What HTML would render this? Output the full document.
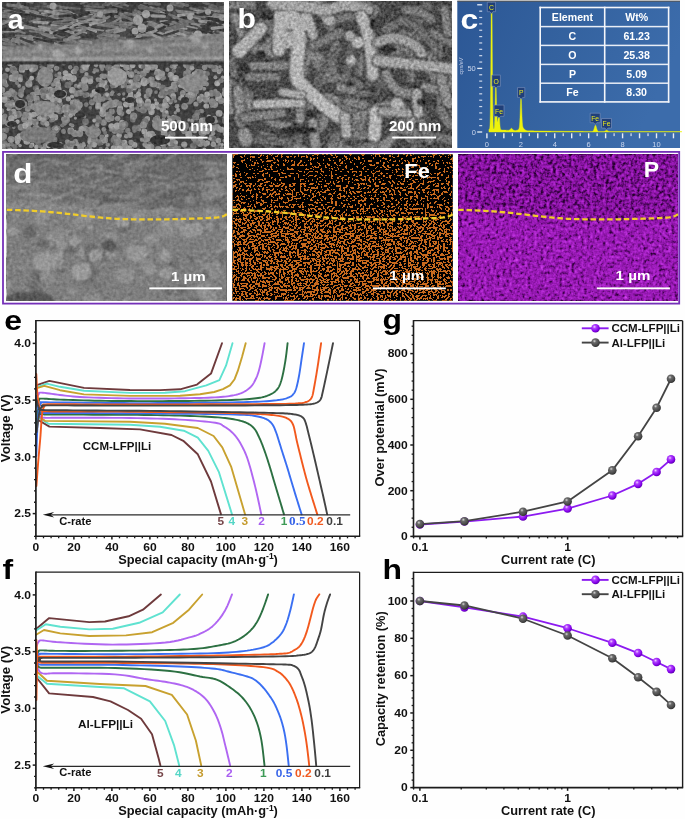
<!DOCTYPE html><html><head><meta charset="utf-8"><style>html,body{margin:0;padding:0;background:#fff;overflow:hidden}svg{display:block;will-change:transform}</style></head><body>
<svg width="685" height="819" viewBox="0 0 685 819">
<rect width="685" height="819" fill="#fefefe"/>
<defs>
<filter id="semN2" filterUnits="userSpaceOnUse" x="0" y="0" width="685" height="305" color-interpolation-filters="sRGB">
 <feTurbulence type="fractalNoise" baseFrequency="0.35" numOctaves="2" seed="9" result="t"/>
 <feColorMatrix in="t" type="matrix" values="0.33 0.33 0.33 0 0 0.33 0.33 0.33 0 0 0.33 0.33 0.33 0 0 0 0 0 0 1" result="g"/>
 <feComposite in="SourceGraphic" in2="g" operator="arithmetic" k1="0" k2="1" k3="0.7" k4="-0.35"/>
</filter>
<filter id="semD" filterUnits="userSpaceOnUse" x="0" y="0" width="685" height="305" color-interpolation-filters="sRGB">
 <feTurbulence type="fractalNoise" baseFrequency="0.3" numOctaves="2" seed="13" result="t"/>
 <feColorMatrix in="t" type="matrix" values="0.33 0.33 0.33 0 0 0.33 0.33 0.33 0 0 0.33 0.33 0.33 0 0 0 0 0 0 1" result="g"/>
 <feComposite in="SourceGraphic" in2="g" operator="arithmetic" k1="0" k2="1" k3="0.35" k4="-0.175"/>
</filter>
<filter id="blur1" filterUnits="userSpaceOnUse" x="0" y="0" width="685" height="305"><feGaussianBlur stdDeviation="1.0"/></filter>
<filter id="blur2" filterUnits="userSpaceOnUse" x="0" y="0" width="685" height="305"><feGaussianBlur stdDeviation="2.2"/></filter>
<filter id="blur4" filterUnits="userSpaceOnUse" x="0" y="0" width="685" height="305"><feGaussianBlur stdDeviation="4"/></filter>
<filter id="fedots" filterUnits="userSpaceOnUse" x="232.5" y="154.3" width="220.3" height="146.4" color-interpolation-filters="sRGB">
 <feTurbulence type="fractalNoise" baseFrequency="0.48" numOctaves="1" seed="11" result="t"/>
 <feColorMatrix in="t" type="matrix" values="0 0 0 0 0 0 0 0 0 0 0 0 0 0 0 1 0 0 0 0" result="na"/>
 <feColorMatrix in="SourceGraphic" type="matrix" values="0 0 0 0 0 0 0 0 0 0 0 0 0 0 0 1 0 0 0 0" result="da"/>
 <feComposite in="na" in2="da" operator="arithmetic" k1="0" k2="1" k3="1" k4="-0.5" result="s"/>
 <feComponentTransfer in="s"><feFuncA type="discrete" tableValues="0 1"/></feComponentTransfer>
 <feComposite in2="SourceAlpha" operator="in" result="m"/>
 <feFlood flood-color="#c96a1e"/>
 <feComposite in2="m" operator="in" result="o"/>
 <feFlood flood-color="#000"/>
 <feComposite in2="SourceAlpha" operator="in"/>
 <feComposite in="o" operator="over"/>
 
</filter>
<filter id="pnoise" filterUnits="userSpaceOnUse" x="458.2" y="154.3" width="219.8" height="146.4" color-interpolation-filters="sRGB">
 <feTurbulence type="fractalNoise" baseFrequency="0.32" numOctaves="2" seed="5" result="t"/>
 <feColorMatrix in="t" type="matrix" values="0.33 0.33 0.33 0 0 0.33 0.33 0.33 0 0 0.33 0.33 0.33 0 0 0 0 0 0 1" result="g"/>
 <feComposite in="SourceGraphic" in2="g" operator="arithmetic" k1="0" k2="1" k3="2.2" k4="-1.1" result="s"/>
 <feComponentTransfer in="s">
  <feFuncR type="table" tableValues="0.14 0.33 0.54 0.64 0.72 0.8"/>
  <feFuncG type="table" tableValues="0.0 0.03 0.08 0.12 0.18 0.26"/>
  <feFuncB type="table" tableValues="0.17 0.4 0.64 0.76 0.84 0.91"/>
  <feFuncA type="table" tableValues="1 1"/>
 </feComponentTransfer>
</filter>
<linearGradient id="cbg" x1="0" y1="0" x2="1" y2="0.3">
 <stop offset="0" stop-color="#2c5795"/><stop offset="0.5" stop-color="#34629f"/><stop offset="1" stop-color="#3c6cab"/>
</linearGradient>
</defs>
<svg x="2" y="2" width="222" height="147" viewBox="2 2 222 147" overflow="hidden"><g filter="url(#semD)">
<rect x="2" y="2" width="222" height="147" fill="#4a4a4a"/>
<rect x="2" y="2" width="222" height="44" fill="#484848"/>
<g>
<line x1="17.38" y1="38.09" x2="24.68" y2="37.59" stroke="#7e7e7e" stroke-width="3.05" stroke-linecap="round"/>
<line x1="78.94" y1="25.24" x2="97.08" y2="21.01" stroke="#7e7e7e" stroke-width="1.83" stroke-linecap="round"/>
<line x1="141.54" y1="-1.61" x2="159.23" y2="5.72" stroke="#808080" stroke-width="2.13" stroke-linecap="round"/>
<line x1="40.64" y1="8.15" x2="48.73" y2="5.22" stroke="#3a3a3a" stroke-width="1.97" stroke-linecap="round"/>
<line x1="65.18" y1="30.75" x2="74.75" y2="33.57" stroke="#969696" stroke-width="2.98" stroke-linecap="round"/>
<line x1="106.77" y1="23.76" x2="125.13" y2="23.26" stroke="#404040" stroke-width="1.92" stroke-linecap="round"/>
<line x1="144.97" y1="2.55" x2="160.24" y2="6.77" stroke="#363636" stroke-width="2.63" stroke-linecap="round"/>
<line x1="79.86" y1="5.63" x2="91.41" y2="7.2" stroke="#404040" stroke-width="3.13" stroke-linecap="round"/>
<line x1="124.25" y1="17.76" x2="141.28" y2="20.97" stroke="#808080" stroke-width="2.89" stroke-linecap="round"/>
<line x1="34.52" y1="42.28" x2="45.67" y2="46.13" stroke="#7e7e7e" stroke-width="2.55" stroke-linecap="round"/>
<line x1="135.26" y1="24.08" x2="151.41" y2="18.23" stroke="#3a3a3a" stroke-width="1.85" stroke-linecap="round"/>
<line x1="212.4" y1="0.78" x2="220.98" y2="0.84" stroke="#3a3a3a" stroke-width="1.9" stroke-linecap="round"/>
<line x1="23.47" y1="22.82" x2="30.73" y2="25.05" stroke="#3a3a3a" stroke-width="2.34" stroke-linecap="round"/>
<line x1="86.44" y1="6.38" x2="94.55" y2="2.13" stroke="#6e6e6e" stroke-width="2.01" stroke-linecap="round"/>
<line x1="158.24" y1="4.68" x2="170.16" y2="7.76" stroke="#808080" stroke-width="2.71" stroke-linecap="round"/>
<line x1="80.17" y1="23.79" x2="89.65" y2="19.78" stroke="#868686" stroke-width="2.23" stroke-linecap="round"/>
<line x1="211.37" y1="27.42" x2="230.79" y2="26.07" stroke="#363636" stroke-width="2.45" stroke-linecap="round"/>
<line x1="184.53" y1="33.33" x2="199.94" y2="32.52" stroke="#6e6e6e" stroke-width="2.63" stroke-linecap="round"/>
<line x1="103.66" y1="39.13" x2="109.84" y2="40.04" stroke="#747474" stroke-width="3" stroke-linecap="round"/>
<line x1="180.48" y1="20.97" x2="191.29" y2="21.46" stroke="#808080" stroke-width="2.48" stroke-linecap="round"/>
<line x1="222.51" y1="7.17" x2="236.63" y2="10.02" stroke="#3a3a3a" stroke-width="2.32" stroke-linecap="round"/>
<line x1="67.01" y1="11.2" x2="83.78" y2="10.53" stroke="#404040" stroke-width="1.85" stroke-linecap="round"/>
<line x1="2.64" y1="39.48" x2="9.27" y2="41.94" stroke="#808080" stroke-width="2.11" stroke-linecap="round"/>
<line x1="4.7" y1="10.75" x2="22" y2="7.58" stroke="#7e7e7e" stroke-width="2.66" stroke-linecap="round"/>
<line x1="-11.49" y1="18.04" x2="-3.9" y2="18.66" stroke="#909090" stroke-width="2.75" stroke-linecap="round"/>
<line x1="23.31" y1="37.77" x2="32.67" y2="39.65" stroke="#969696" stroke-width="2.24" stroke-linecap="round"/>
<line x1="35.04" y1="12.79" x2="44.63" y2="16.77" stroke="#868686" stroke-width="1.89" stroke-linecap="round"/>
<line x1="61.48" y1="25.39" x2="75.47" y2="31.49" stroke="#3a3a3a" stroke-width="2.06" stroke-linecap="round"/>
<line x1="35.09" y1="7.28" x2="50.07" y2="6.45" stroke="#747474" stroke-width="2.35" stroke-linecap="round"/>
<line x1="58.94" y1="12.94" x2="73.49" y2="13.36" stroke="#363636" stroke-width="1.93" stroke-linecap="round"/>
<line x1="38.06" y1="35.57" x2="47.45" y2="31.93" stroke="#404040" stroke-width="2.49" stroke-linecap="round"/>
<line x1="192.9" y1="4.21" x2="212.62" y2="5.84" stroke="#404040" stroke-width="2.23" stroke-linecap="round"/>
<line x1="155.95" y1="32.86" x2="173.05" y2="36.54" stroke="#363636" stroke-width="2.93" stroke-linecap="round"/>
<line x1="203.62" y1="31.51" x2="213.15" y2="32.01" stroke="#868686" stroke-width="2.75" stroke-linecap="round"/>
<line x1="92.65" y1="17.05" x2="102.26" y2="16.89" stroke="#7e7e7e" stroke-width="2.91" stroke-linecap="round"/>
<line x1="209.77" y1="36.67" x2="220.66" y2="40.55" stroke="#6e6e6e" stroke-width="2.04" stroke-linecap="round"/>
<line x1="6.51" y1="21.2" x2="15.83" y2="20.72" stroke="#969696" stroke-width="2.76" stroke-linecap="round"/>
<line x1="215.53" y1="26.07" x2="222.2" y2="26.28" stroke="#868686" stroke-width="2.87" stroke-linecap="round"/>
<line x1="140.51" y1="13.62" x2="151.72" y2="13.82" stroke="#969696" stroke-width="2.63" stroke-linecap="round"/>
<line x1="191.36" y1="34.17" x2="207.44" y2="33.99" stroke="#7e7e7e" stroke-width="2.49" stroke-linecap="round"/>
<line x1="79.86" y1="26.54" x2="95.96" y2="20.18" stroke="#868686" stroke-width="2.17" stroke-linecap="round"/>
<line x1="205" y1="36.19" x2="221.7" y2="42.66" stroke="#747474" stroke-width="3.16" stroke-linecap="round"/>
<line x1="77.15" y1="34.05" x2="84.78" y2="33.34" stroke="#363636" stroke-width="2.55" stroke-linecap="round"/>
<line x1="204.14" y1="24.31" x2="210.41" y2="24.92" stroke="#363636" stroke-width="2.14" stroke-linecap="round"/>
<line x1="47.76" y1="5.97" x2="63.46" y2="12.68" stroke="#909090" stroke-width="2.56" stroke-linecap="round"/>
<line x1="103.29" y1="35.54" x2="110.74" y2="33.81" stroke="#7e7e7e" stroke-width="2.56" stroke-linecap="round"/>
<line x1="217.55" y1="27.91" x2="233.03" y2="28.24" stroke="#808080" stroke-width="2.25" stroke-linecap="round"/>
<line x1="14.86" y1="32.04" x2="28.8" y2="26.32" stroke="#6e6e6e" stroke-width="2.34" stroke-linecap="round"/>
<line x1="119.21" y1="41.01" x2="132.52" y2="46.54" stroke="#808080" stroke-width="2.37" stroke-linecap="round"/>
<line x1="164.46" y1="38.91" x2="178.69" y2="32.78" stroke="#363636" stroke-width="2.4" stroke-linecap="round"/>
<line x1="82.67" y1="36.49" x2="97.6" y2="37.47" stroke="#3a3a3a" stroke-width="2.68" stroke-linecap="round"/>
<line x1="83.09" y1="26.11" x2="89.13" y2="27.22" stroke="#3a3a3a" stroke-width="2.92" stroke-linecap="round"/>
<line x1="84.08" y1="28.58" x2="96.88" y2="31.58" stroke="#363636" stroke-width="2.39" stroke-linecap="round"/>
<line x1="70.6" y1="27.67" x2="83.5" y2="34.23" stroke="#747474" stroke-width="2.54" stroke-linecap="round"/>
<line x1="42.17" y1="13.47" x2="58.44" y2="14.71" stroke="#909090" stroke-width="2.22" stroke-linecap="round"/>
<line x1="162.16" y1="39.36" x2="178.56" y2="44.02" stroke="#363636" stroke-width="2.26" stroke-linecap="round"/>
<line x1="38.58" y1="42.77" x2="57.36" y2="45.62" stroke="#747474" stroke-width="2.9" stroke-linecap="round"/>
<line x1="30.77" y1="27.27" x2="49.74" y2="30.47" stroke="#969696" stroke-width="2.54" stroke-linecap="round"/>
<line x1="18.41" y1="4.53" x2="24.81" y2="7.25" stroke="#747474" stroke-width="2.36" stroke-linecap="round"/>
<line x1="103.66" y1="2.38" x2="115.28" y2="-3.26" stroke="#808080" stroke-width="2.94" stroke-linecap="round"/>
<line x1="217.35" y1="22.1" x2="225.95" y2="25.55" stroke="#969696" stroke-width="2.33" stroke-linecap="round"/>
<line x1="25.63" y1="8.88" x2="37.83" y2="13.23" stroke="#868686" stroke-width="3.07" stroke-linecap="round"/>
<line x1="224.65" y1="-0.2" x2="236.19" y2="0.96" stroke="#909090" stroke-width="2.91" stroke-linecap="round"/>
<line x1="-7.66" y1="16.71" x2="9.98" y2="22.88" stroke="#7e7e7e" stroke-width="2.55" stroke-linecap="round"/>
<line x1="111.5" y1="3.61" x2="127.88" y2="4.9" stroke="#747474" stroke-width="2.73" stroke-linecap="round"/>
<line x1="78.92" y1="26.3" x2="87.13" y2="28.3" stroke="#6e6e6e" stroke-width="2.65" stroke-linecap="round"/>
<line x1="120.02" y1="20.56" x2="138.49" y2="24.48" stroke="#868686" stroke-width="2.8" stroke-linecap="round"/>
<line x1="164.13" y1="27.88" x2="181.73" y2="31.31" stroke="#7e7e7e" stroke-width="2.69" stroke-linecap="round"/>
<line x1="204.88" y1="18.41" x2="223.3" y2="16.34" stroke="#969696" stroke-width="1.83" stroke-linecap="round"/>
<line x1="111.41" y1="1.94" x2="127.51" y2="4.4" stroke="#3a3a3a" stroke-width="2.91" stroke-linecap="round"/>
<line x1="179.47" y1="32.94" x2="192.27" y2="35.87" stroke="#6e6e6e" stroke-width="3.14" stroke-linecap="round"/>
<line x1="125.78" y1="2.5" x2="139" y2="5.23" stroke="#3a3a3a" stroke-width="2.84" stroke-linecap="round"/>
<line x1="33.19" y1="16.17" x2="43.58" y2="16.35" stroke="#3a3a3a" stroke-width="2.25" stroke-linecap="round"/>
<line x1="50.71" y1="32.42" x2="64.5" y2="34.96" stroke="#969696" stroke-width="3.17" stroke-linecap="round"/>
<line x1="100.61" y1="38.14" x2="108.38" y2="36.83" stroke="#808080" stroke-width="2.49" stroke-linecap="round"/>
<line x1="190.6" y1="8.17" x2="201.85" y2="11.14" stroke="#969696" stroke-width="2.64" stroke-linecap="round"/>
<line x1="67.05" y1="21" x2="85.87" y2="24.55" stroke="#363636" stroke-width="1.87" stroke-linecap="round"/>
<line x1="8.91" y1="24" x2="25.31" y2="16.65" stroke="#747474" stroke-width="2.7" stroke-linecap="round"/>
<line x1="26.78" y1="38.44" x2="41.14" y2="37.92" stroke="#747474" stroke-width="2.4" stroke-linecap="round"/>
<line x1="147.82" y1="20.92" x2="158.63" y2="25.4" stroke="#7e7e7e" stroke-width="2.85" stroke-linecap="round"/>
<line x1="170.65" y1="19.18" x2="180.96" y2="15.57" stroke="#969696" stroke-width="1.81" stroke-linecap="round"/>
<line x1="216.49" y1="25.38" x2="234.32" y2="33.49" stroke="#808080" stroke-width="2.7" stroke-linecap="round"/>
<line x1="224.5" y1="9.02" x2="234.73" y2="10.29" stroke="#3a3a3a" stroke-width="1.98" stroke-linecap="round"/>
<line x1="92.05" y1="4.22" x2="98.54" y2="4.61" stroke="#6e6e6e" stroke-width="2.36" stroke-linecap="round"/>
<line x1="210.7" y1="33.43" x2="219.6" y2="37.56" stroke="#404040" stroke-width="2.69" stroke-linecap="round"/>
<line x1="190.39" y1="29.04" x2="207.73" y2="30.51" stroke="#404040" stroke-width="3" stroke-linecap="round"/>
<line x1="127.09" y1="10.32" x2="136.96" y2="14.47" stroke="#969696" stroke-width="2.1" stroke-linecap="round"/>
<line x1="184.94" y1="36.55" x2="191.88" y2="33.86" stroke="#909090" stroke-width="2.47" stroke-linecap="round"/>
<line x1="214.47" y1="13.73" x2="223.22" y2="16.07" stroke="#6e6e6e" stroke-width="2.29" stroke-linecap="round"/>
<line x1="213.01" y1="36.28" x2="227.96" y2="40.68" stroke="#909090" stroke-width="2.47" stroke-linecap="round"/>
<line x1="176.18" y1="33.13" x2="191.5" y2="35.76" stroke="#969696" stroke-width="3.07" stroke-linecap="round"/>
<line x1="12.99" y1="38.54" x2="29.04" y2="41.96" stroke="#808080" stroke-width="2.2" stroke-linecap="round"/>
<line x1="103.69" y1="37.25" x2="119.48" y2="32.11" stroke="#404040" stroke-width="3.1" stroke-linecap="round"/>
<line x1="218.45" y1="8.5" x2="227.45" y2="12.36" stroke="#747474" stroke-width="2.38" stroke-linecap="round"/>
<line x1="16.38" y1="7.25" x2="35.61" y2="7.78" stroke="#3a3a3a" stroke-width="2.19" stroke-linecap="round"/>
<line x1="152.6" y1="9.19" x2="168.93" y2="8.58" stroke="#363636" stroke-width="2.77" stroke-linecap="round"/>
<line x1="113.88" y1="0.53" x2="127.63" y2="5.78" stroke="#969696" stroke-width="2.26" stroke-linecap="round"/>
<line x1="15.83" y1="4.64" x2="24.18" y2="0.86" stroke="#747474" stroke-width="2.5" stroke-linecap="round"/>
<line x1="144.04" y1="11" x2="153.93" y2="11.76" stroke="#404040" stroke-width="2.18" stroke-linecap="round"/>
<line x1="158.22" y1="13.8" x2="164.79" y2="13.56" stroke="#868686" stroke-width="1.93" stroke-linecap="round"/>
<line x1="225.71" y1="9.69" x2="244.11" y2="14.7" stroke="#747474" stroke-width="1.93" stroke-linecap="round"/>
<line x1="64.25" y1="-1.64" x2="78.61" y2="0.21" stroke="#3a3a3a" stroke-width="2.37" stroke-linecap="round"/>
<line x1="148.64" y1="24.1" x2="161.6" y2="28.49" stroke="#7e7e7e" stroke-width="2.64" stroke-linecap="round"/>
<line x1="11.48" y1="9.44" x2="23.97" y2="11.28" stroke="#6e6e6e" stroke-width="2.79" stroke-linecap="round"/>
<line x1="164.52" y1="0.86" x2="170.92" y2="1.44" stroke="#3a3a3a" stroke-width="2.42" stroke-linecap="round"/>
<line x1="16.86" y1="1.52" x2="26.97" y2="6.13" stroke="#3a3a3a" stroke-width="2.02" stroke-linecap="round"/>
<line x1="189.64" y1="13.43" x2="208.77" y2="16.23" stroke="#808080" stroke-width="3.13" stroke-linecap="round"/>
<line x1="206.64" y1="23.55" x2="221.89" y2="26.4" stroke="#3a3a3a" stroke-width="3.11" stroke-linecap="round"/>
<line x1="83.43" y1="25.06" x2="98.89" y2="16.55" stroke="#363636" stroke-width="2" stroke-linecap="round"/>
<line x1="107.45" y1="13.57" x2="126.26" y2="16.13" stroke="#363636" stroke-width="2.14" stroke-linecap="round"/>
<line x1="120.53" y1="13.45" x2="129.09" y2="17.68" stroke="#7e7e7e" stroke-width="2.66" stroke-linecap="round"/>
<line x1="85" y1="14" x2="91.78" y2="13.7" stroke="#868686" stroke-width="3.05" stroke-linecap="round"/>
<line x1="26.5" y1="28.17" x2="37.85" y2="27.67" stroke="#909090" stroke-width="2.36" stroke-linecap="round"/>
<line x1="39.9" y1="9.52" x2="52.47" y2="12.4" stroke="#747474" stroke-width="2.4" stroke-linecap="round"/>
<line x1="81.12" y1="3.39" x2="95.41" y2="-1.6" stroke="#909090" stroke-width="2.44" stroke-linecap="round"/>
<line x1="75.86" y1="20.57" x2="82.01" y2="21.78" stroke="#6e6e6e" stroke-width="2.94" stroke-linecap="round"/>
<line x1="154.83" y1="31.15" x2="172.52" y2="37.2" stroke="#909090" stroke-width="2.28" stroke-linecap="round"/>
<line x1="42.64" y1="33.88" x2="51.39" y2="37.02" stroke="#7e7e7e" stroke-width="3.11" stroke-linecap="round"/>
<line x1="159.63" y1="27.14" x2="173.11" y2="23.58" stroke="#7e7e7e" stroke-width="2.34" stroke-linecap="round"/>
<line x1="119.95" y1="25.71" x2="132.17" y2="28.48" stroke="#6e6e6e" stroke-width="2.03" stroke-linecap="round"/>
<line x1="17.1" y1="24.58" x2="25.29" y2="26.18" stroke="#6e6e6e" stroke-width="2.78" stroke-linecap="round"/>
<line x1="179.82" y1="18.22" x2="186.99" y2="18.03" stroke="#404040" stroke-width="2.27" stroke-linecap="round"/>
<line x1="19.39" y1="10.04" x2="28.14" y2="12.78" stroke="#868686" stroke-width="2.92" stroke-linecap="round"/>
<line x1="114.55" y1="6.61" x2="121.67" y2="7.36" stroke="#868686" stroke-width="2.01" stroke-linecap="round"/>
<line x1="145.82" y1="-0.72" x2="152.78" y2="0.31" stroke="#747474" stroke-width="2.99" stroke-linecap="round"/>
<line x1="18.6" y1="7.57" x2="29.47" y2="7.25" stroke="#808080" stroke-width="2.21" stroke-linecap="round"/>
<line x1="108.94" y1="11.05" x2="124.08" y2="17.79" stroke="#3a3a3a" stroke-width="2.67" stroke-linecap="round"/>
<line x1="-2.45" y1="35.58" x2="11.08" y2="41.73" stroke="#747474" stroke-width="2.84" stroke-linecap="round"/>
<line x1="106.52" y1="15.36" x2="114.31" y2="16.48" stroke="#363636" stroke-width="2.16" stroke-linecap="round"/>
<line x1="-14.12" y1="3.87" x2="-7.84" y2="5.62" stroke="#909090" stroke-width="2.74" stroke-linecap="round"/>
<line x1="207.05" y1="17.97" x2="222.13" y2="14.99" stroke="#909090" stroke-width="2.06" stroke-linecap="round"/>
<line x1="-11.17" y1="34.52" x2="-3.86" y2="34.3" stroke="#7e7e7e" stroke-width="2.98" stroke-linecap="round"/>
<line x1="185.94" y1="5.66" x2="196.97" y2="5.66" stroke="#363636" stroke-width="3.17" stroke-linecap="round"/>
<line x1="172.22" y1="0.65" x2="183.64" y2="5.9" stroke="#363636" stroke-width="2.5" stroke-linecap="round"/>
<line x1="223.73" y1="30.63" x2="232.58" y2="34.72" stroke="#404040" stroke-width="2.46" stroke-linecap="round"/>
<line x1="210.25" y1="19.86" x2="224.59" y2="19.77" stroke="#808080" stroke-width="2.99" stroke-linecap="round"/>
<line x1="51.94" y1="37.72" x2="65.84" y2="40.38" stroke="#7e7e7e" stroke-width="2.6" stroke-linecap="round"/>
<line x1="-11.53" y1="41.72" x2="5.81" y2="48.29" stroke="#868686" stroke-width="2.99" stroke-linecap="round"/>
<line x1="92.54" y1="20.15" x2="100.61" y2="20.05" stroke="#868686" stroke-width="2.37" stroke-linecap="round"/>
<line x1="193.9" y1="14.94" x2="211.36" y2="14.16" stroke="#3a3a3a" stroke-width="2.86" stroke-linecap="round"/>
<line x1="80.69" y1="10.71" x2="87.12" y2="13.86" stroke="#3a3a3a" stroke-width="2.57" stroke-linecap="round"/>
<line x1="139.51" y1="7.96" x2="156.98" y2="9.05" stroke="#868686" stroke-width="2.57" stroke-linecap="round"/>
<line x1="66.86" y1="11.42" x2="77.66" y2="16.29" stroke="#909090" stroke-width="3.04" stroke-linecap="round"/>
<line x1="-5.21" y1="26.36" x2="8.5" y2="22.59" stroke="#363636" stroke-width="2.51" stroke-linecap="round"/>
<line x1="158.89" y1="17.09" x2="167.57" y2="19.76" stroke="#7e7e7e" stroke-width="1.82" stroke-linecap="round"/>
<line x1="102.79" y1="5.21" x2="109.22" y2="4.38" stroke="#808080" stroke-width="2.08" stroke-linecap="round"/>
<line x1="91.76" y1="8.77" x2="107.32" y2="8.01" stroke="#3a3a3a" stroke-width="3.14" stroke-linecap="round"/>
<line x1="125.08" y1="24.39" x2="144.29" y2="26.59" stroke="#6e6e6e" stroke-width="2.96" stroke-linecap="round"/>
<line x1="125.31" y1="12.57" x2="138.9" y2="15.42" stroke="#808080" stroke-width="3.12" stroke-linecap="round"/>
<line x1="191.08" y1="22.21" x2="205.28" y2="28.34" stroke="#808080" stroke-width="2.22" stroke-linecap="round"/>
<line x1="169.35" y1="14.34" x2="186.35" y2="21.61" stroke="#747474" stroke-width="2.51" stroke-linecap="round"/>
<line x1="35.4" y1="20.17" x2="45.55" y2="15.95" stroke="#7e7e7e" stroke-width="2.16" stroke-linecap="round"/>
<line x1="115.41" y1="0.34" x2="123.7" y2="-2.95" stroke="#868686" stroke-width="2.26" stroke-linecap="round"/>
<line x1="146.83" y1="32.59" x2="163.93" y2="23.28" stroke="#909090" stroke-width="2.86" stroke-linecap="round"/>
<line x1="167.38" y1="28.97" x2="185.81" y2="23.72" stroke="#6e6e6e" stroke-width="3.11" stroke-linecap="round"/>
<line x1="131.49" y1="24.39" x2="147.28" y2="28.89" stroke="#404040" stroke-width="1.8" stroke-linecap="round"/>
<line x1="154.78" y1="10.85" x2="167.56" y2="12.21" stroke="#363636" stroke-width="1.96" stroke-linecap="round"/>
<line x1="140.64" y1="32.34" x2="153.19" y2="28.88" stroke="#363636" stroke-width="2.85" stroke-linecap="round"/>
<line x1="165.6" y1="38.95" x2="173.85" y2="39.71" stroke="#3a3a3a" stroke-width="3.09" stroke-linecap="round"/>
<line x1="220.82" y1="0.68" x2="226.44" y2="-2.56" stroke="#404040" stroke-width="2.27" stroke-linecap="round"/>
<line x1="-10.48" y1="-1.57" x2="-1.96" y2="-2.29" stroke="#6e6e6e" stroke-width="3.04" stroke-linecap="round"/>
<line x1="42.5" y1="23.71" x2="58.15" y2="18" stroke="#747474" stroke-width="2.11" stroke-linecap="round"/>
<line x1="58.31" y1="34.81" x2="64.9" y2="34.47" stroke="#3a3a3a" stroke-width="3.15" stroke-linecap="round"/>
<line x1="-0.95" y1="2.29" x2="5.57" y2="-0.83" stroke="#747474" stroke-width="3.11" stroke-linecap="round"/>
<line x1="157.09" y1="19.99" x2="168.51" y2="24.72" stroke="#363636" stroke-width="2.34" stroke-linecap="round"/>
<line x1="148.62" y1="1.76" x2="157.84" y2="0.21" stroke="#6e6e6e" stroke-width="3.04" stroke-linecap="round"/>
<line x1="113.28" y1="38.02" x2="131.83" y2="43.74" stroke="#808080" stroke-width="1.82" stroke-linecap="round"/>
<line x1="15.69" y1="5.96" x2="23.54" y2="6.78" stroke="#868686" stroke-width="2.94" stroke-linecap="round"/>
<line x1="46.19" y1="14.43" x2="63.75" y2="19.95" stroke="#868686" stroke-width="2.98" stroke-linecap="round"/>
<line x1="149.97" y1="0.91" x2="164.4" y2="8.48" stroke="#404040" stroke-width="2.51" stroke-linecap="round"/>
<line x1="194.75" y1="32.5" x2="200.99" y2="34.15" stroke="#3a3a3a" stroke-width="3.04" stroke-linecap="round"/>
<line x1="156.5" y1="31.32" x2="164.61" y2="26.89" stroke="#3a3a3a" stroke-width="2.78" stroke-linecap="round"/>
<line x1="-13.35" y1="2.71" x2="-0.73" y2="8.82" stroke="#808080" stroke-width="3.06" stroke-linecap="round"/>
<line x1="115.01" y1="37.21" x2="133.05" y2="38.63" stroke="#747474" stroke-width="2.41" stroke-linecap="round"/>
<line x1="2.87" y1="7.83" x2="19.39" y2="3.95" stroke="#868686" stroke-width="2.65" stroke-linecap="round"/>
<line x1="148.39" y1="34.48" x2="156.37" y2="30.23" stroke="#969696" stroke-width="2.57" stroke-linecap="round"/>
<line x1="202.2" y1="32.06" x2="217.42" y2="34.27" stroke="#3a3a3a" stroke-width="2.65" stroke-linecap="round"/>
<line x1="199.59" y1="20.93" x2="205.77" y2="21.95" stroke="#909090" stroke-width="3.07" stroke-linecap="round"/>
<line x1="39.42" y1="10.19" x2="54.21" y2="11.72" stroke="#7e7e7e" stroke-width="1.96" stroke-linecap="round"/>
<line x1="88.78" y1="25.25" x2="103.07" y2="31.13" stroke="#404040" stroke-width="2" stroke-linecap="round"/>
<line x1="7.8" y1="15.02" x2="25.16" y2="24.11" stroke="#747474" stroke-width="1.85" stroke-linecap="round"/>
<line x1="139.17" y1="1.35" x2="156.3" y2="1.81" stroke="#363636" stroke-width="2.79" stroke-linecap="round"/>
<line x1="80.84" y1="15.28" x2="97.58" y2="20.4" stroke="#969696" stroke-width="2.13" stroke-linecap="round"/>
<line x1="140.42" y1="21.17" x2="159.4" y2="17.39" stroke="#363636" stroke-width="2.27" stroke-linecap="round"/>
<line x1="179.78" y1="21.21" x2="192.91" y2="21.49" stroke="#6e6e6e" stroke-width="3.19" stroke-linecap="round"/>
<line x1="14.73" y1="10.43" x2="23.81" y2="12.29" stroke="#6e6e6e" stroke-width="2.46" stroke-linecap="round"/>
<line x1="108.02" y1="11.59" x2="123.57" y2="11.62" stroke="#404040" stroke-width="1.97" stroke-linecap="round"/>
<line x1="76.58" y1="27.42" x2="83.34" y2="27.64" stroke="#868686" stroke-width="1.94" stroke-linecap="round"/>
<line x1="78.4" y1="17.89" x2="90.7" y2="17.65" stroke="#6e6e6e" stroke-width="2.21" stroke-linecap="round"/>
<line x1="69.06" y1="32.21" x2="88.32" y2="28.29" stroke="#808080" stroke-width="2.12" stroke-linecap="round"/>
<line x1="189.8" y1="15.84" x2="199.95" y2="19.02" stroke="#868686" stroke-width="2.03" stroke-linecap="round"/>
<line x1="115.39" y1="16.53" x2="129.91" y2="17.51" stroke="#747474" stroke-width="2.9" stroke-linecap="round"/>
<line x1="222.03" y1="32.7" x2="234.86" y2="37.88" stroke="#3a3a3a" stroke-width="2.36" stroke-linecap="round"/>
<line x1="78.39" y1="30.16" x2="86.28" y2="33.16" stroke="#969696" stroke-width="2.05" stroke-linecap="round"/>
<line x1="21.95" y1="2.97" x2="36.21" y2="10.52" stroke="#404040" stroke-width="2.59" stroke-linecap="round"/>
<line x1="177.57" y1="11.22" x2="196.55" y2="13.13" stroke="#7e7e7e" stroke-width="2.89" stroke-linecap="round"/>
<line x1="203.18" y1="28.29" x2="211.79" y2="30.64" stroke="#3a3a3a" stroke-width="3.07" stroke-linecap="round"/>
<line x1="60.56" y1="43.37" x2="74.88" y2="45.43" stroke="#363636" stroke-width="2.98" stroke-linecap="round"/>
<line x1="38.55" y1="1.06" x2="45.31" y2="3.82" stroke="#6e6e6e" stroke-width="3.13" stroke-linecap="round"/>
<line x1="11.85" y1="35.59" x2="31.47" y2="36.1" stroke="#747474" stroke-width="2.07" stroke-linecap="round"/>
<line x1="24.7" y1="23.28" x2="38.58" y2="27.48" stroke="#404040" stroke-width="2.63" stroke-linecap="round"/>
<line x1="-10" y1="35.71" x2="3.44" y2="36.44" stroke="#363636" stroke-width="3.19" stroke-linecap="round"/>
<line x1="35.38" y1="31.02" x2="53.11" y2="36" stroke="#747474" stroke-width="2.09" stroke-linecap="round"/>
<line x1="203.91" y1="-1.8" x2="221.46" y2="-6.39" stroke="#404040" stroke-width="1.95" stroke-linecap="round"/>
<line x1="158.19" y1="39.42" x2="175.94" y2="46.36" stroke="#6e6e6e" stroke-width="2.38" stroke-linecap="round"/>
<line x1="73.7" y1="22.73" x2="90.5" y2="25.22" stroke="#969696" stroke-width="2.59" stroke-linecap="round"/>
<line x1="-1.94" y1="37.19" x2="13.64" y2="35.03" stroke="#404040" stroke-width="3.07" stroke-linecap="round"/>
<line x1="172.73" y1="22.04" x2="179.82" y2="24.87" stroke="#747474" stroke-width="2.69" stroke-linecap="round"/>
<line x1="15.02" y1="43.07" x2="21.88" y2="44.09" stroke="#363636" stroke-width="2.4" stroke-linecap="round"/>
<line x1="98.22" y1="24.56" x2="117.36" y2="27.2" stroke="#747474" stroke-width="3.08" stroke-linecap="round"/>
<line x1="111.13" y1="18.8" x2="118.49" y2="20.01" stroke="#404040" stroke-width="1.95" stroke-linecap="round"/>
<line x1="203.43" y1="2.43" x2="215.61" y2="6.44" stroke="#7e7e7e" stroke-width="2.6" stroke-linecap="round"/>
<line x1="120.08" y1="14.93" x2="138.29" y2="19.32" stroke="#404040" stroke-width="2.88" stroke-linecap="round"/>
<line x1="213.75" y1="15.42" x2="222.31" y2="15.56" stroke="#808080" stroke-width="3.16" stroke-linecap="round"/>
<line x1="80.87" y1="41.29" x2="91.06" y2="42.69" stroke="#868686" stroke-width="3.19" stroke-linecap="round"/>
<line x1="103.95" y1="34.01" x2="111.15" y2="37.35" stroke="#808080" stroke-width="3.2" stroke-linecap="round"/>
<line x1="225.7" y1="31.16" x2="238.4" y2="26.49" stroke="#3a3a3a" stroke-width="2.67" stroke-linecap="round"/>
<line x1="0.61" y1="20.16" x2="7.01" y2="16.51" stroke="#404040" stroke-width="2.65" stroke-linecap="round"/>
<line x1="138.63" y1="27.22" x2="147.14" y2="25.79" stroke="#7e7e7e" stroke-width="2.66" stroke-linecap="round"/>
<line x1="179.33" y1="2.79" x2="186.57" y2="3.3" stroke="#404040" stroke-width="3.06" stroke-linecap="round"/>
<line x1="187.53" y1="15.63" x2="205.81" y2="10.22" stroke="#7e7e7e" stroke-width="2.4" stroke-linecap="round"/>
<line x1="217.59" y1="31.14" x2="236.49" y2="35.27" stroke="#6e6e6e" stroke-width="2.3" stroke-linecap="round"/>
<line x1="70.55" y1="39.15" x2="79.92" y2="43.89" stroke="#747474" stroke-width="2.11" stroke-linecap="round"/>
<line x1="22.35" y1="39.99" x2="28.21" y2="41.41" stroke="#3a3a3a" stroke-width="2.17" stroke-linecap="round"/>
<line x1="176.12" y1="9.92" x2="187.72" y2="14.31" stroke="#7e7e7e" stroke-width="1.98" stroke-linecap="round"/>
<line x1="191.57" y1="24.03" x2="204.44" y2="24.76" stroke="#868686" stroke-width="2.05" stroke-linecap="round"/>
<line x1="71.4" y1="27.04" x2="85.52" y2="22.74" stroke="#909090" stroke-width="2.4" stroke-linecap="round"/>
<line x1="-0.38" y1="16.66" x2="17.2" y2="17.72" stroke="#868686" stroke-width="2.26" stroke-linecap="round"/>
<line x1="212.37" y1="20.17" x2="228.32" y2="14.94" stroke="#969696" stroke-width="2.17" stroke-linecap="round"/>
<line x1="7.83" y1="4.63" x2="27.15" y2="7.82" stroke="#969696" stroke-width="2.92" stroke-linecap="round"/>
<line x1="170.95" y1="18.97" x2="177.94" y2="20.58" stroke="#363636" stroke-width="1.86" stroke-linecap="round"/>
<line x1="170.43" y1="0.82" x2="187.72" y2="5.48" stroke="#909090" stroke-width="3.04" stroke-linecap="round"/>
<line x1="70.6" y1="21.77" x2="87.79" y2="25.73" stroke="#404040" stroke-width="2.8" stroke-linecap="round"/>
<line x1="126.66" y1="26.19" x2="135.43" y2="22.21" stroke="#747474" stroke-width="1.99" stroke-linecap="round"/>
<line x1="181.3" y1="37.32" x2="187.81" y2="37.94" stroke="#747474" stroke-width="2.36" stroke-linecap="round"/>
<line x1="12.14" y1="40.6" x2="19.1" y2="42.31" stroke="#868686" stroke-width="2.95" stroke-linecap="round"/>
<line x1="13.88" y1="19.99" x2="22.38" y2="18.22" stroke="#747474" stroke-width="2.23" stroke-linecap="round"/>
<line x1="110.08" y1="10.82" x2="116.59" y2="11.85" stroke="#868686" stroke-width="2.24" stroke-linecap="round"/>
<line x1="144.49" y1="2.83" x2="160.08" y2="2.2" stroke="#7e7e7e" stroke-width="2.42" stroke-linecap="round"/>
<line x1="160.6" y1="21.26" x2="166.7" y2="20" stroke="#909090" stroke-width="2.25" stroke-linecap="round"/>
<line x1="123.98" y1="20.27" x2="141.59" y2="25" stroke="#808080" stroke-width="2.54" stroke-linecap="round"/>
<line x1="97.18" y1="1.9" x2="103.87" y2="2.55" stroke="#404040" stroke-width="2" stroke-linecap="round"/>
<line x1="61.8" y1="-0.14" x2="69.11" y2="-2.95" stroke="#6e6e6e" stroke-width="2.56" stroke-linecap="round"/>
<line x1="116.18" y1="23.66" x2="125.87" y2="24.57" stroke="#808080" stroke-width="2.53" stroke-linecap="round"/>
<line x1="113.59" y1="5.06" x2="120.75" y2="1.24" stroke="#868686" stroke-width="2.97" stroke-linecap="round"/>
<line x1="-5.42" y1="26.31" x2="13.03" y2="19.76" stroke="#6e6e6e" stroke-width="3.02" stroke-linecap="round"/>
<line x1="0.29" y1="14.22" x2="9.07" y2="18.19" stroke="#6e6e6e" stroke-width="2.3" stroke-linecap="round"/>
<line x1="224.36" y1="20.1" x2="231.31" y2="21.34" stroke="#6e6e6e" stroke-width="3.03" stroke-linecap="round"/>
<line x1="104.09" y1="40.88" x2="116.38" y2="45.59" stroke="#404040" stroke-width="2.75" stroke-linecap="round"/>
<line x1="51.68" y1="25.07" x2="67.58" y2="28.26" stroke="#969696" stroke-width="2.85" stroke-linecap="round"/>
<line x1="-8.32" y1="22.23" x2="0.72" y2="21.62" stroke="#868686" stroke-width="2.04" stroke-linecap="round"/>
<line x1="74.65" y1="26.66" x2="88.17" y2="23.56" stroke="#363636" stroke-width="1.92" stroke-linecap="round"/>
<line x1="146.57" y1="0.49" x2="152.68" y2="1.74" stroke="#404040" stroke-width="2.13" stroke-linecap="round"/>
<line x1="218.15" y1="11.58" x2="227.38" y2="12.13" stroke="#6e6e6e" stroke-width="1.86" stroke-linecap="round"/>
<line x1="62.19" y1="18.67" x2="77.43" y2="21.02" stroke="#969696" stroke-width="2.06" stroke-linecap="round"/>
<line x1="-5.22" y1="38.65" x2="1.38" y2="36.03" stroke="#6e6e6e" stroke-width="2.03" stroke-linecap="round"/>
<line x1="88.77" y1="35.13" x2="98.57" y2="37.11" stroke="#404040" stroke-width="3.11" stroke-linecap="round"/>
<line x1="95.06" y1="15.57" x2="104.1" y2="17.06" stroke="#7e7e7e" stroke-width="2.99" stroke-linecap="round"/>
<line x1="2.47" y1="31.96" x2="19.92" y2="30.81" stroke="#868686" stroke-width="2.11" stroke-linecap="round"/>
<line x1="12.22" y1="0.7" x2="18.42" y2="3.28" stroke="#969696" stroke-width="3.04" stroke-linecap="round"/>
<line x1="139.63" y1="13.09" x2="146.57" y2="14.87" stroke="#969696" stroke-width="2.59" stroke-linecap="round"/>
<line x1="223.56" y1="14.85" x2="241.89" y2="21.43" stroke="#6e6e6e" stroke-width="1.89" stroke-linecap="round"/>
<line x1="127.92" y1="39.73" x2="140.75" y2="35.73" stroke="#969696" stroke-width="3.13" stroke-linecap="round"/>
<line x1="41.19" y1="26.58" x2="56.22" y2="27.47" stroke="#6e6e6e" stroke-width="2.48" stroke-linecap="round"/>
<line x1="154.64" y1="-0.57" x2="164.44" y2="0.09" stroke="#363636" stroke-width="3" stroke-linecap="round"/>
<line x1="208.07" y1="33.72" x2="225.33" y2="42.28" stroke="#868686" stroke-width="1.81" stroke-linecap="round"/>
<line x1="-9.2" y1="11.47" x2="3.86" y2="15.93" stroke="#868686" stroke-width="2.79" stroke-linecap="round"/>
<line x1="96.67" y1="1.14" x2="106.44" y2="-1.27" stroke="#7e7e7e" stroke-width="2.77" stroke-linecap="round"/>
<line x1="90.83" y1="23.95" x2="104.62" y2="20.7" stroke="#969696" stroke-width="3" stroke-linecap="round"/>
<line x1="151.36" y1="2.08" x2="165.65" y2="0.89" stroke="#404040" stroke-width="2.05" stroke-linecap="round"/>
<line x1="161.99" y1="3.94" x2="174.43" y2="5.67" stroke="#3a3a3a" stroke-width="2.62" stroke-linecap="round"/>
<line x1="220.39" y1="8.04" x2="230.9" y2="8.86" stroke="#969696" stroke-width="2.35" stroke-linecap="round"/>
<line x1="222.86" y1="33.76" x2="234.27" y2="35.18" stroke="#6e6e6e" stroke-width="2.48" stroke-linecap="round"/>
<line x1="-6.92" y1="28.23" x2="11.02" y2="20.39" stroke="#868686" stroke-width="2.46" stroke-linecap="round"/>
<line x1="21.47" y1="9.35" x2="36.47" y2="11.88" stroke="#7e7e7e" stroke-width="2.15" stroke-linecap="round"/>
<line x1="20.32" y1="14.36" x2="28.52" y2="15.05" stroke="#363636" stroke-width="2.49" stroke-linecap="round"/>
<line x1="222.17" y1="34.95" x2="232.73" y2="35.26" stroke="#868686" stroke-width="3.1" stroke-linecap="round"/>
<line x1="179.86" y1="0.03" x2="194.1" y2="-8.08" stroke="#808080" stroke-width="2.23" stroke-linecap="round"/>
<line x1="209.74" y1="35.5" x2="222.88" y2="35.35" stroke="#7e7e7e" stroke-width="2.31" stroke-linecap="round"/>
<line x1="155.97" y1="1.94" x2="166.55" y2="2.45" stroke="#363636" stroke-width="2" stroke-linecap="round"/>
<line x1="38.74" y1="26.54" x2="57.02" y2="29.94" stroke="#969696" stroke-width="1.96" stroke-linecap="round"/>
<line x1="-2.22" y1="12.2" x2="7.15" y2="14.22" stroke="#7e7e7e" stroke-width="3.2" stroke-linecap="round"/>
<line x1="171.11" y1="3.78" x2="182.46" y2="6.51" stroke="#868686" stroke-width="2.73" stroke-linecap="round"/>
<line x1="183.37" y1="25.1" x2="196.93" y2="28.34" stroke="#909090" stroke-width="1.84" stroke-linecap="round"/>
<line x1="47" y1="20.24" x2="62.77" y2="20.4" stroke="#3a3a3a" stroke-width="2.7" stroke-linecap="round"/>
<line x1="40.45" y1="17.77" x2="58.14" y2="10.66" stroke="#404040" stroke-width="2.6" stroke-linecap="round"/>
<line x1="149.91" y1="15.24" x2="164.11" y2="18.56" stroke="#6e6e6e" stroke-width="2.11" stroke-linecap="round"/>
<line x1="98.76" y1="13.25" x2="115.43" y2="11.04" stroke="#808080" stroke-width="2.42" stroke-linecap="round"/>
<line x1="55.82" y1="16.24" x2="68.44" y2="18.96" stroke="#6e6e6e" stroke-width="3.08" stroke-linecap="round"/>
<line x1="140.8" y1="4.99" x2="150.22" y2="8.63" stroke="#909090" stroke-width="2.15" stroke-linecap="round"/>
<line x1="141.21" y1="10.87" x2="151.34" y2="11.08" stroke="#3a3a3a" stroke-width="2.17" stroke-linecap="round"/>
<line x1="54.84" y1="34.61" x2="69.81" y2="40.5" stroke="#6e6e6e" stroke-width="1.86" stroke-linecap="round"/>
<line x1="125.46" y1="39.76" x2="140.21" y2="39.03" stroke="#404040" stroke-width="1.98" stroke-linecap="round"/>
<line x1="-12.49" y1="9.71" x2="1.52" y2="3.99" stroke="#7e7e7e" stroke-width="2.04" stroke-linecap="round"/>
<line x1="179.78" y1="28.44" x2="186.39" y2="28.66" stroke="#969696" stroke-width="2.35" stroke-linecap="round"/>
<line x1="215.15" y1="24.95" x2="226.52" y2="28.37" stroke="#363636" stroke-width="2.48" stroke-linecap="round"/>
<line x1="33.96" y1="21.85" x2="47.16" y2="22.94" stroke="#969696" stroke-width="3.01" stroke-linecap="round"/>
<line x1="178.39" y1="15.12" x2="193.02" y2="14.12" stroke="#969696" stroke-width="2.77" stroke-linecap="round"/>
<line x1="58.62" y1="11.57" x2="72.02" y2="14.47" stroke="#363636" stroke-width="2.5" stroke-linecap="round"/>
<line x1="-14.34" y1="16.54" x2="0.37" y2="19.3" stroke="#808080" stroke-width="2.59" stroke-linecap="round"/>
<line x1="-9.39" y1="42.59" x2="-2.65" y2="42.91" stroke="#6e6e6e" stroke-width="2.71" stroke-linecap="round"/>
<line x1="31" y1="8.38" x2="45.35" y2="8.39" stroke="#6e6e6e" stroke-width="2.15" stroke-linecap="round"/>
<line x1="55.48" y1="9.8" x2="70.25" y2="12.27" stroke="#747474" stroke-width="2.55" stroke-linecap="round"/>
<line x1="-9.71" y1="8.58" x2="-0.68" y2="12.03" stroke="#747474" stroke-width="2.69" stroke-linecap="round"/>
<line x1="75.5" y1="32.54" x2="91.9" y2="36.64" stroke="#404040" stroke-width="2.66" stroke-linecap="round"/>
<line x1="54.07" y1="10.85" x2="60.95" y2="9.49" stroke="#868686" stroke-width="2.89" stroke-linecap="round"/>
<line x1="35.17" y1="38.23" x2="51.35" y2="44.69" stroke="#6e6e6e" stroke-width="2.39" stroke-linecap="round"/>
<line x1="73.36" y1="25.43" x2="91.66" y2="19.01" stroke="#909090" stroke-width="2.79" stroke-linecap="round"/>
<line x1="205.27" y1="20.62" x2="224.61" y2="15.62" stroke="#969696" stroke-width="2.34" stroke-linecap="round"/>
<line x1="150.36" y1="7.24" x2="163.89" y2="13.32" stroke="#969696" stroke-width="2.59" stroke-linecap="round"/>
<line x1="29.4" y1="21.58" x2="40.22" y2="18.67" stroke="#747474" stroke-width="1.88" stroke-linecap="round"/>
<line x1="60.15" y1="28.93" x2="76.7" y2="20.43" stroke="#909090" stroke-width="2.64" stroke-linecap="round"/>
<line x1="37.2" y1="16.26" x2="46.58" y2="15.4" stroke="#747474" stroke-width="2.65" stroke-linecap="round"/>
<line x1="153.98" y1="4.16" x2="163.98" y2="-0.35" stroke="#3a3a3a" stroke-width="2.05" stroke-linecap="round"/>
<line x1="121.63" y1="16.7" x2="137.95" y2="11.48" stroke="#6e6e6e" stroke-width="2.84" stroke-linecap="round"/>
<line x1="73.62" y1="17.99" x2="92.55" y2="11.98" stroke="#363636" stroke-width="2.45" stroke-linecap="round"/>
<line x1="144.84" y1="17.7" x2="152.59" y2="16.95" stroke="#747474" stroke-width="2.2" stroke-linecap="round"/>
<line x1="185.59" y1="1.57" x2="195.79" y2="-3.19" stroke="#7e7e7e" stroke-width="2.23" stroke-linecap="round"/>
<line x1="57.15" y1="7.63" x2="63.86" y2="7.3" stroke="#6e6e6e" stroke-width="3.13" stroke-linecap="round"/>
<line x1="209.77" y1="-1.32" x2="224.67" y2="2.27" stroke="#6e6e6e" stroke-width="3.15" stroke-linecap="round"/>
<line x1="109.81" y1="-1.65" x2="128.69" y2="-7.13" stroke="#909090" stroke-width="2.41" stroke-linecap="round"/>
<line x1="154.45" y1="16.91" x2="171.93" y2="19.94" stroke="#404040" stroke-width="2.09" stroke-linecap="round"/>
<line x1="112.69" y1="7.59" x2="131.22" y2="11.78" stroke="#363636" stroke-width="2.6" stroke-linecap="round"/>
<line x1="106.92" y1="31.2" x2="121.42" y2="28.63" stroke="#868686" stroke-width="2.91" stroke-linecap="round"/>
<line x1="141.77" y1="17.31" x2="152.22" y2="17.95" stroke="#404040" stroke-width="2.43" stroke-linecap="round"/>
<line x1="165.22" y1="34.96" x2="176.21" y2="35.09" stroke="#7e7e7e" stroke-width="1.93" stroke-linecap="round"/>
<line x1="176.96" y1="29.06" x2="194.28" y2="36.3" stroke="#747474" stroke-width="3.15" stroke-linecap="round"/>
<line x1="-2.72" y1="-1.11" x2="15.59" y2="2.44" stroke="#3a3a3a" stroke-width="3.15" stroke-linecap="round"/>
<line x1="158.02" y1="8.42" x2="164.3" y2="10.25" stroke="#868686" stroke-width="2.23" stroke-linecap="round"/>
<line x1="86.03" y1="9.06" x2="101.79" y2="11.31" stroke="#909090" stroke-width="3.2" stroke-linecap="round"/>
<line x1="220.64" y1="32.63" x2="228.72" y2="33.75" stroke="#909090" stroke-width="2.36" stroke-linecap="round"/>
<line x1="132.3" y1="29.26" x2="145.53" y2="23.72" stroke="#3a3a3a" stroke-width="2.29" stroke-linecap="round"/>
<line x1="201.6" y1="25.98" x2="213.04" y2="26.93" stroke="#404040" stroke-width="2.9" stroke-linecap="round"/>
<line x1="69.31" y1="38.01" x2="84.57" y2="30.59" stroke="#868686" stroke-width="2.63" stroke-linecap="round"/>
<line x1="96.63" y1="41.09" x2="104.69" y2="45.36" stroke="#363636" stroke-width="2.19" stroke-linecap="round"/>
<line x1="159.18" y1="4.72" x2="168.15" y2="6.9" stroke="#404040" stroke-width="2.91" stroke-linecap="round"/>
<line x1="114.27" y1="32.43" x2="124.89" y2="29.69" stroke="#909090" stroke-width="2.76" stroke-linecap="round"/>
<line x1="208.11" y1="22.23" x2="224.65" y2="28.68" stroke="#363636" stroke-width="2.26" stroke-linecap="round"/>
<line x1="109.51" y1="24.11" x2="120.29" y2="18.27" stroke="#7e7e7e" stroke-width="2.12" stroke-linecap="round"/>
<line x1="58.3" y1="28.51" x2="68.63" y2="28.2" stroke="#868686" stroke-width="2.17" stroke-linecap="round"/>
<line x1="127.04" y1="38.25" x2="134.76" y2="36.25" stroke="#404040" stroke-width="2.5" stroke-linecap="round"/>
<line x1="164.34" y1="35.4" x2="177.95" y2="31.09" stroke="#404040" stroke-width="2.54" stroke-linecap="round"/>
<line x1="29.61" y1="31.06" x2="41.31" y2="32.71" stroke="#747474" stroke-width="1.8" stroke-linecap="round"/>
<line x1="212.45" y1="19.04" x2="221.16" y2="22.04" stroke="#404040" stroke-width="3.18" stroke-linecap="round"/>
<line x1="18.21" y1="10.09" x2="24.38" y2="12.22" stroke="#404040" stroke-width="2.24" stroke-linecap="round"/>
<line x1="57.35" y1="41.67" x2="73.06" y2="38.62" stroke="#6e6e6e" stroke-width="1.9" stroke-linecap="round"/>
<line x1="14.66" y1="-1.55" x2="32.32" y2="2.28" stroke="#969696" stroke-width="2.77" stroke-linecap="round"/>
<line x1="123.13" y1="19.94" x2="135.42" y2="20.16" stroke="#3a3a3a" stroke-width="2.94" stroke-linecap="round"/>
<line x1="84.86" y1="6.25" x2="103.74" y2="7.12" stroke="#7e7e7e" stroke-width="2.21" stroke-linecap="round"/>
<line x1="99.27" y1="37.41" x2="114.87" y2="38.52" stroke="#6e6e6e" stroke-width="2.1" stroke-linecap="round"/>
<line x1="-0.13" y1="32.99" x2="16.51" y2="24.83" stroke="#909090" stroke-width="1.86" stroke-linecap="round"/>
<line x1="172.03" y1="29.23" x2="187.15" y2="24.31" stroke="#6e6e6e" stroke-width="3.19" stroke-linecap="round"/>
<line x1="147.46" y1="12.53" x2="165.75" y2="15.22" stroke="#3a3a3a" stroke-width="3.18" stroke-linecap="round"/>
<line x1="135.25" y1="10.12" x2="147.08" y2="16.11" stroke="#747474" stroke-width="2.51" stroke-linecap="round"/>
<line x1="204.59" y1="7.88" x2="215.71" y2="11.12" stroke="#909090" stroke-width="1.9" stroke-linecap="round"/>
<line x1="24.82" y1="26.31" x2="44.28" y2="30.59" stroke="#868686" stroke-width="2.84" stroke-linecap="round"/>
<line x1="52.88" y1="28.77" x2="66.14" y2="28.97" stroke="#6e6e6e" stroke-width="1.96" stroke-linecap="round"/>
<line x1="-1.14" y1="29.06" x2="13.64" y2="29.55" stroke="#3a3a3a" stroke-width="3.14" stroke-linecap="round"/>
<line x1="51" y1="40.26" x2="62.36" y2="39.75" stroke="#404040" stroke-width="2.97" stroke-linecap="round"/>
<line x1="98.52" y1="10.91" x2="116.03" y2="9.52" stroke="#7e7e7e" stroke-width="2.93" stroke-linecap="round"/>
<line x1="107.72" y1="34.77" x2="118.61" y2="35.91" stroke="#7e7e7e" stroke-width="2.96" stroke-linecap="round"/>
<line x1="98.76" y1="21.89" x2="109.41" y2="16.73" stroke="#808080" stroke-width="2.52" stroke-linecap="round"/>
<line x1="173.88" y1="0.14" x2="181" y2="-0.55" stroke="#404040" stroke-width="1.96" stroke-linecap="round"/>
<line x1="131.04" y1="32.2" x2="138.93" y2="28.05" stroke="#3a3a3a" stroke-width="2.58" stroke-linecap="round"/>
<line x1="214.64" y1="17.34" x2="231.07" y2="22.83" stroke="#909090" stroke-width="1.8" stroke-linecap="round"/>
<line x1="59.34" y1="27.73" x2="66.5" y2="28.45" stroke="#969696" stroke-width="2.51" stroke-linecap="round"/>
<line x1="78.89" y1="25.39" x2="90.74" y2="29.92" stroke="#747474" stroke-width="2.33" stroke-linecap="round"/>
<line x1="214.77" y1="8.81" x2="225.36" y2="6.41" stroke="#747474" stroke-width="2.73" stroke-linecap="round"/>
<line x1="53.85" y1="33.52" x2="68.39" y2="28.94" stroke="#363636" stroke-width="2.35" stroke-linecap="round"/>
<line x1="146.63" y1="1.08" x2="155.94" y2="3.1" stroke="#747474" stroke-width="3.2" stroke-linecap="round"/>
<line x1="88.81" y1="28.31" x2="95.74" y2="31.47" stroke="#969696" stroke-width="2.96" stroke-linecap="round"/>
<line x1="106.02" y1="2.44" x2="114.84" y2="2.84" stroke="#909090" stroke-width="2.44" stroke-linecap="round"/>
<line x1="198.94" y1="-1.05" x2="205.34" y2="-2.72" stroke="#909090" stroke-width="2.87" stroke-linecap="round"/>
<line x1="-9.12" y1="13.27" x2="3.4" y2="16.48" stroke="#747474" stroke-width="3.09" stroke-linecap="round"/>
<line x1="16.55" y1="40.54" x2="35.09" y2="44.31" stroke="#7e7e7e" stroke-width="3.11" stroke-linecap="round"/>
<line x1="32.14" y1="15.08" x2="45.57" y2="17.42" stroke="#3a3a3a" stroke-width="2" stroke-linecap="round"/>
<line x1="184.3" y1="38.05" x2="190.66" y2="37.12" stroke="#6e6e6e" stroke-width="2.47" stroke-linecap="round"/>
<line x1="139.64" y1="35.16" x2="152.91" y2="35.04" stroke="#808080" stroke-width="2.7" stroke-linecap="round"/>
<line x1="18.21" y1="31.01" x2="24.81" y2="33.13" stroke="#7e7e7e" stroke-width="2.1" stroke-linecap="round"/>
<line x1="64.79" y1="16.48" x2="75.1" y2="20.84" stroke="#747474" stroke-width="3.18" stroke-linecap="round"/>
<line x1="149.24" y1="3.48" x2="159.8" y2="4.24" stroke="#7e7e7e" stroke-width="3.02" stroke-linecap="round"/>
<line x1="139.71" y1="6.42" x2="158.64" y2="11.73" stroke="#747474" stroke-width="3.19" stroke-linecap="round"/>
<line x1="148.53" y1="32.97" x2="163.33" y2="39.56" stroke="#909090" stroke-width="2.77" stroke-linecap="round"/>
<line x1="165.86" y1="32.85" x2="172.58" y2="30.41" stroke="#909090" stroke-width="2.08" stroke-linecap="round"/>
<line x1="18.87" y1="15.89" x2="29.76" y2="17.02" stroke="#404040" stroke-width="2.84" stroke-linecap="round"/>
<line x1="64.3" y1="40" x2="79.41" y2="37.18" stroke="#808080" stroke-width="2.47" stroke-linecap="round"/>
<line x1="-2.41" y1="13.28" x2="10.72" y2="14.16" stroke="#6e6e6e" stroke-width="2.16" stroke-linecap="round"/>
<line x1="60.85" y1="31.73" x2="69.68" y2="34.83" stroke="#3a3a3a" stroke-width="2.6" stroke-linecap="round"/>
<line x1="29.32" y1="36.45" x2="46.56" y2="41.47" stroke="#808080" stroke-width="3.14" stroke-linecap="round"/>
<line x1="-4.23" y1="3.11" x2="1.72" y2="5.4" stroke="#3a3a3a" stroke-width="2.64" stroke-linecap="round"/>
<line x1="55.22" y1="12.9" x2="71.43" y2="15.49" stroke="#808080" stroke-width="2.89" stroke-linecap="round"/>
<line x1="19.54" y1="44.06" x2="36.33" y2="46.29" stroke="#6e6e6e" stroke-width="2.66" stroke-linecap="round"/>
<line x1="149.05" y1="18.96" x2="163.58" y2="19.08" stroke="#404040" stroke-width="2.47" stroke-linecap="round"/>
<line x1="20.75" y1="38.38" x2="35.08" y2="44.52" stroke="#404040" stroke-width="2.32" stroke-linecap="round"/>
<line x1="59.73" y1="16.18" x2="75.52" y2="15.41" stroke="#3a3a3a" stroke-width="2.69" stroke-linecap="round"/>
<line x1="152.24" y1="15.9" x2="164.49" y2="16.26" stroke="#969696" stroke-width="3.14" stroke-linecap="round"/>
<line x1="21.44" y1="44.44" x2="35.33" y2="49.43" stroke="#3a3a3a" stroke-width="2.18" stroke-linecap="round"/>
<line x1="133.67" y1="34.5" x2="144.97" y2="30.51" stroke="#969696" stroke-width="2.54" stroke-linecap="round"/>
<line x1="62.6" y1="7.37" x2="79.75" y2="8.68" stroke="#808080" stroke-width="2.02" stroke-linecap="round"/>
<line x1="104.05" y1="4.83" x2="114.67" y2="-0.97" stroke="#747474" stroke-width="1.84" stroke-linecap="round"/>
<line x1="123.7" y1="15.42" x2="131.06" y2="17.63" stroke="#404040" stroke-width="1.85" stroke-linecap="round"/>
<line x1="54.59" y1="43.48" x2="61.55" y2="46.39" stroke="#969696" stroke-width="2.21" stroke-linecap="round"/>
<line x1="52.39" y1="4.63" x2="66.75" y2="8.28" stroke="#909090" stroke-width="2.24" stroke-linecap="round"/>
<line x1="34.14" y1="38.38" x2="52.93" y2="42.63" stroke="#363636" stroke-width="2.44" stroke-linecap="round"/>
<line x1="51.48" y1="29.11" x2="61.41" y2="25.53" stroke="#6e6e6e" stroke-width="2.56" stroke-linecap="round"/>
<line x1="152.16" y1="39.74" x2="163.6" y2="44.83" stroke="#868686" stroke-width="2.49" stroke-linecap="round"/>
<line x1="52.51" y1="23.06" x2="71.27" y2="24.15" stroke="#6e6e6e" stroke-width="1.93" stroke-linecap="round"/>
<line x1="206.53" y1="20.13" x2="221.37" y2="17.74" stroke="#868686" stroke-width="2.75" stroke-linecap="round"/>
<line x1="119.78" y1="14.18" x2="134.64" y2="21.16" stroke="#6e6e6e" stroke-width="3.11" stroke-linecap="round"/>
<line x1="80.89" y1="22.38" x2="90.6" y2="22.66" stroke="#7e7e7e" stroke-width="1.93" stroke-linecap="round"/>
<line x1="215.12" y1="26.84" x2="225.63" y2="20.97" stroke="#363636" stroke-width="2.36" stroke-linecap="round"/>
<line x1="195.27" y1="13.88" x2="202.31" y2="17.24" stroke="#363636" stroke-width="1.99" stroke-linecap="round"/>
<line x1="121.43" y1="4.04" x2="137.18" y2="-3.95" stroke="#747474" stroke-width="2.49" stroke-linecap="round"/>
<line x1="218.77" y1="28.91" x2="235.65" y2="33.88" stroke="#3a3a3a" stroke-width="2.67" stroke-linecap="round"/>
<line x1="212.1" y1="28.38" x2="224.03" y2="27.07" stroke="#909090" stroke-width="3.04" stroke-linecap="round"/>
<line x1="97.74" y1="36.2" x2="112.92" y2="31.28" stroke="#6e6e6e" stroke-width="2.42" stroke-linecap="round"/>
<line x1="86.67" y1="28.12" x2="103.17" y2="30.6" stroke="#868686" stroke-width="1.83" stroke-linecap="round"/>
<line x1="3.57" y1="6.59" x2="19.42" y2="11.5" stroke="#404040" stroke-width="2.06" stroke-linecap="round"/>
<line x1="-4.51" y1="29.25" x2="2.84" y2="32.6" stroke="#747474" stroke-width="2.05" stroke-linecap="round"/>
<line x1="2.37" y1="43.3" x2="14.69" y2="44.33" stroke="#6e6e6e" stroke-width="2.75" stroke-linecap="round"/>
<line x1="201.37" y1="36.08" x2="213.73" y2="35.59" stroke="#909090" stroke-width="3.12" stroke-linecap="round"/>
<line x1="208.09" y1="37.32" x2="214.37" y2="34.7" stroke="#7e7e7e" stroke-width="3" stroke-linecap="round"/>
<line x1="53.57" y1="22.01" x2="71.9" y2="20" stroke="#6e6e6e" stroke-width="2.02" stroke-linecap="round"/>
<line x1="91.04" y1="12.22" x2="103.92" y2="15.53" stroke="#747474" stroke-width="1.96" stroke-linecap="round"/>
<line x1="209.82" y1="7.1" x2="218.65" y2="11.14" stroke="#7e7e7e" stroke-width="3.14" stroke-linecap="round"/>
<line x1="205.43" y1="17.97" x2="218.04" y2="19.89" stroke="#363636" stroke-width="3.08" stroke-linecap="round"/>
<line x1="105.34" y1="23.71" x2="124.13" y2="22.93" stroke="#6e6e6e" stroke-width="2.43" stroke-linecap="round"/>
<line x1="133.05" y1="34.97" x2="145.98" y2="29.06" stroke="#363636" stroke-width="2.3" stroke-linecap="round"/>
<line x1="45.1" y1="11.1" x2="53.91" y2="12.73" stroke="#909090" stroke-width="2.89" stroke-linecap="round"/>
<line x1="186.34" y1="15.59" x2="204.72" y2="17.28" stroke="#6e6e6e" stroke-width="1.96" stroke-linecap="round"/>
</g>
<rect x="2" y="2" width="222" height="8" fill="#3a3a3a" opacity="0.35"/>
<circle cx="138" cy="20" r="5" fill="#9c9c9c"/>
<circle cx="142" cy="28" r="4.5" fill="#9c9c9c"/>
<circle cx="135" cy="31" r="3.5" fill="#9c9c9c"/>
<circle cx="146" cy="14" r="4" fill="#9c9c9c"/>
<circle cx="198" cy="35" r="4.5" fill="#9c9c9c"/>
<circle cx="196" cy="40" r="3.5" fill="#9c9c9c"/>
<circle cx="60" cy="57" r="5" fill="#9c9c9c"/>
<circle cx="55" cy="54" r="4" fill="#9c9c9c"/>
<circle cx="78" cy="51" r="4" fill="#9c9c9c"/>
<circle cx="130" cy="44" r="4" fill="#9c9c9c"/>
<circle cx="126" cy="46" r="3" fill="#9c9c9c"/>
<circle cx="53" cy="6" r="3.5" fill="#9c9c9c"/>
<circle cx="170" cy="8" r="3.5" fill="#9c9c9c"/>
<circle cx="190" cy="17" r="3" fill="#9c9c9c"/>
<circle cx="100" cy="14" r="3" fill="#9c9c9c"/>
<circle cx="208" cy="12" r="3" fill="#9c9c9c"/>
<path d="M2 46 C60 45 150 40 224 34 L224 61 C150 62 60 62 2 62 Z" fill="#828282" filter="url(#blur1)"/>
<line x1="198.27" y1="44.04" x2="230.14" y2="42.77" stroke="#7a7a7a" stroke-width="2.09" stroke-linecap="round" filter="url(#blur1)"/>
<line x1="127.23" y1="59.51" x2="164.19" y2="58.04" stroke="#767676" stroke-width="2.15" stroke-linecap="round" filter="url(#blur1)"/>
<line x1="35.83" y1="52.92" x2="83.24" y2="51.02" stroke="#7a7a7a" stroke-width="1.47" stroke-linecap="round" filter="url(#blur1)"/>
<line x1="179.11" y1="51.13" x2="201.25" y2="50.24" stroke="#767676" stroke-width="1.67" stroke-linecap="round" filter="url(#blur1)"/>
<line x1="65.95" y1="41.85" x2="105.77" y2="40.26" stroke="#909090" stroke-width="1.65" stroke-linecap="round" filter="url(#blur1)"/>
<line x1="109.19" y1="43.55" x2="159.19" y2="41.55" stroke="#767676" stroke-width="1.46" stroke-linecap="round" filter="url(#blur1)"/>
<line x1="26.52" y1="44.85" x2="52.64" y2="43.81" stroke="#767676" stroke-width="1.51" stroke-linecap="round" filter="url(#blur1)"/>
<line x1="167.63" y1="56.56" x2="190.01" y2="55.66" stroke="#909090" stroke-width="1.71" stroke-linecap="round" filter="url(#blur1)"/>
<line x1="114.32" y1="57.5" x2="130.34" y2="56.86" stroke="#909090" stroke-width="1.59" stroke-linecap="round" filter="url(#blur1)"/>
<line x1="134.7" y1="49.33" x2="170.78" y2="47.88" stroke="#8c8c8c" stroke-width="1.96" stroke-linecap="round" filter="url(#blur1)"/>
<line x1="150.54" y1="42.48" x2="199.28" y2="40.53" stroke="#7a7a7a" stroke-width="1.67" stroke-linecap="round" filter="url(#blur1)"/>
<line x1="170.56" y1="43.84" x2="205.07" y2="42.46" stroke="#8c8c8c" stroke-width="1.73" stroke-linecap="round" filter="url(#blur1)"/>
<line x1="112.62" y1="53.66" x2="159.88" y2="51.77" stroke="#767676" stroke-width="1.22" stroke-linecap="round" filter="url(#blur1)"/>
<line x1="79.2" y1="50.65" x2="99.27" y2="49.84" stroke="#767676" stroke-width="1.3" stroke-linecap="round" filter="url(#blur1)"/>
<line x1="16.7" y1="51.25" x2="63.67" y2="49.37" stroke="#7a7a7a" stroke-width="1.28" stroke-linecap="round" filter="url(#blur1)"/>
<line x1="209.8" y1="36.58" x2="256.4" y2="34.72" stroke="#7a7a7a" stroke-width="1.81" stroke-linecap="round" filter="url(#blur1)"/>
<line x1="144.32" y1="56.71" x2="188.57" y2="54.94" stroke="#767676" stroke-width="1.44" stroke-linecap="round" filter="url(#blur1)"/>
<line x1="85.91" y1="55.08" x2="124.84" y2="53.53" stroke="#7a7a7a" stroke-width="1.82" stroke-linecap="round" filter="url(#blur1)"/>
<line x1="160.11" y1="42.51" x2="194.99" y2="41.12" stroke="#767676" stroke-width="1.39" stroke-linecap="round" filter="url(#blur1)"/>
<line x1="15.42" y1="58.38" x2="37.71" y2="57.49" stroke="#8c8c8c" stroke-width="2.13" stroke-linecap="round" filter="url(#blur1)"/>
<line x1="67.8" y1="51.18" x2="107.9" y2="49.58" stroke="#767676" stroke-width="1.86" stroke-linecap="round" filter="url(#blur1)"/>
<line x1="92.19" y1="44.44" x2="139.7" y2="42.54" stroke="#7a7a7a" stroke-width="1.27" stroke-linecap="round" filter="url(#blur1)"/>
<line x1="202.36" y1="46.64" x2="229.85" y2="45.54" stroke="#767676" stroke-width="1.29" stroke-linecap="round" filter="url(#blur1)"/>
<line x1="110.61" y1="59.05" x2="138.82" y2="57.92" stroke="#767676" stroke-width="1.27" stroke-linecap="round" filter="url(#blur1)"/>
<line x1="99.25" y1="42.59" x2="138.88" y2="41" stroke="#8c8c8c" stroke-width="1.98" stroke-linecap="round" filter="url(#blur1)"/>
<line x1="113.46" y1="47.84" x2="136.74" y2="46.91" stroke="#767676" stroke-width="1.9" stroke-linecap="round" filter="url(#blur1)"/>
<line x1="178.23" y1="46.57" x2="219.57" y2="44.91" stroke="#909090" stroke-width="2.01" stroke-linecap="round" filter="url(#blur1)"/>
<line x1="167.63" y1="54.98" x2="186.09" y2="54.24" stroke="#767676" stroke-width="1.57" stroke-linecap="round" filter="url(#blur1)"/>
<line x1="187.8" y1="40.06" x2="218.37" y2="38.84" stroke="#767676" stroke-width="2.03" stroke-linecap="round" filter="url(#blur1)"/>
<line x1="-0.89" y1="54.75" x2="27.72" y2="53.6" stroke="#767676" stroke-width="1.55" stroke-linecap="round" filter="url(#blur1)"/>
<line x1="180.64" y1="49.2" x2="215.63" y2="47.8" stroke="#767676" stroke-width="1.71" stroke-linecap="round" filter="url(#blur1)"/>
<line x1="97.24" y1="40.71" x2="131.73" y2="39.33" stroke="#767676" stroke-width="2.12" stroke-linecap="round" filter="url(#blur1)"/>
<line x1="39.72" y1="52.12" x2="82.56" y2="50.41" stroke="#909090" stroke-width="1.45" stroke-linecap="round" filter="url(#blur1)"/>
<line x1="11.49" y1="49.96" x2="44.2" y2="48.65" stroke="#767676" stroke-width="1.49" stroke-linecap="round" filter="url(#blur1)"/>
<line x1="131.55" y1="59.16" x2="179.85" y2="57.23" stroke="#8c8c8c" stroke-width="1.61" stroke-linecap="round" filter="url(#blur1)"/>
<line x1="153.86" y1="48.12" x2="186.88" y2="46.8" stroke="#767676" stroke-width="2.05" stroke-linecap="round" filter="url(#blur1)"/>
<line x1="123.02" y1="57.07" x2="140.94" y2="56.36" stroke="#8c8c8c" stroke-width="1.52" stroke-linecap="round" filter="url(#blur1)"/>
<line x1="191.28" y1="37.63" x2="237.24" y2="35.79" stroke="#7a7a7a" stroke-width="1.33" stroke-linecap="round" filter="url(#blur1)"/>
<line x1="150.43" y1="38.7" x2="196.34" y2="36.86" stroke="#909090" stroke-width="1.69" stroke-linecap="round" filter="url(#blur1)"/>
<line x1="151.34" y1="47.14" x2="176.64" y2="46.12" stroke="#767676" stroke-width="1.74" stroke-linecap="round" filter="url(#blur1)"/>
<path d="M2 59.5 C70 59 150 58.5 224 58" stroke="#a8a8a8" stroke-width="2.2" fill="none" filter="url(#blur1)"/>
<path d="M2 52 C70 51 150 47 224 42" stroke="#8e8e8e" stroke-width="3" fill="none" filter="url(#blur1)"/>
<circle cx="60" cy="56" r="5" fill="#a0a0a0" filter="url(#blur1)"/>
<circle cx="56" cy="54" r="4" fill="#a0a0a0" filter="url(#blur1)"/>
<circle cx="78" cy="51" r="4" fill="#a0a0a0" filter="url(#blur1)"/>
<circle cx="130" cy="44" r="4.5" fill="#a0a0a0" filter="url(#blur1)"/>
<circle cx="196" cy="38" r="5" fill="#a0a0a0" filter="url(#blur1)"/>
<circle cx="150" cy="50" r="3" fill="#a0a0a0" filter="url(#blur1)"/>
<circle cx="205" cy="46" r="3" fill="#a0a0a0" filter="url(#blur1)"/>
<circle cx="40" cy="47" r="3" fill="#a0a0a0" filter="url(#blur1)"/>
<rect x="2" y="62" width="222" height="87" fill="#404040"/>
<g>
<circle cx="26.89" cy="141.55" r="3.31" fill="#a0a0a0"/>
<circle cx="126.33" cy="136.16" r="2.33" fill="#8e8e8e"/>
<circle cx="212.83" cy="121.66" r="1.9" fill="#858585"/>
<circle cx="222.3" cy="144.59" r="1.68" fill="#989898"/>
<circle cx="151.47" cy="111.85" r="3.25" fill="#a0a0a0"/>
<circle cx="175.97" cy="90.11" r="2.01" fill="#7c7c7c"/>
<circle cx="215.03" cy="68.64" r="3.58" fill="#888888"/>
<circle cx="202.37" cy="136.52" r="1.61" fill="#727272"/>
<circle cx="142.02" cy="139.7" r="2.2" fill="#888888"/>
<circle cx="49.73" cy="113.87" r="1.63" fill="#7c7c7c"/>
<circle cx="17.1" cy="114.72" r="3.29" fill="#858585"/>
<circle cx="94.73" cy="137.84" r="2.49" fill="#888888"/>
<circle cx="70.3" cy="130.57" r="1.89" fill="#7c7c7c"/>
<circle cx="140.73" cy="76.2" r="1.83" fill="#989898"/>
<circle cx="122.49" cy="64.24" r="2.85" fill="#a0a0a0"/>
<circle cx="102.35" cy="75.98" r="2.4" fill="#989898"/>
<circle cx="188.67" cy="150.26" r="2.78" fill="#888888"/>
<circle cx="197.41" cy="125.12" r="2.39" fill="#888888"/>
<circle cx="224.46" cy="117.37" r="1.77" fill="#8e8e8e"/>
<circle cx="124.12" cy="84.7" r="2.94" fill="#7c7c7c"/>
<circle cx="125.8" cy="146.96" r="1.77" fill="#888888"/>
<circle cx="52.76" cy="119.86" r="2.08" fill="#8e8e8e"/>
<circle cx="119.55" cy="111.31" r="2.62" fill="#858585"/>
<circle cx="67.88" cy="85.05" r="3.37" fill="#727272"/>
<circle cx="75.44" cy="141.2" r="2.45" fill="#888888"/>
<circle cx="46.52" cy="116.94" r="2.6" fill="#8e8e8e"/>
<circle cx="40.37" cy="63.17" r="1.63" fill="#989898"/>
<circle cx="206.09" cy="131.06" r="2.41" fill="#8e8e8e"/>
<circle cx="180.99" cy="84.43" r="3.38" fill="#a0a0a0"/>
<circle cx="45.86" cy="113.2" r="1.69" fill="#a0a0a0"/>
<circle cx="188.57" cy="134.92" r="2.02" fill="#858585"/>
<circle cx="65.8" cy="111.16" r="2.82" fill="#8e8e8e"/>
<circle cx="211.71" cy="130.24" r="1.94" fill="#a0a0a0"/>
<circle cx="217.16" cy="147.42" r="2.6" fill="#727272"/>
<circle cx="20" cy="102.38" r="3.18" fill="#888888"/>
<circle cx="65.08" cy="93.78" r="2.08" fill="#727272"/>
<circle cx="9.82" cy="150.08" r="2.9" fill="#888888"/>
<circle cx="224.81" cy="133.96" r="2.14" fill="#888888"/>
<circle cx="169.12" cy="135.24" r="3.26" fill="#727272"/>
<circle cx="161.18" cy="126.03" r="2.07" fill="#888888"/>
<circle cx="176.95" cy="106.13" r="2.42" fill="#8e8e8e"/>
<circle cx="103.63" cy="122.5" r="3.2" fill="#858585"/>
<circle cx="52.55" cy="110.5" r="2.45" fill="#a0a0a0"/>
<circle cx="16.6" cy="99.67" r="2.45" fill="#7c7c7c"/>
<circle cx="135.81" cy="71.33" r="2.01" fill="#7c7c7c"/>
<circle cx="47.15" cy="124.68" r="2.46" fill="#888888"/>
<circle cx="168.49" cy="126.01" r="3.31" fill="#a0a0a0"/>
<circle cx="106.55" cy="95.93" r="3.54" fill="#7c7c7c"/>
<circle cx="143.73" cy="122.66" r="2.19" fill="#888888"/>
<circle cx="215.23" cy="90.53" r="1.95" fill="#888888"/>
<circle cx="95.3" cy="133" r="2.09" fill="#8e8e8e"/>
<circle cx="16.97" cy="82.97" r="2.11" fill="#7c7c7c"/>
<circle cx="167.41" cy="106.33" r="2.11" fill="#858585"/>
<circle cx="211.63" cy="93.34" r="3.44" fill="#7c7c7c"/>
<circle cx="46.18" cy="88.12" r="2.06" fill="#8e8e8e"/>
<circle cx="211.29" cy="120.99" r="2.92" fill="#727272"/>
<circle cx="122.11" cy="122.57" r="2.82" fill="#a0a0a0"/>
<circle cx="205.69" cy="100.46" r="2.2" fill="#727272"/>
<circle cx="70.79" cy="83" r="2.39" fill="#727272"/>
<circle cx="74.5" cy="113.89" r="2.02" fill="#888888"/>
<circle cx="153.96" cy="121.03" r="1.87" fill="#989898"/>
<circle cx="199.05" cy="126.03" r="3.34" fill="#888888"/>
<circle cx="90.2" cy="149.57" r="2.43" fill="#888888"/>
<circle cx="32.33" cy="69.09" r="3.49" fill="#8e8e8e"/>
<circle cx="90.38" cy="107.9" r="1.78" fill="#727272"/>
<circle cx="105.82" cy="81.6" r="1.88" fill="#7c7c7c"/>
<circle cx="207.37" cy="96.99" r="2.64" fill="#a0a0a0"/>
<circle cx="164.01" cy="133.46" r="3.29" fill="#888888"/>
<circle cx="55.4" cy="130.93" r="2.69" fill="#8e8e8e"/>
<circle cx="170.44" cy="142.75" r="3.51" fill="#a0a0a0"/>
<circle cx="103.86" cy="129.46" r="2.37" fill="#888888"/>
<circle cx="164.26" cy="116.07" r="2.28" fill="#7c7c7c"/>
<circle cx="63.35" cy="78.72" r="2.59" fill="#727272"/>
<circle cx="191.82" cy="99.72" r="1.7" fill="#8e8e8e"/>
<circle cx="2.29" cy="90.07" r="2.99" fill="#8e8e8e"/>
<circle cx="146.38" cy="96.15" r="2.62" fill="#8e8e8e"/>
<circle cx="64.45" cy="78.03" r="2.2" fill="#a0a0a0"/>
<circle cx="52.84" cy="133.94" r="2.22" fill="#888888"/>
<circle cx="101.37" cy="81.61" r="1.99" fill="#858585"/>
<circle cx="46.52" cy="96.11" r="3.54" fill="#727272"/>
<circle cx="86.58" cy="66.88" r="2.39" fill="#8e8e8e"/>
<circle cx="111.52" cy="94.02" r="2.22" fill="#858585"/>
<circle cx="156.68" cy="103.57" r="2.29" fill="#a0a0a0"/>
<circle cx="116.49" cy="144.1" r="2.04" fill="#a0a0a0"/>
<circle cx="30.23" cy="99.48" r="2.94" fill="#8e8e8e"/>
<circle cx="58.11" cy="89.36" r="3.4" fill="#989898"/>
<circle cx="142.23" cy="101.97" r="1.63" fill="#727272"/>
<circle cx="110.27" cy="74.68" r="2.45" fill="#8e8e8e"/>
<circle cx="64.59" cy="123.63" r="1.98" fill="#a0a0a0"/>
<circle cx="151.96" cy="133.68" r="3" fill="#8e8e8e"/>
<circle cx="145.26" cy="140.52" r="2.32" fill="#989898"/>
<circle cx="17.8" cy="138.66" r="3.53" fill="#989898"/>
<circle cx="35.54" cy="67.66" r="2.54" fill="#888888"/>
<circle cx="200.3" cy="143.95" r="3.02" fill="#888888"/>
<circle cx="7.86" cy="145.28" r="2.55" fill="#7c7c7c"/>
<circle cx="184.84" cy="130.67" r="2.09" fill="#8e8e8e"/>
<circle cx="23.44" cy="88.07" r="2.06" fill="#858585"/>
<circle cx="46.45" cy="144.1" r="2.17" fill="#7c7c7c"/>
<circle cx="170.49" cy="133.09" r="2.21" fill="#727272"/>
<circle cx="105.39" cy="87.74" r="3.17" fill="#888888"/>
<circle cx="132.66" cy="149.76" r="1.67" fill="#8e8e8e"/>
<circle cx="57.67" cy="107.24" r="3.52" fill="#a0a0a0"/>
<circle cx="50.33" cy="63.3" r="3.47" fill="#858585"/>
<circle cx="14.58" cy="94.09" r="1.68" fill="#727272"/>
<circle cx="158.19" cy="107.42" r="2.35" fill="#989898"/>
<circle cx="90.23" cy="78.75" r="3.16" fill="#7c7c7c"/>
<circle cx="189.93" cy="77.38" r="2.06" fill="#7c7c7c"/>
<circle cx="36.83" cy="100.54" r="2.4" fill="#989898"/>
<circle cx="221.51" cy="129.96" r="2.83" fill="#888888"/>
<circle cx="225.49" cy="114.85" r="2.47" fill="#727272"/>
<circle cx="31.68" cy="68.55" r="2.72" fill="#a0a0a0"/>
<circle cx="108.32" cy="115.77" r="1.86" fill="#858585"/>
<circle cx="203.24" cy="132.94" r="2.43" fill="#727272"/>
<circle cx="219.09" cy="113.34" r="3.44" fill="#989898"/>
<circle cx="128.75" cy="111.59" r="2.63" fill="#a0a0a0"/>
<circle cx="7.66" cy="100.6" r="2.59" fill="#727272"/>
<circle cx="83.93" cy="85.27" r="3.53" fill="#888888"/>
<circle cx="54.95" cy="117.29" r="3.29" fill="#a0a0a0"/>
<circle cx="174.79" cy="88.84" r="3.45" fill="#727272"/>
<circle cx="222.47" cy="77.4" r="1.79" fill="#a0a0a0"/>
<circle cx="119.87" cy="143.04" r="2" fill="#a0a0a0"/>
<circle cx="131.39" cy="92.86" r="1.73" fill="#a0a0a0"/>
<circle cx="51.04" cy="120.72" r="1.89" fill="#727272"/>
<circle cx="97.91" cy="116.9" r="2.23" fill="#727272"/>
<circle cx="45.14" cy="145.57" r="2.53" fill="#8e8e8e"/>
<circle cx="199.95" cy="130.27" r="1.7" fill="#858585"/>
<circle cx="87.42" cy="94.82" r="2.47" fill="#888888"/>
<circle cx="36.44" cy="134.96" r="1.66" fill="#858585"/>
<circle cx="204.53" cy="72.91" r="2.35" fill="#888888"/>
<circle cx="185.24" cy="74.76" r="2.36" fill="#727272"/>
<circle cx="21.24" cy="91.02" r="2.86" fill="#7c7c7c"/>
<circle cx="53.1" cy="98.52" r="1.76" fill="#888888"/>
<circle cx="135.9" cy="96.09" r="2.29" fill="#989898"/>
<circle cx="52.38" cy="106.69" r="2.41" fill="#858585"/>
<circle cx="190.33" cy="98.87" r="2.46" fill="#8e8e8e"/>
<circle cx="156.12" cy="92.09" r="1.88" fill="#7c7c7c"/>
<circle cx="70.86" cy="130.92" r="3.37" fill="#989898"/>
<circle cx="216.35" cy="127.21" r="3.17" fill="#7c7c7c"/>
<circle cx="29.78" cy="119.78" r="1.67" fill="#8e8e8e"/>
<circle cx="11.17" cy="90.17" r="2.27" fill="#858585"/>
<circle cx="28.85" cy="84.11" r="3.57" fill="#8e8e8e"/>
<circle cx="170.48" cy="102.06" r="2.42" fill="#8e8e8e"/>
<circle cx="70.32" cy="115.24" r="2.52" fill="#a0a0a0"/>
<circle cx="40.28" cy="146.29" r="1.84" fill="#727272"/>
<circle cx="31.84" cy="121.06" r="2.63" fill="#8e8e8e"/>
<circle cx="12.87" cy="69.23" r="3.53" fill="#888888"/>
<circle cx="116.08" cy="143.5" r="3.02" fill="#727272"/>
<circle cx="60.69" cy="104.36" r="2.48" fill="#727272"/>
<circle cx="130.99" cy="142.6" r="2.73" fill="#858585"/>
<circle cx="197.07" cy="83.17" r="1.69" fill="#858585"/>
<circle cx="46.46" cy="78.76" r="3.1" fill="#888888"/>
<circle cx="185.35" cy="98.66" r="1.86" fill="#a0a0a0"/>
<circle cx="52.23" cy="119.51" r="2.58" fill="#727272"/>
<circle cx="132.81" cy="119.51" r="2.97" fill="#727272"/>
<circle cx="142" cy="73.26" r="2.49" fill="#727272"/>
<circle cx="4.74" cy="115.98" r="2.56" fill="#7c7c7c"/>
<circle cx="174.25" cy="84.93" r="3.4" fill="#8e8e8e"/>
<circle cx="114.47" cy="104.26" r="3.1" fill="#989898"/>
<circle cx="19.55" cy="136.19" r="2.99" fill="#a0a0a0"/>
<circle cx="225.19" cy="137.69" r="1.86" fill="#727272"/>
<circle cx="13.41" cy="69.97" r="3.57" fill="#727272"/>
<circle cx="29.44" cy="121.52" r="1.65" fill="#a0a0a0"/>
<circle cx="0.15" cy="69.08" r="2.68" fill="#7c7c7c"/>
<circle cx="10.85" cy="139.21" r="2.9" fill="#a0a0a0"/>
<circle cx="17.51" cy="102.99" r="3.43" fill="#727272"/>
<circle cx="3.99" cy="94.32" r="1.76" fill="#858585"/>
<circle cx="39.52" cy="129.61" r="1.61" fill="#7c7c7c"/>
<circle cx="43.76" cy="121.94" r="3.49" fill="#7c7c7c"/>
<circle cx="27.74" cy="109.08" r="2.95" fill="#888888"/>
<circle cx="110.91" cy="72.06" r="3.33" fill="#a0a0a0"/>
<circle cx="153.71" cy="107.01" r="2.22" fill="#989898"/>
<circle cx="19.97" cy="145.46" r="1.83" fill="#989898"/>
<circle cx="121.46" cy="113.68" r="2.76" fill="#7c7c7c"/>
<circle cx="65.22" cy="107.55" r="3.17" fill="#a0a0a0"/>
<circle cx="104.33" cy="76.15" r="2.76" fill="#888888"/>
<circle cx="17.52" cy="121.71" r="2.17" fill="#a0a0a0"/>
<circle cx="196.43" cy="126.07" r="2.58" fill="#727272"/>
<circle cx="185.39" cy="127.26" r="3.03" fill="#727272"/>
<circle cx="59.3" cy="73.69" r="2.18" fill="#8e8e8e"/>
<circle cx="55.14" cy="110.57" r="1.75" fill="#727272"/>
<circle cx="28.56" cy="66.71" r="2.11" fill="#8e8e8e"/>
<circle cx="76.59" cy="143.71" r="2.36" fill="#8e8e8e"/>
<circle cx="54.63" cy="105.78" r="2.52" fill="#888888"/>
<circle cx="18.36" cy="114.24" r="3.55" fill="#7c7c7c"/>
<circle cx="44.91" cy="112.78" r="2.96" fill="#989898"/>
<circle cx="139.37" cy="129.61" r="1.87" fill="#888888"/>
<circle cx="85.35" cy="67.86" r="3.52" fill="#888888"/>
<circle cx="12.12" cy="101.79" r="2.29" fill="#888888"/>
<circle cx="100.67" cy="148.65" r="1.97" fill="#727272"/>
<circle cx="217.15" cy="126.87" r="2.85" fill="#8e8e8e"/>
<circle cx="149.49" cy="143.93" r="2.26" fill="#727272"/>
<circle cx="100.09" cy="87.14" r="2.2" fill="#858585"/>
<circle cx="173.25" cy="116.49" r="1.74" fill="#a0a0a0"/>
<circle cx="108.38" cy="115.22" r="3.52" fill="#858585"/>
<circle cx="112.92" cy="102.59" r="2.69" fill="#858585"/>
<circle cx="157.58" cy="119.79" r="2.64" fill="#888888"/>
<circle cx="85.28" cy="82.73" r="1.79" fill="#7c7c7c"/>
<circle cx="51.67" cy="137.18" r="1.77" fill="#7c7c7c"/>
<circle cx="56.9" cy="108.25" r="2.2" fill="#858585"/>
<circle cx="75.42" cy="133.83" r="3.19" fill="#8e8e8e"/>
<circle cx="97.47" cy="107.14" r="2.5" fill="#7c7c7c"/>
<circle cx="199.86" cy="99.04" r="3.27" fill="#a0a0a0"/>
<circle cx="130.41" cy="68.98" r="1.84" fill="#7c7c7c"/>
<circle cx="211.09" cy="136.75" r="2.36" fill="#858585"/>
<circle cx="20.8" cy="93.29" r="2.38" fill="#727272"/>
<circle cx="106.19" cy="105.18" r="2.94" fill="#727272"/>
<circle cx="35.51" cy="66.73" r="2.4" fill="#7c7c7c"/>
<circle cx="87.1" cy="64.37" r="2.95" fill="#a0a0a0"/>
<circle cx="29.55" cy="106.9" r="2.02" fill="#888888"/>
<circle cx="174.39" cy="143.19" r="3.51" fill="#7c7c7c"/>
<circle cx="44.39" cy="118.87" r="2.47" fill="#888888"/>
<circle cx="63.45" cy="131.31" r="2.57" fill="#7c7c7c"/>
<circle cx="29.56" cy="115.41" r="3.09" fill="#a0a0a0"/>
<circle cx="85.04" cy="87.98" r="3.46" fill="#858585"/>
<circle cx="123.8" cy="99.36" r="1.89" fill="#8e8e8e"/>
<circle cx="67.14" cy="120.21" r="2.77" fill="#858585"/>
<circle cx="138.89" cy="91.81" r="1.66" fill="#858585"/>
<circle cx="211.8" cy="128.14" r="3.16" fill="#888888"/>
<circle cx="134.58" cy="144.97" r="2.86" fill="#989898"/>
<circle cx="184.09" cy="131.81" r="2.44" fill="#989898"/>
<circle cx="174.7" cy="67.32" r="2" fill="#8e8e8e"/>
<circle cx="55.33" cy="146.04" r="3.27" fill="#858585"/>
<circle cx="189.17" cy="90.04" r="2.59" fill="#a0a0a0"/>
<circle cx="225.91" cy="104.71" r="2.37" fill="#a0a0a0"/>
<circle cx="85.73" cy="127.74" r="1.88" fill="#888888"/>
<circle cx="207.21" cy="99.71" r="2.37" fill="#a0a0a0"/>
<circle cx="1.91" cy="138.24" r="2.74" fill="#a0a0a0"/>
<circle cx="217.49" cy="99.09" r="2.38" fill="#a0a0a0"/>
<circle cx="197.04" cy="118.38" r="2.04" fill="#7c7c7c"/>
<circle cx="184.96" cy="72.63" r="1.83" fill="#888888"/>
<circle cx="67.32" cy="141.8" r="2.55" fill="#888888"/>
<circle cx="197.09" cy="77.12" r="2.78" fill="#989898"/>
<circle cx="144.61" cy="84.11" r="1.74" fill="#888888"/>
<circle cx="115.09" cy="84.54" r="3.19" fill="#a0a0a0"/>
<circle cx="49.62" cy="131.11" r="1.92" fill="#888888"/>
<circle cx="29.63" cy="103.73" r="1.86" fill="#a0a0a0"/>
<circle cx="56.17" cy="127.78" r="2.45" fill="#7c7c7c"/>
<circle cx="222.22" cy="128.69" r="1.95" fill="#a0a0a0"/>
<circle cx="85.48" cy="121.71" r="3.35" fill="#727272"/>
<circle cx="163.43" cy="90" r="1.92" fill="#727272"/>
<circle cx="191.32" cy="128.62" r="2.34" fill="#858585"/>
<circle cx="171.26" cy="100.77" r="2.08" fill="#727272"/>
<circle cx="82.11" cy="145.43" r="2.3" fill="#727272"/>
<circle cx="14.92" cy="146.58" r="2.67" fill="#727272"/>
<circle cx="155.15" cy="66.78" r="2.74" fill="#a0a0a0"/>
<circle cx="2.82" cy="121.03" r="3.5" fill="#888888"/>
<circle cx="0.52" cy="78.76" r="1.82" fill="#989898"/>
<circle cx="15.01" cy="75.14" r="1.97" fill="#888888"/>
<circle cx="137.12" cy="108.36" r="2.14" fill="#7c7c7c"/>
<circle cx="182.08" cy="95.96" r="1.9" fill="#858585"/>
<circle cx="146.53" cy="69.84" r="3.47" fill="#8e8e8e"/>
<circle cx="41.22" cy="133.21" r="3.23" fill="#888888"/>
<circle cx="204.64" cy="67.33" r="2.8" fill="#858585"/>
<circle cx="134.5" cy="81.94" r="3.22" fill="#727272"/>
<circle cx="99.94" cy="79.87" r="2.35" fill="#8e8e8e"/>
<circle cx="191.89" cy="95.72" r="2.36" fill="#888888"/>
<circle cx="138.06" cy="80.09" r="1.62" fill="#7c7c7c"/>
<circle cx="163.19" cy="77.56" r="2.6" fill="#7c7c7c"/>
<circle cx="52.58" cy="133.18" r="1.73" fill="#a0a0a0"/>
<circle cx="163.58" cy="143.8" r="3.18" fill="#727272"/>
<circle cx="194.12" cy="94.77" r="2.64" fill="#a0a0a0"/>
<circle cx="116.01" cy="102.59" r="3.32" fill="#8e8e8e"/>
<circle cx="92.9" cy="138.72" r="3.22" fill="#a0a0a0"/>
<circle cx="206.68" cy="84.1" r="2.34" fill="#888888"/>
<circle cx="179.15" cy="121.51" r="2.46" fill="#a0a0a0"/>
<circle cx="55.61" cy="93.48" r="3.13" fill="#727272"/>
<circle cx="177.98" cy="110.3" r="2.19" fill="#8e8e8e"/>
<circle cx="23.14" cy="66.62" r="2.21" fill="#8e8e8e"/>
<circle cx="167.21" cy="99.37" r="2.69" fill="#a0a0a0"/>
<circle cx="185.98" cy="65.05" r="2.89" fill="#8e8e8e"/>
<circle cx="6.48" cy="104.99" r="2.01" fill="#858585"/>
<circle cx="185.63" cy="125.49" r="3.2" fill="#7c7c7c"/>
<circle cx="111.65" cy="111.54" r="3.11" fill="#7c7c7c"/>
<circle cx="24.22" cy="119.18" r="3.12" fill="#888888"/>
<circle cx="147.27" cy="118.93" r="2.81" fill="#989898"/>
<circle cx="1.7" cy="134.47" r="2.94" fill="#7c7c7c"/>
<circle cx="4.14" cy="79.84" r="2.27" fill="#727272"/>
<circle cx="127.89" cy="130.57" r="2.72" fill="#7c7c7c"/>
<circle cx="9.38" cy="107.9" r="2.4" fill="#727272"/>
<circle cx="13.66" cy="94.13" r="3.05" fill="#7c7c7c"/>
<circle cx="126.23" cy="104.3" r="3.13" fill="#a0a0a0"/>
<circle cx="43.19" cy="91.28" r="3.43" fill="#989898"/>
<circle cx="221.24" cy="100.66" r="3.22" fill="#888888"/>
<circle cx="158.6" cy="76.83" r="3.38" fill="#a0a0a0"/>
<circle cx="60.21" cy="111.38" r="2.77" fill="#858585"/>
<circle cx="148.64" cy="94.64" r="2.61" fill="#7c7c7c"/>
<circle cx="184.53" cy="82.67" r="1.95" fill="#a0a0a0"/>
<circle cx="101.97" cy="143.52" r="1.71" fill="#858585"/>
<circle cx="90.65" cy="139.26" r="3.11" fill="#8e8e8e"/>
<circle cx="148" cy="106.31" r="2.94" fill="#727272"/>
<circle cx="80.82" cy="115.37" r="2.68" fill="#888888"/>
<circle cx="25.51" cy="64.09" r="2.58" fill="#989898"/>
<circle cx="138.64" cy="86.47" r="1.92" fill="#858585"/>
<circle cx="177.19" cy="81.66" r="2.29" fill="#8e8e8e"/>
<circle cx="39.33" cy="138.19" r="2.73" fill="#8e8e8e"/>
<circle cx="188.93" cy="119.98" r="1.63" fill="#989898"/>
<circle cx="35.46" cy="137.02" r="1.87" fill="#989898"/>
<circle cx="123.86" cy="73.83" r="2.91" fill="#8e8e8e"/>
<circle cx="70.59" cy="124.62" r="1.68" fill="#888888"/>
<circle cx="136.57" cy="78.51" r="2.92" fill="#8e8e8e"/>
<circle cx="43.44" cy="120.09" r="2.45" fill="#989898"/>
<circle cx="131.61" cy="143.31" r="2.14" fill="#858585"/>
<circle cx="170.27" cy="123.57" r="3.26" fill="#a0a0a0"/>
<circle cx="68.54" cy="110.45" r="2.41" fill="#989898"/>
<circle cx="75.93" cy="85.81" r="2.14" fill="#7c7c7c"/>
<circle cx="36.09" cy="103.58" r="2.37" fill="#858585"/>
<circle cx="173.49" cy="125.5" r="2.72" fill="#989898"/>
<circle cx="213.05" cy="138.73" r="3.23" fill="#727272"/>
<circle cx="177.44" cy="80.55" r="2.9" fill="#8e8e8e"/>
<circle cx="151.51" cy="137.09" r="3.11" fill="#a0a0a0"/>
<circle cx="197.53" cy="72.16" r="3.19" fill="#8e8e8e"/>
<circle cx="59.21" cy="110.01" r="3.42" fill="#727272"/>
<circle cx="194.9" cy="74.61" r="3.38" fill="#a0a0a0"/>
<circle cx="149.63" cy="132.34" r="1.7" fill="#888888"/>
<circle cx="100.77" cy="85.06" r="2.88" fill="#858585"/>
<circle cx="218.33" cy="140.58" r="2.81" fill="#8e8e8e"/>
<circle cx="8.29" cy="94.17" r="3.3" fill="#8e8e8e"/>
<circle cx="151.38" cy="79.86" r="3.4" fill="#888888"/>
<circle cx="145.69" cy="66.82" r="2.82" fill="#a0a0a0"/>
<circle cx="162.21" cy="108.47" r="1.62" fill="#7c7c7c"/>
<circle cx="111.67" cy="118.2" r="2.68" fill="#8e8e8e"/>
<circle cx="117.98" cy="144.55" r="2.92" fill="#888888"/>
<circle cx="73.46" cy="78.54" r="3.41" fill="#a0a0a0"/>
<circle cx="139.54" cy="89.82" r="1.66" fill="#7c7c7c"/>
<circle cx="77.19" cy="101.53" r="2.55" fill="#727272"/>
<circle cx="148.05" cy="101.48" r="2.95" fill="#a0a0a0"/>
<circle cx="74.3" cy="113.05" r="1.66" fill="#8e8e8e"/>
<circle cx="107.37" cy="97.32" r="2.69" fill="#727272"/>
<circle cx="105.65" cy="82.92" r="1.72" fill="#a0a0a0"/>
<circle cx="191.19" cy="99.18" r="3.1" fill="#727272"/>
<circle cx="201.52" cy="63.09" r="1.69" fill="#a0a0a0"/>
<circle cx="89.61" cy="146.12" r="2.65" fill="#858585"/>
<circle cx="201.46" cy="132.75" r="2.98" fill="#888888"/>
<circle cx="90.27" cy="81.32" r="2.91" fill="#989898"/>
<circle cx="7.42" cy="69.74" r="2.3" fill="#989898"/>
<circle cx="157.68" cy="119.84" r="2.78" fill="#989898"/>
<circle cx="98.4" cy="120.27" r="3.59" fill="#727272"/>
<circle cx="38.14" cy="143.2" r="2.73" fill="#727272"/>
<circle cx="185.77" cy="64.11" r="1.6" fill="#8e8e8e"/>
<circle cx="179.24" cy="147.54" r="1.79" fill="#7c7c7c"/>
<circle cx="36.01" cy="88.34" r="3.07" fill="#727272"/>
<circle cx="189.28" cy="79.36" r="2.84" fill="#7c7c7c"/>
<circle cx="43.41" cy="149.44" r="3.02" fill="#888888"/>
<circle cx="65.55" cy="73.11" r="2.89" fill="#a0a0a0"/>
<circle cx="26.8" cy="67.52" r="2.71" fill="#989898"/>
<circle cx="126.47" cy="67.86" r="2.53" fill="#989898"/>
<circle cx="13.15" cy="91.84" r="2.48" fill="#888888"/>
<circle cx="70.19" cy="67.21" r="2.18" fill="#888888"/>
<circle cx="25.62" cy="115.23" r="3.46" fill="#858585"/>
<circle cx="189.21" cy="100.88" r="3.49" fill="#7c7c7c"/>
<circle cx="80.44" cy="146.29" r="1.94" fill="#a0a0a0"/>
<circle cx="111.32" cy="126.14" r="3.01" fill="#a0a0a0"/>
<circle cx="114.76" cy="130.27" r="3.45" fill="#888888"/>
<circle cx="104.41" cy="84.29" r="2.78" fill="#a0a0a0"/>
<circle cx="43.49" cy="68.47" r="2.15" fill="#858585"/>
<circle cx="172.82" cy="150.15" r="3.53" fill="#8e8e8e"/>
<circle cx="47.1" cy="140.69" r="2.21" fill="#858585"/>
<circle cx="206.66" cy="79.22" r="1.78" fill="#8e8e8e"/>
<circle cx="38.53" cy="77.8" r="2.03" fill="#7c7c7c"/>
<circle cx="182.8" cy="92.86" r="2.92" fill="#888888"/>
<circle cx="125.95" cy="145.47" r="2.26" fill="#888888"/>
<circle cx="188.59" cy="64.01" r="3.11" fill="#727272"/>
<circle cx="52.19" cy="118.63" r="1.71" fill="#8e8e8e"/>
<circle cx="141.24" cy="65.67" r="2.78" fill="#a0a0a0"/>
<circle cx="7.63" cy="123.34" r="2.8" fill="#888888"/>
<circle cx="121.44" cy="126.8" r="2.45" fill="#727272"/>
<circle cx="33.12" cy="95.05" r="3.31" fill="#888888"/>
<circle cx="152.42" cy="106.59" r="3.03" fill="#a0a0a0"/>
<circle cx="143.47" cy="73.74" r="3.1" fill="#858585"/>
<circle cx="66.31" cy="109.27" r="1.72" fill="#858585"/>
<circle cx="20.85" cy="94.33" r="2.94" fill="#7c7c7c"/>
<circle cx="62.07" cy="125.49" r="1.71" fill="#989898"/>
<circle cx="76.54" cy="93.68" r="3.14" fill="#888888"/>
<circle cx="110.78" cy="129.93" r="1.74" fill="#7c7c7c"/>
<circle cx="86.03" cy="77.27" r="2.83" fill="#7c7c7c"/>
<circle cx="98.19" cy="103.18" r="2.63" fill="#858585"/>
<circle cx="166.21" cy="97.72" r="1.98" fill="#a0a0a0"/>
<circle cx="30.1" cy="118.12" r="2.51" fill="#989898"/>
<circle cx="79.66" cy="133.46" r="3.54" fill="#888888"/>
<circle cx="154.2" cy="135.62" r="2.11" fill="#8e8e8e"/>
<circle cx="72.25" cy="90.26" r="3.36" fill="#989898"/>
<circle cx="98.21" cy="86.36" r="2.28" fill="#727272"/>
<circle cx="159.51" cy="124.99" r="1.62" fill="#7c7c7c"/>
<circle cx="157.81" cy="76.61" r="2.06" fill="#a0a0a0"/>
<circle cx="188.19" cy="95.68" r="2.84" fill="#888888"/>
<circle cx="1.11" cy="110.97" r="3.05" fill="#8e8e8e"/>
<circle cx="151.04" cy="147.37" r="3.51" fill="#888888"/>
<circle cx="21.29" cy="127.25" r="3.52" fill="#858585"/>
<circle cx="93.56" cy="127.41" r="1.89" fill="#727272"/>
<circle cx="2.85" cy="118.75" r="3.56" fill="#8e8e8e"/>
<circle cx="193.23" cy="146.22" r="3.2" fill="#727272"/>
<circle cx="172.15" cy="66.18" r="2.31" fill="#7c7c7c"/>
<circle cx="129.16" cy="82.09" r="2.24" fill="#7c7c7c"/>
<circle cx="65.78" cy="115.28" r="2.22" fill="#a0a0a0"/>
<circle cx="199.27" cy="83.09" r="1.84" fill="#7c7c7c"/>
<circle cx="32.16" cy="144.83" r="2.3" fill="#a0a0a0"/>
<circle cx="119.08" cy="94.35" r="1.71" fill="#858585"/>
<circle cx="20.42" cy="101.2" r="2.28" fill="#a0a0a0"/>
<circle cx="80.61" cy="84.19" r="2.21" fill="#888888"/>
<circle cx="64.54" cy="108.47" r="2.25" fill="#8e8e8e"/>
<circle cx="121.3" cy="142.51" r="2.82" fill="#727272"/>
<circle cx="50.28" cy="89.62" r="2.44" fill="#989898"/>
<circle cx="113.86" cy="139.65" r="3.22" fill="#727272"/>
<circle cx="144.86" cy="144.78" r="2.49" fill="#858585"/>
<circle cx="102.82" cy="99.1" r="2.75" fill="#858585"/>
<circle cx="67.32" cy="107.1" r="2.89" fill="#858585"/>
<circle cx="54.05" cy="102.43" r="2.93" fill="#989898"/>
<circle cx="33.96" cy="134.87" r="2.94" fill="#727272"/>
<circle cx="29.14" cy="122.82" r="3.33" fill="#989898"/>
<circle cx="123.75" cy="94" r="1.71" fill="#858585"/>
<circle cx="41.55" cy="103.03" r="2.62" fill="#7c7c7c"/>
<circle cx="13.82" cy="127.39" r="1.74" fill="#858585"/>
<circle cx="142.42" cy="103.39" r="2.09" fill="#888888"/>
<circle cx="217.27" cy="83.32" r="3.04" fill="#a0a0a0"/>
<circle cx="131.21" cy="74.63" r="3.29" fill="#8e8e8e"/>
<circle cx="35.37" cy="122.24" r="3.29" fill="#858585"/>
<circle cx="84.07" cy="127.89" r="2.96" fill="#7c7c7c"/>
<circle cx="102.14" cy="66.08" r="3.01" fill="#888888"/>
<circle cx="31.04" cy="146.13" r="2.13" fill="#858585"/>
<circle cx="8.6" cy="109.17" r="1.97" fill="#a0a0a0"/>
<circle cx="162.72" cy="109.36" r="3.12" fill="#989898"/>
<circle cx="41.74" cy="115.2" r="2.56" fill="#888888"/>
<circle cx="203.44" cy="141.4" r="1.83" fill="#888888"/>
<circle cx="184.01" cy="122.62" r="1.87" fill="#8e8e8e"/>
<circle cx="51.39" cy="115.07" r="3.22" fill="#a0a0a0"/>
<circle cx="173.17" cy="125.87" r="1.62" fill="#858585"/>
<circle cx="165.5" cy="113.25" r="3.28" fill="#858585"/>
<circle cx="168.88" cy="120.7" r="2.34" fill="#a0a0a0"/>
<circle cx="66.52" cy="146.69" r="2.85" fill="#7c7c7c"/>
<circle cx="124.59" cy="142.48" r="2.75" fill="#a0a0a0"/>
<circle cx="193.42" cy="95.15" r="3.13" fill="#7c7c7c"/>
<circle cx="112.89" cy="104.55" r="2.29" fill="#7c7c7c"/>
<circle cx="22.1" cy="69.66" r="3.18" fill="#8e8e8e"/>
<circle cx="182.45" cy="81.16" r="3" fill="#a0a0a0"/>
<circle cx="202.78" cy="125.5" r="2.79" fill="#989898"/>
<circle cx="50.04" cy="139.97" r="3.58" fill="#888888"/>
<circle cx="94.28" cy="142.31" r="2.94" fill="#7c7c7c"/>
<circle cx="172.22" cy="140.04" r="3.36" fill="#888888"/>
<circle cx="202.4" cy="121.13" r="3.53" fill="#989898"/>
<circle cx="157.79" cy="72.1" r="3.3" fill="#989898"/>
<circle cx="87.78" cy="76.98" r="1.95" fill="#727272"/>
<circle cx="106.66" cy="135.7" r="1.98" fill="#a0a0a0"/>
<circle cx="169.32" cy="149.35" r="3.33" fill="#727272"/>
<circle cx="144.92" cy="121.7" r="3.54" fill="#727272"/>
<circle cx="168.67" cy="116.85" r="1.65" fill="#8e8e8e"/>
<circle cx="102.34" cy="85.66" r="3.17" fill="#989898"/>
<circle cx="186.24" cy="150.85" r="3.09" fill="#8e8e8e"/>
<circle cx="102.14" cy="69.12" r="2.02" fill="#858585"/>
<circle cx="39.59" cy="118.35" r="2.58" fill="#989898"/>
<circle cx="40.21" cy="79.86" r="1.79" fill="#727272"/>
<circle cx="82.23" cy="70.6" r="2.63" fill="#7c7c7c"/>
<circle cx="119.7" cy="112.07" r="1.62" fill="#989898"/>
<circle cx="80.64" cy="150.19" r="1.98" fill="#8e8e8e"/>
<circle cx="96.11" cy="95.48" r="2.95" fill="#888888"/>
<circle cx="99.56" cy="142.28" r="3.48" fill="#727272"/>
<circle cx="24.94" cy="127.56" r="3.12" fill="#727272"/>
<circle cx="47.33" cy="93.13" r="2.46" fill="#727272"/>
<circle cx="151.56" cy="84.43" r="2.22" fill="#888888"/>
<circle cx="70.32" cy="146.49" r="3.21" fill="#989898"/>
<circle cx="116.96" cy="131.79" r="1.74" fill="#7c7c7c"/>
<circle cx="37.06" cy="113.36" r="2.67" fill="#8e8e8e"/>
<circle cx="182.17" cy="81.56" r="3.57" fill="#858585"/>
<circle cx="131.7" cy="99.1" r="3.59" fill="#727272"/>
<circle cx="205.57" cy="121.7" r="2.28" fill="#7c7c7c"/>
<circle cx="63.67" cy="94.37" r="3.27" fill="#8e8e8e"/>
<circle cx="214.4" cy="118.4" r="2.68" fill="#888888"/>
<circle cx="21.42" cy="105.89" r="2.3" fill="#7c7c7c"/>
<circle cx="162.42" cy="79.26" r="1.67" fill="#7c7c7c"/>
<circle cx="219.52" cy="144.15" r="1.72" fill="#8e8e8e"/>
<circle cx="219.72" cy="127.87" r="1.87" fill="#a0a0a0"/>
<circle cx="15.57" cy="97.63" r="1.99" fill="#7c7c7c"/>
<circle cx="173.43" cy="124.21" r="2.43" fill="#7c7c7c"/>
<circle cx="134.1" cy="87.15" r="3.15" fill="#a0a0a0"/>
<circle cx="84.72" cy="116.83" r="1.62" fill="#888888"/>
<circle cx="170.38" cy="88.76" r="2.6" fill="#888888"/>
<circle cx="60.48" cy="144.02" r="2.01" fill="#888888"/>
<circle cx="105.23" cy="133.05" r="2.14" fill="#727272"/>
<circle cx="152.3" cy="67.52" r="2.9" fill="#7c7c7c"/>
<circle cx="30.57" cy="103.66" r="2.38" fill="#727272"/>
<circle cx="12" cy="77.92" r="3.43" fill="#989898"/>
<circle cx="212.81" cy="66.95" r="2.61" fill="#727272"/>
<circle cx="146.61" cy="81.31" r="3" fill="#8e8e8e"/>
<circle cx="28.58" cy="96.08" r="1.63" fill="#888888"/>
<circle cx="91.57" cy="95.37" r="2.27" fill="#8e8e8e"/>
<circle cx="72.81" cy="109.8" r="2.28" fill="#858585"/>
<circle cx="73.18" cy="102.89" r="3.33" fill="#8e8e8e"/>
<circle cx="21" cy="64.31" r="1.65" fill="#727272"/>
<circle cx="209.8" cy="138.57" r="1.98" fill="#a0a0a0"/>
<circle cx="119.07" cy="135.5" r="2.82" fill="#989898"/>
<circle cx="116.74" cy="66.86" r="3.1" fill="#8e8e8e"/>
<circle cx="9.88" cy="63.25" r="3.06" fill="#989898"/>
<circle cx="95.02" cy="92.47" r="3.42" fill="#a0a0a0"/>
<circle cx="90.75" cy="141.58" r="3.43" fill="#989898"/>
<circle cx="29.75" cy="81.02" r="1.92" fill="#888888"/>
<circle cx="12.03" cy="112.88" r="3.19" fill="#727272"/>
<circle cx="24.67" cy="138.37" r="2.66" fill="#727272"/>
<circle cx="215.29" cy="121.2" r="2.52" fill="#858585"/>
<circle cx="192.59" cy="63.76" r="1.88" fill="#858585"/>
<circle cx="120.18" cy="107.9" r="2.89" fill="#a0a0a0"/>
<circle cx="154.6" cy="83.69" r="2.79" fill="#7c7c7c"/>
<circle cx="160.7" cy="105.87" r="2.27" fill="#727272"/>
<circle cx="148.72" cy="139.07" r="1.77" fill="#8e8e8e"/>
<circle cx="37.34" cy="89.5" r="1.76" fill="#8e8e8e"/>
<circle cx="29.2" cy="128.55" r="2.5" fill="#888888"/>
<circle cx="221.82" cy="148" r="2.09" fill="#8e8e8e"/>
<circle cx="132.15" cy="84.03" r="1.75" fill="#a0a0a0"/>
<circle cx="120.55" cy="130.75" r="3.15" fill="#727272"/>
<circle cx="9.8" cy="150.74" r="2.71" fill="#a0a0a0"/>
<circle cx="203.06" cy="142.43" r="1.98" fill="#888888"/>
<circle cx="25.42" cy="125.56" r="3.32" fill="#a0a0a0"/>
<circle cx="133.61" cy="116.05" r="3.6" fill="#888888"/>
<circle cx="58.41" cy="128.16" r="2.17" fill="#888888"/>
<circle cx="205.32" cy="105.9" r="2.25" fill="#727272"/>
<circle cx="138.51" cy="72.79" r="1.73" fill="#858585"/>
<circle cx="70.48" cy="149.56" r="2.88" fill="#989898"/>
<circle cx="74.2" cy="70.89" r="1.89" fill="#888888"/>
<circle cx="196.34" cy="141.65" r="3.6" fill="#727272"/>
<circle cx="99.58" cy="99.75" r="2.71" fill="#888888"/>
<circle cx="57.2" cy="99.48" r="2.91" fill="#8e8e8e"/>
<circle cx="9.46" cy="144.73" r="1.8" fill="#858585"/>
<circle cx="163.9" cy="129.77" r="3.56" fill="#989898"/>
<circle cx="62.25" cy="150.48" r="2.36" fill="#858585"/>
<circle cx="37.14" cy="127.92" r="2.5" fill="#888888"/>
<circle cx="114.15" cy="70.8" r="2.29" fill="#858585"/>
<circle cx="72.71" cy="71.61" r="1.8" fill="#8e8e8e"/>
<circle cx="111.94" cy="105.76" r="2.27" fill="#8e8e8e"/>
<circle cx="189.48" cy="68.43" r="3.57" fill="#727272"/>
<circle cx="74.95" cy="111.77" r="3.5" fill="#8e8e8e"/>
<circle cx="187.61" cy="75.86" r="3.44" fill="#727272"/>
<circle cx="194.8" cy="130.32" r="2.86" fill="#8e8e8e"/>
<circle cx="176.13" cy="78.51" r="3.13" fill="#727272"/>
<circle cx="80.78" cy="146.81" r="3.54" fill="#8e8e8e"/>
<circle cx="36.39" cy="98.69" r="3.31" fill="#8e8e8e"/>
<circle cx="39.52" cy="135.78" r="1.89" fill="#a0a0a0"/>
<circle cx="208.84" cy="116.73" r="2.16" fill="#989898"/>
<circle cx="36.37" cy="146.93" r="2.24" fill="#a0a0a0"/>
<circle cx="129.67" cy="87.8" r="3.29" fill="#8e8e8e"/>
<circle cx="37.7" cy="139.55" r="1.66" fill="#8e8e8e"/>
<circle cx="5.81" cy="101.4" r="2.3" fill="#727272"/>
<circle cx="101.46" cy="75.74" r="2.03" fill="#8e8e8e"/>
<circle cx="224.91" cy="94.53" r="1.95" fill="#858585"/>
<circle cx="162.23" cy="95.69" r="1.7" fill="#a0a0a0"/>
<circle cx="68.96" cy="76.69" r="3.5" fill="#a0a0a0"/>
<circle cx="108.6" cy="67.56" r="3.45" fill="#727272"/>
<circle cx="175.66" cy="116.96" r="1.78" fill="#858585"/>
<circle cx="219.95" cy="66.82" r="1.66" fill="#8e8e8e"/>
<circle cx="83.47" cy="143.46" r="1.69" fill="#858585"/>
<circle cx="50.08" cy="89.25" r="2.72" fill="#8e8e8e"/>
<circle cx="43.62" cy="113.41" r="2" fill="#a0a0a0"/>
<circle cx="48.56" cy="74.92" r="3.02" fill="#858585"/>
<circle cx="71.01" cy="110.97" r="2.85" fill="#888888"/>
<circle cx="149.42" cy="65.04" r="2.56" fill="#858585"/>
<circle cx="102.66" cy="113.4" r="3.43" fill="#989898"/>
<circle cx="92.99" cy="144.24" r="3.01" fill="#858585"/>
<circle cx="104.6" cy="140.18" r="3.22" fill="#989898"/>
<circle cx="186.6" cy="150.43" r="1.93" fill="#858585"/>
<circle cx="87.02" cy="149.12" r="2.49" fill="#727272"/>
<circle cx="170.74" cy="74.86" r="3.18" fill="#989898"/>
<circle cx="13.5" cy="104.8" r="2.74" fill="#888888"/>
<circle cx="0.2" cy="115.44" r="1.67" fill="#858585"/>
<circle cx="164.89" cy="122.13" r="2.68" fill="#858585"/>
<circle cx="131.65" cy="90.07" r="1.61" fill="#858585"/>
<circle cx="54.49" cy="139.82" r="3.03" fill="#7c7c7c"/>
<circle cx="62.9" cy="95.02" r="3.52" fill="#8e8e8e"/>
<circle cx="139.12" cy="126.43" r="2.03" fill="#7c7c7c"/>
<circle cx="113.53" cy="67.34" r="1.86" fill="#888888"/>
<circle cx="122.3" cy="86.8" r="1.67" fill="#888888"/>
<circle cx="192.57" cy="97.87" r="3.49" fill="#7c7c7c"/>
<circle cx="211.68" cy="106.11" r="1.82" fill="#7c7c7c"/>
<circle cx="56.61" cy="68.3" r="2.67" fill="#858585"/>
<circle cx="41.41" cy="92.68" r="2.53" fill="#a0a0a0"/>
<circle cx="35.5" cy="105.91" r="2.35" fill="#727272"/>
<circle cx="172.52" cy="89.18" r="3.32" fill="#8e8e8e"/>
<circle cx="149.23" cy="108.99" r="1.95" fill="#858585"/>
<circle cx="167.38" cy="69.79" r="2.19" fill="#888888"/>
<circle cx="158.27" cy="85.34" r="2.92" fill="#8e8e8e"/>
<circle cx="172.36" cy="94.81" r="2.5" fill="#989898"/>
<circle cx="117.55" cy="68.83" r="2.77" fill="#858585"/>
<circle cx="118.82" cy="72.86" r="2.8" fill="#989898"/>
<circle cx="86.18" cy="104.62" r="2.37" fill="#7c7c7c"/>
<circle cx="75.43" cy="118.04" r="1.62" fill="#8e8e8e"/>
<circle cx="184.55" cy="106.33" r="3.34" fill="#858585"/>
<circle cx="165.36" cy="123.34" r="2.8" fill="#858585"/>
<circle cx="191.59" cy="130.12" r="2.61" fill="#858585"/>
<circle cx="101.95" cy="137.09" r="2.66" fill="#7c7c7c"/>
<circle cx="68.4" cy="98.77" r="2.61" fill="#a0a0a0"/>
<circle cx="205.98" cy="100.58" r="2.58" fill="#7c7c7c"/>
<circle cx="145.97" cy="121.56" r="1.66" fill="#727272"/>
<circle cx="163.33" cy="119.41" r="1.8" fill="#888888"/>
<circle cx="91.57" cy="132.18" r="3.5" fill="#989898"/>
<circle cx="48.62" cy="128.38" r="2.29" fill="#727272"/>
<circle cx="123.93" cy="146.76" r="1.92" fill="#727272"/>
<circle cx="146.13" cy="106.37" r="3.47" fill="#858585"/>
<circle cx="200.82" cy="111.06" r="2.14" fill="#727272"/>
<circle cx="35.5" cy="138.78" r="2.3" fill="#989898"/>
<circle cx="57.23" cy="109.11" r="3.51" fill="#888888"/>
<circle cx="140.95" cy="110.49" r="1.82" fill="#8e8e8e"/>
<circle cx="56.99" cy="80.81" r="2.97" fill="#8e8e8e"/>
<circle cx="117.7" cy="118.47" r="2.77" fill="#888888"/>
<circle cx="172.2" cy="118.58" r="3.04" fill="#7c7c7c"/>
<circle cx="166.51" cy="111.97" r="1.83" fill="#a0a0a0"/>
<circle cx="171.53" cy="78.63" r="2.44" fill="#888888"/>
<circle cx="37.48" cy="91.88" r="3.19" fill="#888888"/>
<circle cx="72.5" cy="125.49" r="1.9" fill="#888888"/>
<circle cx="193.68" cy="138.22" r="2.92" fill="#858585"/>
<circle cx="203.4" cy="132.62" r="3.45" fill="#7c7c7c"/>
<circle cx="192.24" cy="120.75" r="2.25" fill="#8e8e8e"/>
<circle cx="141.38" cy="105.34" r="2.14" fill="#727272"/>
<circle cx="117.2" cy="125.98" r="3.47" fill="#a0a0a0"/>
<circle cx="204.15" cy="82.69" r="3.36" fill="#888888"/>
<circle cx="170.79" cy="137.19" r="3.02" fill="#a0a0a0"/>
<circle cx="56.37" cy="75.21" r="1.94" fill="#727272"/>
<circle cx="194.84" cy="127.95" r="1.67" fill="#888888"/>
<circle cx="126.79" cy="67.85" r="2.6" fill="#7c7c7c"/>
<circle cx="164.02" cy="150.82" r="2.12" fill="#989898"/>
<circle cx="165.12" cy="105.13" r="3.28" fill="#989898"/>
<circle cx="201.62" cy="96.19" r="2.47" fill="#8e8e8e"/>
<circle cx="53.15" cy="150.42" r="1.74" fill="#888888"/>
<circle cx="162.35" cy="88.45" r="3.19" fill="#858585"/>
<circle cx="79.03" cy="86.69" r="2.04" fill="#989898"/>
<circle cx="36.01" cy="128.33" r="3.55" fill="#858585"/>
<circle cx="165.33" cy="149.38" r="2.21" fill="#888888"/>
<circle cx="143.27" cy="66.63" r="2.26" fill="#727272"/>
<circle cx="85.29" cy="95.12" r="2.82" fill="#727272"/>
<circle cx="17.34" cy="103.39" r="2.26" fill="#989898"/>
<circle cx="75.1" cy="131.57" r="1.64" fill="#a0a0a0"/>
<circle cx="19.46" cy="77.56" r="3.45" fill="#858585"/>
<circle cx="56.01" cy="129.13" r="3.57" fill="#727272"/>
<circle cx="164.75" cy="101.01" r="2.22" fill="#8e8e8e"/>
<circle cx="218.67" cy="96.06" r="3.4" fill="#a0a0a0"/>
<circle cx="2.02" cy="116.87" r="1.73" fill="#8e8e8e"/>
<circle cx="70.76" cy="131.22" r="3.05" fill="#888888"/>
<circle cx="51.81" cy="93.56" r="3.04" fill="#858585"/>
<circle cx="187.08" cy="80.6" r="2.96" fill="#7c7c7c"/>
<circle cx="204.15" cy="97.29" r="2.01" fill="#989898"/>
<circle cx="53.8" cy="104.08" r="3.06" fill="#858585"/>
<circle cx="217.08" cy="93.96" r="3.26" fill="#7c7c7c"/>
<circle cx="76.23" cy="101.96" r="2.95" fill="#727272"/>
<circle cx="131.06" cy="104.86" r="3.02" fill="#989898"/>
<circle cx="13.58" cy="103.71" r="1.79" fill="#989898"/>
<circle cx="215.37" cy="77.35" r="2.02" fill="#8e8e8e"/>
<circle cx="122.41" cy="126.81" r="3.29" fill="#858585"/>
<circle cx="42.55" cy="115.64" r="1.63" fill="#727272"/>
<circle cx="206.74" cy="131.25" r="3.19" fill="#989898"/>
<circle cx="17.43" cy="142.58" r="2.38" fill="#a0a0a0"/>
<circle cx="124.86" cy="124.46" r="3.52" fill="#727272"/>
<circle cx="106.92" cy="148.93" r="2.03" fill="#989898"/>
<circle cx="67.57" cy="117.88" r="2.11" fill="#888888"/>
<circle cx="59.58" cy="77.15" r="2.41" fill="#888888"/>
<circle cx="200.5" cy="138.51" r="2.71" fill="#8e8e8e"/>
<circle cx="91.89" cy="102.33" r="3.03" fill="#7c7c7c"/>
<circle cx="12.73" cy="123.75" r="3.31" fill="#8e8e8e"/>
<circle cx="23.86" cy="66.31" r="2.54" fill="#8e8e8e"/>
<circle cx="12.28" cy="78.72" r="1.69" fill="#888888"/>
<circle cx="114.22" cy="81.14" r="3.21" fill="#a0a0a0"/>
<circle cx="14.67" cy="78.8" r="1.69" fill="#888888"/>
<circle cx="32.86" cy="64.21" r="3.12" fill="#888888"/>
<circle cx="13.36" cy="111.77" r="3.1" fill="#989898"/>
<circle cx="31.66" cy="78.17" r="2.41" fill="#a0a0a0"/>
<circle cx="174.8" cy="63.24" r="3.53" fill="#989898"/>
<circle cx="184.24" cy="144.62" r="3.12" fill="#8e8e8e"/>
<circle cx="183.64" cy="130.81" r="2.56" fill="#858585"/>
<circle cx="202.83" cy="78.03" r="3.47" fill="#888888"/>
<circle cx="4.16" cy="99.43" r="3.29" fill="#a0a0a0"/>
<circle cx="126.63" cy="80.63" r="2.24" fill="#727272"/>
<circle cx="129.79" cy="134.92" r="3.02" fill="#8e8e8e"/>
<circle cx="127.72" cy="72.8" r="2.16" fill="#8e8e8e"/>
<circle cx="212.29" cy="129.78" r="2.68" fill="#8e8e8e"/>
<circle cx="195.74" cy="90.95" r="3.18" fill="#7c7c7c"/>
<circle cx="163.68" cy="147.69" r="2.34" fill="#7c7c7c"/>
<circle cx="57.01" cy="127.49" r="1.64" fill="#7c7c7c"/>
<circle cx="156.36" cy="84.69" r="1.85" fill="#7c7c7c"/>
<circle cx="21.73" cy="67.65" r="2.83" fill="#858585"/>
<circle cx="199.88" cy="87.26" r="3.04" fill="#8e8e8e"/>
<circle cx="53.19" cy="128.48" r="1.91" fill="#858585"/>
<circle cx="93.08" cy="125.95" r="1.62" fill="#727272"/>
<circle cx="98.19" cy="105.95" r="3.04" fill="#989898"/>
<circle cx="96.06" cy="65.24" r="2.16" fill="#8e8e8e"/>
<circle cx="15.33" cy="116.86" r="2.24" fill="#a0a0a0"/>
<circle cx="122.48" cy="124.88" r="3.11" fill="#888888"/>
<circle cx="72.87" cy="133.56" r="1.88" fill="#8e8e8e"/>
<circle cx="94.05" cy="72.12" r="1.76" fill="#8e8e8e"/>
<circle cx="204.3" cy="118.88" r="1.64" fill="#7c7c7c"/>
<circle cx="119.36" cy="113.13" r="1.97" fill="#a0a0a0"/>
<circle cx="178.85" cy="118.58" r="1.95" fill="#727272"/>
<circle cx="221.34" cy="69.67" r="1.82" fill="#858585"/>
<circle cx="108.87" cy="119.93" r="2.41" fill="#8e8e8e"/>
<circle cx="131.95" cy="75.24" r="2.07" fill="#989898"/>
<circle cx="42.67" cy="132.66" r="3.43" fill="#888888"/>
<circle cx="143.45" cy="109.94" r="3.48" fill="#7c7c7c"/>
<circle cx="46.72" cy="123.36" r="2.51" fill="#989898"/>
<circle cx="12.1" cy="144.82" r="1.99" fill="#7c7c7c"/>
<circle cx="200.84" cy="110.45" r="1.69" fill="#727272"/>
<circle cx="77.91" cy="107.61" r="3.36" fill="#888888"/>
<circle cx="93.88" cy="138.9" r="3.16" fill="#858585"/>
<circle cx="3.53" cy="76.7" r="2.59" fill="#727272"/>
<circle cx="48.74" cy="146.08" r="2.39" fill="#a0a0a0"/>
<circle cx="15.8" cy="93.53" r="2" fill="#7c7c7c"/>
<circle cx="70.01" cy="144.21" r="3.14" fill="#727272"/>
<circle cx="208.2" cy="96.18" r="1.67" fill="#727272"/>
<circle cx="163.81" cy="95.75" r="2.24" fill="#7c7c7c"/>
<circle cx="62.46" cy="125.37" r="1.95" fill="#727272"/>
<circle cx="97.24" cy="124.95" r="2.33" fill="#888888"/>
<circle cx="130.76" cy="95.85" r="2.47" fill="#989898"/>
<circle cx="171.27" cy="92.39" r="3.57" fill="#727272"/>
<circle cx="138.52" cy="94.52" r="2.71" fill="#a0a0a0"/>
<circle cx="164.34" cy="136.78" r="2.6" fill="#8e8e8e"/>
<circle cx="95.61" cy="139.88" r="2.34" fill="#858585"/>
<circle cx="37.68" cy="79.11" r="2.32" fill="#727272"/>
<circle cx="158.63" cy="148.92" r="2.49" fill="#a0a0a0"/>
<circle cx="43.41" cy="91.24" r="3.29" fill="#727272"/>
<circle cx="3.7" cy="82.58" r="3.47" fill="#989898"/>
<circle cx="94.96" cy="70" r="2" fill="#858585"/>
<circle cx="144.3" cy="131.6" r="2.99" fill="#a0a0a0"/>
<circle cx="175.86" cy="142.39" r="2.08" fill="#a0a0a0"/>
<circle cx="112.61" cy="92.19" r="1.98" fill="#858585"/>
<circle cx="6.45" cy="130.07" r="2.85" fill="#727272"/>
<circle cx="21.36" cy="95.62" r="2.45" fill="#888888"/>
<circle cx="74.43" cy="133.44" r="3.24" fill="#858585"/>
<circle cx="114.82" cy="70.39" r="2.05" fill="#a0a0a0"/>
<circle cx="130.82" cy="81.46" r="2.19" fill="#a0a0a0"/>
<circle cx="148.15" cy="104.34" r="2.96" fill="#858585"/>
<circle cx="124.64" cy="146.74" r="3.38" fill="#8e8e8e"/>
<circle cx="40.13" cy="128.94" r="1.93" fill="#7c7c7c"/>
<circle cx="224.5" cy="89.57" r="2.39" fill="#8e8e8e"/>
<circle cx="205.51" cy="99.26" r="2.72" fill="#888888"/>
<circle cx="122.67" cy="84.48" r="2.04" fill="#8e8e8e"/>
<circle cx="65.01" cy="122.03" r="2.87" fill="#858585"/>
<circle cx="156.17" cy="73.14" r="2.21" fill="#858585"/>
<circle cx="29.82" cy="97.81" r="3.54" fill="#727272"/>
<circle cx="12.73" cy="116.03" r="1.86" fill="#7c7c7c"/>
<circle cx="204.21" cy="88.71" r="1.92" fill="#8e8e8e"/>
<circle cx="144.01" cy="82.82" r="3.55" fill="#a0a0a0"/>
<circle cx="172.76" cy="134" r="2.76" fill="#727272"/>
<circle cx="63.6" cy="119.02" r="2.63" fill="#888888"/>
<circle cx="29.17" cy="65.85" r="2.87" fill="#8e8e8e"/>
<circle cx="132.01" cy="108.62" r="2.69" fill="#8e8e8e"/>
<circle cx="162.29" cy="93.51" r="2.56" fill="#888888"/>
<circle cx="138.3" cy="150.59" r="2.25" fill="#888888"/>
<circle cx="143.33" cy="125.2" r="3.6" fill="#8e8e8e"/>
<circle cx="197.45" cy="112.78" r="2.93" fill="#727272"/>
<circle cx="55.92" cy="81.38" r="2.63" fill="#888888"/>
<circle cx="55.77" cy="103.23" r="2.13" fill="#727272"/>
<circle cx="41.18" cy="66.88" r="1.67" fill="#7c7c7c"/>
<circle cx="11.38" cy="118.44" r="3.22" fill="#a0a0a0"/>
<circle cx="83.86" cy="145.18" r="2.08" fill="#989898"/>
<circle cx="205.83" cy="77.27" r="2.16" fill="#888888"/>
<circle cx="149.06" cy="91.44" r="3.43" fill="#858585"/>
<circle cx="48.18" cy="78.26" r="2.89" fill="#8e8e8e"/>
<circle cx="140.27" cy="103.78" r="2.36" fill="#989898"/>
<circle cx="155.33" cy="141.04" r="3.28" fill="#a0a0a0"/>
<circle cx="1.88" cy="85.2" r="1.75" fill="#727272"/>
<circle cx="191.99" cy="68.13" r="2.41" fill="#989898"/>
<circle cx="180.11" cy="98.29" r="2.21" fill="#8e8e8e"/>
<circle cx="173.69" cy="70.91" r="2.21" fill="#7c7c7c"/>
<circle cx="8.77" cy="103.29" r="2.41" fill="#a0a0a0"/>
<circle cx="138.75" cy="104.89" r="2.11" fill="#858585"/>
<circle cx="135.23" cy="128.59" r="3.43" fill="#727272"/>
<circle cx="147.61" cy="146.79" r="2.8" fill="#989898"/>
<circle cx="177.33" cy="118.37" r="2.26" fill="#7c7c7c"/>
<circle cx="65.53" cy="118.59" r="1.65" fill="#7c7c7c"/>
<circle cx="3.57" cy="136.41" r="3.47" fill="#8e8e8e"/>
<circle cx="4.22" cy="143.87" r="3.59" fill="#7c7c7c"/>
<circle cx="34.72" cy="69.78" r="1.98" fill="#888888"/>
<circle cx="94.22" cy="144.78" r="2.75" fill="#989898"/>
<circle cx="192.14" cy="95.33" r="3.04" fill="#8e8e8e"/>
<circle cx="44.41" cy="74.23" r="3.46" fill="#989898"/>
<circle cx="225.37" cy="93.52" r="3.45" fill="#989898"/>
<circle cx="95.94" cy="99.3" r="2.92" fill="#858585"/>
<circle cx="102.73" cy="82.27" r="2.15" fill="#858585"/>
<circle cx="196.46" cy="115.74" r="2.24" fill="#8e8e8e"/>
<circle cx="213.37" cy="144.22" r="2.75" fill="#989898"/>
<circle cx="84.58" cy="80.36" r="3.55" fill="#989898"/>
<circle cx="202.13" cy="111.26" r="2.14" fill="#7c7c7c"/>
<circle cx="20.25" cy="79.77" r="2.5" fill="#a0a0a0"/>
<circle cx="184.39" cy="82.05" r="2.56" fill="#858585"/>
<circle cx="187.18" cy="89.38" r="2.62" fill="#858585"/>
<circle cx="66.37" cy="114.19" r="2.25" fill="#7c7c7c"/>
<circle cx="107.52" cy="118.44" r="2.73" fill="#888888"/>
<circle cx="58.09" cy="84.69" r="3.02" fill="#989898"/>
<circle cx="139.01" cy="110.14" r="1.7" fill="#7c7c7c"/>
<circle cx="114.27" cy="137.36" r="2.29" fill="#858585"/>
<circle cx="33.76" cy="106.84" r="3.23" fill="#858585"/>
<circle cx="225.42" cy="120.64" r="3.45" fill="#727272"/>
<circle cx="200.4" cy="72.47" r="3.3" fill="#7c7c7c"/>
<circle cx="162.51" cy="95.72" r="2.5" fill="#7c7c7c"/>
<circle cx="14.22" cy="79.05" r="2.97" fill="#8e8e8e"/>
<circle cx="219.08" cy="71.77" r="2.45" fill="#989898"/>
<circle cx="49.69" cy="96.89" r="2.99" fill="#989898"/>
<circle cx="160.77" cy="95.55" r="2.67" fill="#8e8e8e"/>
<circle cx="213.11" cy="133.6" r="2.11" fill="#8e8e8e"/>
<circle cx="146.8" cy="139" r="3.24" fill="#888888"/>
<circle cx="220.71" cy="80.81" r="2.47" fill="#888888"/>
<circle cx="209.99" cy="66.37" r="2.04" fill="#858585"/>
<circle cx="97.1" cy="70.43" r="1.96" fill="#7c7c7c"/>
<circle cx="53.28" cy="94.14" r="3.25" fill="#a0a0a0"/>
<circle cx="221.67" cy="80.51" r="2.17" fill="#7c7c7c"/>
<circle cx="209.29" cy="126.52" r="1.82" fill="#727272"/>
<circle cx="6.37" cy="85.33" r="2.21" fill="#858585"/>
<circle cx="162.52" cy="88" r="3.41" fill="#727272"/>
<circle cx="50.79" cy="65.51" r="3.16" fill="#888888"/>
<circle cx="76.81" cy="102.77" r="2.72" fill="#8e8e8e"/>
<circle cx="97.73" cy="96.4" r="3.5" fill="#858585"/>
<circle cx="129.87" cy="98.13" r="3.43" fill="#858585"/>
<circle cx="23.58" cy="137.34" r="3.13" fill="#989898"/>
<circle cx="79.35" cy="104.94" r="3.44" fill="#8e8e8e"/>
<circle cx="145.42" cy="135.41" r="1.88" fill="#8e8e8e"/>
<circle cx="26.19" cy="135.37" r="2.75" fill="#888888"/>
<circle cx="162.43" cy="143.46" r="2.57" fill="#989898"/>
<circle cx="56.91" cy="90.36" r="3.24" fill="#888888"/>
<circle cx="157.37" cy="117.86" r="2.7" fill="#888888"/>
<circle cx="149.09" cy="148.29" r="2.08" fill="#a0a0a0"/>
<circle cx="176.36" cy="147.63" r="2.43" fill="#888888"/>
<circle cx="130.66" cy="94.39" r="2.65" fill="#a0a0a0"/>
<circle cx="51.48" cy="90.53" r="2.71" fill="#727272"/>
<circle cx="74.29" cy="142.74" r="1.88" fill="#727272"/>
<circle cx="188.73" cy="134.6" r="3.56" fill="#989898"/>
<circle cx="8.37" cy="125.62" r="1.67" fill="#888888"/>
<circle cx="82.93" cy="66.75" r="2.52" fill="#727272"/>
<circle cx="154.87" cy="119.01" r="2.19" fill="#7c7c7c"/>
<circle cx="91.34" cy="129.06" r="2.11" fill="#858585"/>
<circle cx="4.54" cy="148.76" r="1.9" fill="#858585"/>
<circle cx="148.25" cy="67.81" r="2.87" fill="#989898"/>
<circle cx="196.7" cy="75.22" r="3.42" fill="#888888"/>
<circle cx="64.04" cy="63.43" r="2.03" fill="#7c7c7c"/>
<circle cx="214.72" cy="104.4" r="3.49" fill="#888888"/>
<circle cx="134.29" cy="131.14" r="1.63" fill="#7c7c7c"/>
<circle cx="102.81" cy="109.45" r="3.1" fill="#a0a0a0"/>
<circle cx="49.27" cy="95.22" r="2.47" fill="#8e8e8e"/>
<circle cx="148.41" cy="134.2" r="2.7" fill="#a0a0a0"/>
<circle cx="117.46" cy="140.59" r="3.57" fill="#858585"/>
<circle cx="84.43" cy="66.54" r="3.02" fill="#858585"/>
<circle cx="73.52" cy="71.53" r="2.64" fill="#989898"/>
<circle cx="51.67" cy="70.98" r="1.86" fill="#989898"/>
<circle cx="52.98" cy="84.58" r="2.38" fill="#858585"/>
<circle cx="3.26" cy="130.16" r="2.16" fill="#858585"/>
<circle cx="109.93" cy="99.25" r="1.79" fill="#858585"/>
<circle cx="206.43" cy="105.94" r="2.67" fill="#a0a0a0"/>
<circle cx="59.75" cy="100.71" r="2.37" fill="#a0a0a0"/>
<circle cx="169.76" cy="120.23" r="2.34" fill="#a0a0a0"/>
<circle cx="189.52" cy="87.81" r="3.38" fill="#989898"/>
<circle cx="45.66" cy="96.86" r="3.15" fill="#989898"/>
<circle cx="38.51" cy="102.18" r="2.1" fill="#727272"/>
<circle cx="28.89" cy="128.47" r="1.92" fill="#727272"/>
<circle cx="161.75" cy="73.93" r="3.35" fill="#8e8e8e"/>
<circle cx="126.45" cy="67.39" r="3.12" fill="#8e8e8e"/>
<circle cx="76.77" cy="103.89" r="1.63" fill="#8e8e8e"/>
<circle cx="85.67" cy="128.72" r="2.81" fill="#8e8e8e"/>
<circle cx="19.28" cy="85.89" r="1.9" fill="#888888"/>
<circle cx="165.03" cy="92.37" r="3.38" fill="#727272"/>
<circle cx="22.73" cy="101.99" r="2.62" fill="#727272"/>
<circle cx="2.77" cy="146.29" r="2.65" fill="#989898"/>
<circle cx="212.05" cy="101.67" r="3.54" fill="#858585"/>
<circle cx="132.51" cy="65.16" r="2.97" fill="#a0a0a0"/>
<circle cx="187.84" cy="72.19" r="2.86" fill="#858585"/>
<circle cx="94.19" cy="120.47" r="1.94" fill="#a0a0a0"/>
<circle cx="135.09" cy="86.03" r="3.43" fill="#888888"/>
<circle cx="10.56" cy="112.6" r="1.98" fill="#727272"/>
<circle cx="207.59" cy="73.64" r="2.32" fill="#727272"/>
<circle cx="160.52" cy="121.31" r="1.82" fill="#8e8e8e"/>
<circle cx="48.91" cy="67.44" r="2.07" fill="#7c7c7c"/>
<circle cx="129.06" cy="148.71" r="3.48" fill="#a0a0a0"/>
<circle cx="105.6" cy="106.29" r="3.5" fill="#8e8e8e"/>
<circle cx="112.66" cy="85.44" r="2.72" fill="#727272"/>
<circle cx="80.44" cy="92.76" r="3.29" fill="#7c7c7c"/>
<circle cx="94.12" cy="136.04" r="3.41" fill="#727272"/>
<circle cx="195.96" cy="104" r="2.59" fill="#8e8e8e"/>
<circle cx="75.13" cy="71.81" r="2.27" fill="#858585"/>
<circle cx="172.72" cy="123.87" r="3.35" fill="#989898"/>
<circle cx="153.83" cy="84.39" r="3.04" fill="#8e8e8e"/>
<circle cx="175.6" cy="78.14" r="3.22" fill="#a0a0a0"/>
<circle cx="128.79" cy="90.53" r="2.57" fill="#727272"/>
<circle cx="207.29" cy="143" r="2.7" fill="#989898"/>
<circle cx="119.59" cy="149.08" r="3.51" fill="#a0a0a0"/>
<circle cx="190.4" cy="93.21" r="2.22" fill="#a0a0a0"/>
<circle cx="72.06" cy="96.5" r="2.09" fill="#a0a0a0"/>
<circle cx="18.79" cy="106.65" r="3.49" fill="#888888"/>
<circle cx="173.25" cy="95.79" r="2.7" fill="#a0a0a0"/>
<circle cx="36.01" cy="139.95" r="1.76" fill="#7c7c7c"/>
<circle cx="107.77" cy="144.63" r="2.24" fill="#888888"/>
<circle cx="121.31" cy="82.02" r="2.93" fill="#727272"/>
<circle cx="207.02" cy="94.24" r="2.68" fill="#a0a0a0"/>
<circle cx="123.25" cy="142.09" r="1.93" fill="#888888"/>
<circle cx="43.27" cy="81" r="2.68" fill="#a0a0a0"/>
<circle cx="143.72" cy="79.55" r="2.52" fill="#989898"/>
<circle cx="153.63" cy="65.54" r="3.24" fill="#8e8e8e"/>
<circle cx="52.29" cy="99.82" r="2.57" fill="#a0a0a0"/>
<circle cx="26.71" cy="135.48" r="1.8" fill="#a0a0a0"/>
<circle cx="105.32" cy="140.25" r="2.69" fill="#8e8e8e"/>
<circle cx="157.97" cy="149.33" r="3.21" fill="#888888"/>
<circle cx="62.84" cy="93.38" r="3.4" fill="#7c7c7c"/>
<circle cx="203.78" cy="130.86" r="3.17" fill="#a0a0a0"/>
<circle cx="111.6" cy="118.58" r="2.75" fill="#858585"/>
<circle cx="76.06" cy="68.59" r="2.73" fill="#7c7c7c"/>
<circle cx="63.36" cy="92.18" r="2.2" fill="#989898"/>
<circle cx="147.14" cy="64.76" r="1.96" fill="#a0a0a0"/>
<circle cx="86.45" cy="73.99" r="2.1" fill="#8e8e8e"/>
<circle cx="161.53" cy="93.45" r="2.66" fill="#7c7c7c"/>
<circle cx="205.42" cy="144.62" r="2.36" fill="#8e8e8e"/>
<circle cx="2.96" cy="81.71" r="3.11" fill="#858585"/>
<circle cx="6.57" cy="95.3" r="2.37" fill="#8e8e8e"/>
<circle cx="138.66" cy="77.59" r="2.02" fill="#8e8e8e"/>
<circle cx="119.79" cy="103.59" r="2.57" fill="#7c7c7c"/>
<circle cx="209.39" cy="64.08" r="3.59" fill="#858585"/>
<circle cx="52.86" cy="91.03" r="3.5" fill="#888888"/>
<circle cx="24.17" cy="104.59" r="3.23" fill="#858585"/>
<circle cx="61.61" cy="94.43" r="2.02" fill="#989898"/>
<circle cx="112.11" cy="75.04" r="3.04" fill="#858585"/>
<circle cx="225.93" cy="138.83" r="1.66" fill="#a0a0a0"/>
<circle cx="177.94" cy="83.45" r="1.7" fill="#727272"/>
<circle cx="123.5" cy="78.88" r="2.57" fill="#a0a0a0"/>
<circle cx="15.45" cy="73.87" r="3.38" fill="#858585"/>
<circle cx="72.47" cy="107.45" r="3.09" fill="#727272"/>
<circle cx="11.54" cy="77.78" r="2.05" fill="#8e8e8e"/>
<circle cx="197.11" cy="82.72" r="2.89" fill="#8e8e8e"/>
<circle cx="56.5" cy="128.3" r="2.17" fill="#a0a0a0"/>
<circle cx="139.21" cy="100.29" r="3.29" fill="#a0a0a0"/>
<circle cx="33.75" cy="114.62" r="2.95" fill="#a0a0a0"/>
<circle cx="171.88" cy="144.22" r="1.95" fill="#7c7c7c"/>
<circle cx="113.7" cy="148.14" r="2.92" fill="#a0a0a0"/>
<circle cx="119.48" cy="110.69" r="2.93" fill="#8e8e8e"/>
<circle cx="109.46" cy="104.3" r="3.53" fill="#858585"/>
<circle cx="112.21" cy="102.25" r="2.61" fill="#888888"/>
<circle cx="173.85" cy="97.95" r="2.38" fill="#888888"/>
<circle cx="224.47" cy="140.8" r="1.93" fill="#8e8e8e"/>
<circle cx="138.24" cy="84.85" r="2.85" fill="#989898"/>
<circle cx="9.62" cy="105.34" r="3.53" fill="#858585"/>
<circle cx="175.29" cy="101.01" r="1.87" fill="#7c7c7c"/>
<circle cx="47.95" cy="117.59" r="1.6" fill="#727272"/>
<circle cx="5.09" cy="76.35" r="3.31" fill="#727272"/>
<circle cx="106.67" cy="86.45" r="1.92" fill="#727272"/>
<circle cx="43.29" cy="95.78" r="2.84" fill="#858585"/>
<circle cx="182.2" cy="96.05" r="1.74" fill="#a0a0a0"/>
<circle cx="166.57" cy="89.01" r="2.2" fill="#8e8e8e"/>
<circle cx="107.02" cy="94.6" r="2.04" fill="#a0a0a0"/>
<circle cx="195.72" cy="116.72" r="3.53" fill="#7c7c7c"/>
<circle cx="85.07" cy="67" r="2.87" fill="#a0a0a0"/>
<circle cx="204.41" cy="149.67" r="2.11" fill="#a0a0a0"/>
<circle cx="215.66" cy="150.54" r="2.39" fill="#858585"/>
<circle cx="81.37" cy="128.89" r="2.82" fill="#989898"/>
<circle cx="136.79" cy="77.77" r="3.47" fill="#7c7c7c"/>
<circle cx="43.95" cy="97.74" r="1.74" fill="#727272"/>
<circle cx="199.46" cy="100.81" r="2.48" fill="#858585"/>
<circle cx="11.01" cy="139.59" r="3.39" fill="#8e8e8e"/>
<circle cx="97.87" cy="79.7" r="2.38" fill="#858585"/>
<circle cx="72.39" cy="143.58" r="2.92" fill="#888888"/>
<circle cx="219.54" cy="129.61" r="2.76" fill="#989898"/>
<circle cx="155.42" cy="99.99" r="1.67" fill="#989898"/>
<circle cx="56.75" cy="106.67" r="1.77" fill="#888888"/>
<circle cx="175.32" cy="112.83" r="1.71" fill="#858585"/>
<ellipse cx="117" cy="77" rx="10" ry="9" fill="#9a9a9a"/>
<ellipse cx="45" cy="77" rx="8" ry="10" fill="#888"/>
<ellipse cx="45" cy="108" rx="12" ry="7" fill="#8c8c8c"/>
<ellipse cx="38" cy="135" rx="18" ry="8" fill="#7a7a7a"/>
<ellipse cx="192" cy="83" rx="12" ry="9" fill="#8a8a8a"/>
<ellipse cx="160" cy="125" rx="8" ry="6" fill="#8a8a8a"/>
<ellipse cx="93" cy="132" rx="8" ry="6" fill="#848484"/>
<ellipse cx="60" cy="94" rx="6" ry="4" fill="#333"/>
<ellipse cx="20" cy="104" rx="5" ry="4" fill="#333"/>
<ellipse cx="12" cy="124" rx="5" ry="3" fill="#333"/>
<ellipse cx="160" cy="140" rx="10" ry="5" fill="#333"/>
<ellipse cx="130" cy="100" rx="5" ry="3" fill="#333"/>
<ellipse cx="210" cy="120" rx="5" ry="4" fill="#333"/>
<ellipse cx="100" cy="90" rx="5" ry="3" fill="#333"/>
<ellipse cx="80" cy="115" rx="5" ry="3" fill="#333"/>
<ellipse cx="55" cy="145" rx="8" ry="3" fill="#333"/>
<ellipse cx="185" cy="100" rx="4" ry="3" fill="#333"/>
</g>
<path d="M2 63 L224 63" stroke="#3a3a3a" stroke-width="3"/>
</g></svg>
<text transform="translate(7.8 29.2) scale(1.0 1)" font-size="28.5" font-weight="bold" fill="#fff" text-anchor="start" font-family='"Liberation Sans", sans-serif' >a</text>
<text x="160.9" y="131.4" font-size="15.2" font-weight="bold" fill="#fff" text-anchor="start" font-family='"Liberation Sans", sans-serif' textLength="52.2" lengthAdjust="spacingAndGlyphs">500 nm</text>
<rect x="165" y="136.7" width="42.7" height="1.9" fill="#fff"/>
<svg x="229" y="1" width="222.7" height="147" viewBox="229 1 222.7 147" overflow="hidden"><g filter="url(#semN2)">
<rect x="229" y="1" width="223" height="147" fill="#4a4a4a"/>
<path d="M368.27 111.46 Q355.75 132.89 333.65 137.42" stroke="#747474" stroke-width="8.52" fill="none" stroke-linecap="round" filter="url(#blur1)"/>
<path d="M403.47 34.1 Q410.63 43.07 422.92 37.3" stroke="#848484" stroke-width="7.63" fill="none" stroke-linecap="round" filter="url(#blur1)"/>
<path d="M357.01 -2.94 Q374.42 9.73 375.18 11.78" stroke="#7c7c7c" stroke-width="8.29" fill="none" stroke-linecap="round" filter="url(#blur1)"/>
<path d="M241.54 92.01 Q252.63 91.46 244.81 110.7" stroke="#7c7c7c" stroke-width="8.88" fill="none" stroke-linecap="round" filter="url(#blur1)"/>
<path d="M263.15 21.14 Q276.46 32.39 274.73 38.61" stroke="#7c7c7c" stroke-width="8.82" fill="none" stroke-linecap="round" filter="url(#blur1)"/>
<path d="M383.85 146.75 Q369.75 144 361.21 154.6" stroke="#7c7c7c" stroke-width="6.79" fill="none" stroke-linecap="round" filter="url(#blur1)"/>
<path d="M301.33 123.33 Q301.09 130.49 292.54 155.01" stroke="#6c6c6c" stroke-width="8.46" fill="none" stroke-linecap="round" filter="url(#blur1)"/>
<path d="M335.57 44.58 Q327.78 72.12 337.7 80.66" stroke="#747474" stroke-width="8.85" fill="none" stroke-linecap="round" filter="url(#blur1)"/>
<path d="M307.26 58.47 Q302.67 78.92 303.03 85.71" stroke="#848484" stroke-width="6.14" fill="none" stroke-linecap="round" filter="url(#blur1)"/>
<path d="M266.61 144.96 Q290.56 164.71 297.33 166.77" stroke="#6c6c6c" stroke-width="7.54" fill="none" stroke-linecap="round" filter="url(#blur1)"/>
<path d="M430.32 34.39 Q437.85 47.97 434.13 66.86" stroke="#6c6c6c" stroke-width="6.11" fill="none" stroke-linecap="round" filter="url(#blur1)"/>
<path d="M442.53 9.32 Q458.89 20.73 458.52 38.56" stroke="#8a8a8a" stroke-width="7.64" fill="none" stroke-linecap="round" filter="url(#blur1)"/>
<path d="M296.86 44.74 Q297.2 53.11 311.58 53.92" stroke="#848484" stroke-width="6.48" fill="none" stroke-linecap="round" filter="url(#blur1)"/>
<path d="M236.17 149.91 Q229.48 165.3 233.31 176.94" stroke="#6c6c6c" stroke-width="7.37" fill="none" stroke-linecap="round" filter="url(#blur1)"/>
<path d="M322 3.75 Q314.16 12.6 306.57 7.91" stroke="#7c7c7c" stroke-width="8.94" fill="none" stroke-linecap="round" filter="url(#blur1)"/>
<path d="M354.73 15.85 Q335.12 17.68 328.75 24.6" stroke="#747474" stroke-width="8.53" fill="none" stroke-linecap="round" filter="url(#blur1)"/>
<path d="M292.81 66.15 Q282.04 65.26 252.24 66.23" stroke="#848484" stroke-width="8.07" fill="none" stroke-linecap="round" filter="url(#blur1)"/>
<path d="M298.07 38.02 Q292.3 65.4 302.02 79.89" stroke="#646464" stroke-width="8.88" fill="none" stroke-linecap="round" filter="url(#blur1)"/>
<path d="M369.2 73.39 Q368.94 86.76 377.79 88.84" stroke="#646464" stroke-width="7.08" fill="none" stroke-linecap="round" filter="url(#blur1)"/>
<path d="M405.79 116.66 Q400.96 128.23 385.74 145.25" stroke="#8a8a8a" stroke-width="8" fill="none" stroke-linecap="round" filter="url(#blur1)"/>
<path d="M417.1 36.58 Q408.03 34.47 380.69 38.76" stroke="#7c7c7c" stroke-width="7.74" fill="none" stroke-linecap="round" filter="url(#blur1)"/>
<path d="M227.66 80.88 Q239.32 99.67 252.46 105.79" stroke="#8a8a8a" stroke-width="8.02" fill="none" stroke-linecap="round" filter="url(#blur1)"/>
<path d="M307.01 38 Q315.24 65.52 327.12 76.15" stroke="#7c7c7c" stroke-width="8.61" fill="none" stroke-linecap="round" filter="url(#blur1)"/>
<path d="M383.32 148.25 Q368.77 143.65 353.06 152.41" stroke="#6c6c6c" stroke-width="8.81" fill="none" stroke-linecap="round" filter="url(#blur1)"/>
<path d="M334.76 103.55 Q316.45 123.39 311.27 132.02" stroke="#646464" stroke-width="7.55" fill="none" stroke-linecap="round" filter="url(#blur1)"/>
<path d="M440.38 42.52 Q432.38 72.66 433.56 82.96" stroke="#7c7c7c" stroke-width="6.48" fill="none" stroke-linecap="round" filter="url(#blur1)"/>
<path d="M326.45 97.07 Q342.8 99.2 353.93 119.66" stroke="#848484" stroke-width="8.94" fill="none" stroke-linecap="round" filter="url(#blur1)"/>
<path d="M263.12 135.01 Q283.47 143.49 304.52 150.04" stroke="#848484" stroke-width="7.4" fill="none" stroke-linecap="round" filter="url(#blur1)"/>
<path d="M312.47 91.05 Q317.44 91.69 306.28 112.3" stroke="#848484" stroke-width="8.86" fill="none" stroke-linecap="round" filter="url(#blur1)"/>
<path d="M421.85 131.02 Q422.35 145.05 404.28 157.07" stroke="#6c6c6c" stroke-width="6.28" fill="none" stroke-linecap="round" filter="url(#blur1)"/>
<path d="M350.4 48.28 Q351.27 67.84 339.4 90.63" stroke="#646464" stroke-width="7.93" fill="none" stroke-linecap="round" filter="url(#blur1)"/>
<path d="M309.97 17.31 Q314.38 41.91 300.5 47.79" stroke="#646464" stroke-width="6.27" fill="none" stroke-linecap="round" filter="url(#blur1)"/>
<path d="M413.88 98.88 Q426.71 111.22 422.87 121.97" stroke="#6c6c6c" stroke-width="7.89" fill="none" stroke-linecap="round" filter="url(#blur1)"/>
<path d="M429.99 54.01 Q428.15 74.1 434.64 75.3" stroke="#848484" stroke-width="7.15" fill="none" stroke-linecap="round" filter="url(#blur1)"/>
<path d="M421.64 19.97 Q412.24 32.8 410.81 55.59" stroke="#747474" stroke-width="6.96" fill="none" stroke-linecap="round" filter="url(#blur1)"/>
<path d="M451.38 72.21 Q452.93 86.12 469.61 95.16" stroke="#848484" stroke-width="6.74" fill="none" stroke-linecap="round" filter="url(#blur1)"/>
<path d="M234.19 16.42 Q240.28 25.16 243.95 44.17" stroke="#848484" stroke-width="8.35" fill="none" stroke-linecap="round" filter="url(#blur1)"/>
<path d="M281.5 37.03 Q297.11 49.62 320.99 57.9" stroke="#848484" stroke-width="7.55" fill="none" stroke-linecap="round" filter="url(#blur1)"/>
<path d="M423.6 133.26 Q408.8 131.42 408.95 138.28" stroke="#8a8a8a" stroke-width="7.01" fill="none" stroke-linecap="round" filter="url(#blur1)"/>
<path d="M293.27 78.19 Q299.61 92.84 296.16 103.86" stroke="#747474" stroke-width="6.01" fill="none" stroke-linecap="round" filter="url(#blur1)"/>
<path d="M352.24 102.66 Q362.87 107.16 385.85 114.47" stroke="#848484" stroke-width="7.78" fill="none" stroke-linecap="round" filter="url(#blur1)"/>
<path d="M383.47 144.66 Q381.11 162.37 365.1 181.05" stroke="#8a8a8a" stroke-width="8.56" fill="none" stroke-linecap="round" filter="url(#blur1)"/>
<path d="M270.19 41.54 Q269.6 49.76 255.57 50.19" stroke="#848484" stroke-width="7.75" fill="none" stroke-linecap="round" filter="url(#blur1)"/>
<path d="M374.13 69.17 Q383.62 85.22 385.3 85.72" stroke="#6c6c6c" stroke-width="7.61" fill="none" stroke-linecap="round" filter="url(#blur1)"/>
<path d="M322.88 80 Q336.5 74.51 359.43 85.62" stroke="#747474" stroke-width="7.99" fill="none" stroke-linecap="round" filter="url(#blur1)"/>
<path d="M230.88 108.45 Q212.48 100.93 186.03 111.46" stroke="#747474" stroke-width="6.66" fill="none" stroke-linecap="round" filter="url(#blur1)"/>
<path d="M373.52 144.5 Q363.48 160.34 361.74 159.46" stroke="#7c7c7c" stroke-width="6.55" fill="none" stroke-linecap="round" filter="url(#blur1)"/>
<path d="M267.62 120.92 Q279.19 126.37 288.53 125.41" stroke="#8a8a8a" stroke-width="6.22" fill="none" stroke-linecap="round" filter="url(#blur1)"/>
<path d="M238.24 85.32 Q216.66 98.92 209.71 115.25" stroke="#6c6c6c" stroke-width="8.06" fill="none" stroke-linecap="round" filter="url(#blur1)"/>
<path d="M337.57 50.48 Q320.34 65.1 317.58 87.92" stroke="#646464" stroke-width="7.89" fill="none" stroke-linecap="round" filter="url(#blur1)"/>
<path d="M341.34 137.94 Q333.72 155.53 335.57 171.06" stroke="#6c6c6c" stroke-width="8.5" fill="none" stroke-linecap="round" filter="url(#blur1)"/>
<path d="M290.19 148.09 Q272.41 157.47 256.5 171.29" stroke="#7c7c7c" stroke-width="8.14" fill="none" stroke-linecap="round" filter="url(#blur1)"/>
<path d="M375.65 8.38 Q363.68 17.92 366.72 23.71" stroke="#7c7c7c" stroke-width="7.17" fill="none" stroke-linecap="round" filter="url(#blur1)"/>
<path d="M331.41 146.24 Q346.83 149.06 360.58 156.49" stroke="#7c7c7c" stroke-width="8.83" fill="none" stroke-linecap="round" filter="url(#blur1)"/>
<path d="M323.75 119.72 Q325.79 125.75 311.38 132.12" stroke="#7c7c7c" stroke-width="6.42" fill="none" stroke-linecap="round" filter="url(#blur1)"/>
<path d="M368.7 50.62 Q380.22 56.01 387.19 67.45" stroke="#848484" stroke-width="7.13" fill="none" stroke-linecap="round" filter="url(#blur1)"/>
<path d="M391.23 51.26 Q410.6 62.1 411.53 78.45" stroke="#747474" stroke-width="7.78" fill="none" stroke-linecap="round" filter="url(#blur1)"/>
<path d="M356.85 111.21 Q350.4 113.73 362.62 128.16" stroke="#747474" stroke-width="7.47" fill="none" stroke-linecap="round" filter="url(#blur1)"/>
<path d="M440.54 98.82 Q442.92 119.87 453.28 123.54" stroke="#848484" stroke-width="6.97" fill="none" stroke-linecap="round" filter="url(#blur1)"/>
<path d="M331.24 25.08 Q334.65 40.05 323.3 40.27" stroke="#848484" stroke-width="6.46" fill="none" stroke-linecap="round" filter="url(#blur1)"/>
<path d="M283.44 38.56 Q288.46 43.93 304.07 50.03" stroke="#747474" stroke-width="7.03" fill="none" stroke-linecap="round" filter="url(#blur1)"/>
<path d="M397.96 44.62 Q404.79 53.04 413.34 47.5" stroke="#7c7c7c" stroke-width="6.35" fill="none" stroke-linecap="round" filter="url(#blur1)"/>
<path d="M378.77 40.7 Q362.43 50.46 359.55 72.18" stroke="#747474" stroke-width="7.72" fill="none" stroke-linecap="round" filter="url(#blur1)"/>
<path d="M375.99 91.96 Q362.19 90.61 341.17 101.88" stroke="#6c6c6c" stroke-width="6.85" fill="none" stroke-linecap="round" filter="url(#blur1)"/>
<path d="M393.44 107.71 Q406.56 121.98 412.79 118.62" stroke="#8a8a8a" stroke-width="7.83" fill="none" stroke-linecap="round" filter="url(#blur1)"/>
<path d="M392.08 37.5 Q397.41 45.09 395.49 65.89" stroke="#747474" stroke-width="7.65" fill="none" stroke-linecap="round" filter="url(#blur1)"/>
<path d="M452.61 76.47 Q448.08 92.39 460.7 92.35" stroke="#848484" stroke-width="6.28" fill="none" stroke-linecap="round" filter="url(#blur1)"/>
<path d="M333.39 102.2 Q332.47 106.61 320.29 129.1" stroke="#848484" stroke-width="7.34" fill="none" stroke-linecap="round" filter="url(#blur1)"/>
<path d="M372.31 132.39 Q365.94 136.82 351.73 135.64" stroke="#7c7c7c" stroke-width="7.59" fill="none" stroke-linecap="round" filter="url(#blur1)"/>
<path d="M244.4 44.28 Q267.57 51.45 273.88 54.68" stroke="#8a8a8a" stroke-width="6.64" fill="none" stroke-linecap="round" filter="url(#blur1)"/>
<path d="M229 79.72 Q227.22 98.28 230.36 111.84" stroke="#8a8a8a" stroke-width="6.04" fill="none" stroke-linecap="round" filter="url(#blur1)"/>
<path d="M398.92 103.11 Q378.81 103.4 356.52 118.15" stroke="#848484" stroke-width="6.26" fill="none" stroke-linecap="round" filter="url(#blur1)"/>
<path d="M402.65 123.65 Q399.53 126.41 413.13 139.37" stroke="#747474" stroke-width="8.4" fill="none" stroke-linecap="round" filter="url(#blur1)"/>
<path d="M447.59 99.61 Q452.2 115.03 466.87 122.3" stroke="#6c6c6c" stroke-width="8.65" fill="none" stroke-linecap="round" filter="url(#blur1)"/>
<path d="M428.67 6.28 Q424.17 5.03 408.9 23.77" stroke="#6c6c6c" stroke-width="7.96" fill="none" stroke-linecap="round" filter="url(#blur1)"/>
<path d="M229 5 L252 5" stroke="#2e2e2e" stroke-width="11.4" fill="none" stroke-linecap="round" filter="url(#blur1)" opacity="0.75"/>
<path d="M229 5 L252 5" stroke="#7c7c7c" stroke-width="9" fill="none" stroke-linecap="round" filter="url(#blur1)"/>
<path d="M249 77 L277 77" stroke="#2e2e2e" stroke-width="11.4" fill="none" stroke-linecap="round" filter="url(#blur1)" opacity="0.75"/>
<path d="M249 77 L277 77" stroke="#7a7a7a" stroke-width="9" fill="none" stroke-linecap="round" filter="url(#blur1)"/>
<path d="M237.8 90 L241 123" stroke="#2e2e2e" stroke-width="12.4" fill="none" stroke-linecap="round" filter="url(#blur1)" opacity="0.75"/>
<path d="M237.8 90 L241 123" stroke="#8a8a8a" stroke-width="10" fill="none" stroke-linecap="round" filter="url(#blur1)"/>
<path d="M244 118 L282 113" stroke="#2e2e2e" stroke-width="11.4" fill="none" stroke-linecap="round" filter="url(#blur1)" opacity="0.75"/>
<path d="M244 118 L282 113" stroke="#808080" stroke-width="9" fill="none" stroke-linecap="round" filter="url(#blur1)"/>
<path d="M300 107 L300 120" stroke="#2e2e2e" stroke-width="11.4" fill="none" stroke-linecap="round" filter="url(#blur1)" opacity="0.75"/>
<path d="M300 107 L300 120" stroke="#8a8a8a" stroke-width="9" fill="none" stroke-linecap="round" filter="url(#blur1)"/>
<path d="M313 123 L316 149" stroke="#2e2e2e" stroke-width="12.4" fill="none" stroke-linecap="round" filter="url(#blur1)" opacity="0.75"/>
<path d="M313 123 L316 149" stroke="#909090" stroke-width="10" fill="none" stroke-linecap="round" filter="url(#blur1)"/>
<path d="M385.8 29.4 L405.4 19.6" stroke="#2e2e2e" stroke-width="11.4" fill="none" stroke-linecap="round" filter="url(#blur1)" opacity="0.75"/>
<path d="M385.8 29.4 L405.4 19.6" stroke="#747474" stroke-width="9" fill="none" stroke-linecap="round" filter="url(#blur1)"/>
<path d="M405.4 9.8 L407.02 9.98 L409.3 10.17 L411.97 10.43 L414.81 10.79 L417.57 11.3 L420 12 L422.24 13.04 L424.52 14.41 L426.71 15.94 L428.7 17.43 L430.37 18.71 L431.6 19.6" stroke="#2e2e2e" stroke-width="11.4" fill="none" stroke-linecap="round" filter="url(#blur1)" opacity="0.75"/>
<path d="M405.4 9.8 L407.02 9.98 L409.3 10.17 L411.97 10.43 L414.81 10.79 L417.57 11.3 L420 12 L422.24 13.04 L424.52 14.41 L426.71 15.94 L428.7 17.43 L430.37 18.71 L431.6 19.6" stroke="#7a7a7a" stroke-width="9" fill="none" stroke-linecap="round" filter="url(#blur1)"/>
<path d="M431 33 L452 42" stroke="#2e2e2e" stroke-width="11.4" fill="none" stroke-linecap="round" filter="url(#blur1)" opacity="0.75"/>
<path d="M431 33 L452 42" stroke="#7a7a7a" stroke-width="9" fill="none" stroke-linecap="round" filter="url(#blur1)"/>
<path d="M444.6 9.8 L447.9 32.7" stroke="#2e2e2e" stroke-width="11.4" fill="none" stroke-linecap="round" filter="url(#blur1)" opacity="0.75"/>
<path d="M444.6 9.8 L447.9 32.7" stroke="#7e7e7e" stroke-width="9" fill="none" stroke-linecap="round" filter="url(#blur1)"/>
<path d="M313 45.8 L340 32.7" stroke="#2e2e2e" stroke-width="11.4" fill="none" stroke-linecap="round" filter="url(#blur1)" opacity="0.75"/>
<path d="M313 45.8 L340 32.7" stroke="#7c7c7c" stroke-width="9" fill="none" stroke-linecap="round" filter="url(#blur1)"/>
<path d="M340 87 L353 90.4" stroke="#2e2e2e" stroke-width="11.4" fill="none" stroke-linecap="round" filter="url(#blur1)" opacity="0.75"/>
<path d="M340 87 L353 90.4" stroke="#858585" stroke-width="9" fill="none" stroke-linecap="round" filter="url(#blur1)"/>
<path d="M348 102 L364 105" stroke="#2e2e2e" stroke-width="11.4" fill="none" stroke-linecap="round" filter="url(#blur1)" opacity="0.75"/>
<path d="M348 102 L364 105" stroke="#808080" stroke-width="9" fill="none" stroke-linecap="round" filter="url(#blur1)"/>
<path d="M385.8 74 L386.96 75.94 L388.51 78.74 L390.37 82 L392.49 85.3 L394.79 88.24 L397.2 90.4 L400.03 91.73 L403.38 92.56 L406.91 93.03 L410.29 93.26 L413.17 93.4 L415.2 93.6" stroke="#2e2e2e" stroke-width="11.4" fill="none" stroke-linecap="round" filter="url(#blur1)" opacity="0.75"/>
<path d="M385.8 74 L386.96 75.94 L388.51 78.74 L390.37 82 L392.49 85.3 L394.79 88.24 L397.2 90.4 L400.03 91.73 L403.38 92.56 L406.91 93.03 L410.29 93.26 L413.17 93.4 L415.2 93.6" stroke="#8a8a8a" stroke-width="9" fill="none" stroke-linecap="round" filter="url(#blur1)"/>
<path d="M425 87 L438 90.4" stroke="#2e2e2e" stroke-width="11.4" fill="none" stroke-linecap="round" filter="url(#blur1)" opacity="0.75"/>
<path d="M425 87 L438 90.4" stroke="#888" stroke-width="9" fill="none" stroke-linecap="round" filter="url(#blur1)"/>
<path d="M441.4 77.3 L448 103.4" stroke="#2e2e2e" stroke-width="12.4" fill="none" stroke-linecap="round" filter="url(#blur1)" opacity="0.75"/>
<path d="M441.4 77.3 L448 103.4" stroke="#8e8e8e" stroke-width="10" fill="none" stroke-linecap="round" filter="url(#blur1)"/>
<path d="M395 128 L398.3 128.78 L402.89 129.89 L408.31 131.19 L414.11 132.56 L419.83 133.87 L425 135 L429.99 136.01 L435.22 137 L440.38 137.94 L445.11 138.78 L449.1 139.48 L452 140" stroke="#2e2e2e" stroke-width="11.4" fill="none" stroke-linecap="round" filter="url(#blur1)" opacity="0.75"/>
<path d="M395 128 L398.3 128.78 L402.89 129.89 L408.31 131.19 L414.11 132.56 L419.83 133.87 L425 135 L429.99 136.01 L435.22 137 L440.38 137.94 L445.11 138.78 L449.1 139.48 L452 140" stroke="#747474" stroke-width="9" fill="none" stroke-linecap="round" filter="url(#blur1)"/>
<path d="M400 20 L402.18 20.91 L405.19 22.04 L408.75 23.44 L412.59 25.19 L416.44 27.35 L420 30 L423.56 33.59 L427.41 38.15 L431.25 43.12 L434.81 47.96 L437.82 52.11 L440 55" stroke="#2e2e2e" stroke-width="10.4" fill="none" stroke-linecap="round" filter="url(#blur1)" opacity="0.75"/>
<path d="M400 20 L402.18 20.91 L405.19 22.04 L408.75 23.44 L412.59 25.19 L416.44 27.35 L420 30 L423.56 33.59 L427.41 38.15 L431.25 43.12 L434.81 47.96 L437.82 52.11 L440 55" stroke="#6e6e6e" stroke-width="8" fill="none" stroke-linecap="round" filter="url(#blur1)"/>
<path d="M232 60 L234 75" stroke="#2e2e2e" stroke-width="10.4" fill="none" stroke-linecap="round" filter="url(#blur1)" opacity="0.75"/>
<path d="M232 60 L234 75" stroke="#6e6e6e" stroke-width="8" fill="none" stroke-linecap="round" filter="url(#blur1)"/>
<path d="M255 140 L290 142" stroke="#2e2e2e" stroke-width="10.4" fill="none" stroke-linecap="round" filter="url(#blur1)" opacity="0.75"/>
<path d="M255 140 L290 142" stroke="#6a6a6a" stroke-width="8" fill="none" stroke-linecap="round" filter="url(#blur1)"/>
<path d="M420 120 L430 140" stroke="#2e2e2e" stroke-width="11.4" fill="none" stroke-linecap="round" filter="url(#blur1)" opacity="0.75"/>
<path d="M420 120 L430 140" stroke="#7a7a7a" stroke-width="9" fill="none" stroke-linecap="round" filter="url(#blur1)"/>
<path d="M440 110 L450 125" stroke="#2e2e2e" stroke-width="11.4" fill="none" stroke-linecap="round" filter="url(#blur1)" opacity="0.75"/>
<path d="M440 110 L450 125" stroke="#7a7a7a" stroke-width="9" fill="none" stroke-linecap="round" filter="url(#blur1)"/>
<path d="M282 -2 L281.77 0.96 L281.46 5.07 L281.08 9.94 L280.69 15.15 L280.32 20.3 L280 25 L279.73 29.57 L279.47 34.41 L279.23 39.19 L279.01 43.59 L278.83 47.3 L278.7 50" stroke="#2e2e2e" stroke-width="15.4" fill="none" stroke-linecap="round" filter="url(#blur1)" opacity="0.75"/>
<path d="M282 -2 L281.77 0.96 L281.46 5.07 L281.08 9.94 L280.69 15.15 L280.32 20.3 L280 25 L279.73 29.57 L279.47 34.41 L279.23 39.19 L279.01 43.59 L278.83 47.3 L278.7 50" stroke="#b2b2b2" stroke-width="13" fill="none" stroke-linecap="round" filter="url(#blur1)"/>
<path d="M300 -2 L299.91 2.65 L299.79 9.15 L299.64 16.81 L299.47 24.96 L299.25 32.92 L299 40 L298.57 46.49 L297.94 53 L297.27 59.31 L296.73 65.22 L296.48 70.52 L296.7 75 L297.42 78.45 L298.51 81 L299.89 82.94 L301.49 84.56 L303.22 86.15 L305 88 L306.91 90.08 L309.02 92.15 L311.27 94.19 L313.57 96.19 L315.84 98.13 L318 100 L320.06 101.81 L322.07 103.56 L324.06 105.25 L326.04 106.89 L328.01 108.47 L330 110 L332.14 111.54 L334.44 113.11 L336.75 114.62 L338.89 116 L340.69 117.15 L342 118" stroke="#2e2e2e" stroke-width="16.4" fill="none" stroke-linecap="round" filter="url(#blur1)" opacity="0.75"/>
<path d="M300 -2 L299.91 2.65 L299.79 9.15 L299.64 16.81 L299.47 24.96 L299.25 32.92 L299 40 L298.57 46.49 L297.94 53 L297.27 59.31 L296.73 65.22 L296.48 70.52 L296.7 75 L297.42 78.45 L298.51 81 L299.89 82.94 L301.49 84.56 L303.22 86.15 L305 88 L306.91 90.08 L309.02 92.15 L311.27 94.19 L313.57 96.19 L315.84 98.13 L318 100 L320.06 101.81 L322.07 103.56 L324.06 105.25 L326.04 106.89 L328.01 108.47 L330 110 L332.14 111.54 L334.44 113.11 L336.75 114.62 L338.89 116 L340.69 117.15 L342 118" stroke="#b6b6b6" stroke-width="14" fill="none" stroke-linecap="round" filter="url(#blur1)"/>
<path d="M309.8 -2 L310.92 -0.94 L312.47 0.52 L314.31 2.25 L316.28 4.15 L318.23 6.1 L320 8 L321.72 10.02 L323.54 12.3 L325.34 14.62 L326.99 16.81 L328.39 18.67 L329.4 20" stroke="#2e2e2e" stroke-width="14.4" fill="none" stroke-linecap="round" filter="url(#blur1)" opacity="0.75"/>
<path d="M309.8 -2 L310.92 -0.94 L312.47 0.52 L314.31 2.25 L316.28 4.15 L318.23 6.1 L320 8 L321.72 10.02 L323.54 12.3 L325.34 14.62 L326.99 16.81 L328.39 18.67 L329.4 20" stroke="#aaaaaa" stroke-width="12" fill="none" stroke-linecap="round" filter="url(#blur1)"/>
<path d="M304.8 10 L313 35" stroke="#2e2e2e" stroke-width="12.4" fill="none" stroke-linecap="round" filter="url(#blur1)" opacity="0.75"/>
<path d="M304.8 10 L313 35" stroke="#a8a8a8" stroke-width="10" fill="none" stroke-linecap="round" filter="url(#blur1)"/>
<path d="M272 4 L275.08 4.19 L279.37 4.44 L284.44 4.75 L289.85 5.11 L295.18 5.53 L300 6 L304.38 6.66 L308.69 7.52 L312.91 8.44 L317.04 9.26 L321.07 9.83 L325 10 L328.79 9.57 L332.43 8.63 L335.98 7.44 L339.48 6.26 L342.97 5.36 L346.5 5 L350.31 5.31 L354.4 6.11 L358.49 7.19 L362.29 8.33 L365.48 9.34 L367.8 10" stroke="#2e2e2e" stroke-width="13.4" fill="none" stroke-linecap="round" filter="url(#blur1)" opacity="0.75"/>
<path d="M272 4 L275.08 4.19 L279.37 4.44 L284.44 4.75 L289.85 5.11 L295.18 5.53 L300 6 L304.38 6.66 L308.69 7.52 L312.91 8.44 L317.04 9.26 L321.07 9.83 L325 10 L328.79 9.57 L332.43 8.63 L335.98 7.44 L339.48 6.26 L342.97 5.36 L346.5 5 L350.31 5.31 L354.4 6.11 L358.49 7.19 L362.29 8.33 L365.48 9.34 L367.8 10" stroke="#a4a4a4" stroke-width="11" fill="none" stroke-linecap="round" filter="url(#blur1)"/>
<path d="M239.4 50.7 L240.55 49.54 L242.14 47.95 L244.03 46.06 L246.07 44.01 L248.1 41.95 L250 40 L251.9 38.01 L253.96 35.83 L256.01 33.63 L257.92 31.58 L259.53 29.85 L260.7 28.6" stroke="#2e2e2e" stroke-width="15.4" fill="none" stroke-linecap="round" filter="url(#blur1)" opacity="0.75"/>
<path d="M239.4 50.7 L240.55 49.54 L242.14 47.95 L244.03 46.06 L246.07 44.01 L248.1 41.95 L250 40 L251.9 38.01 L253.96 35.83 L256.01 33.63 L257.92 31.58 L259.53 29.85 L260.7 28.6" stroke="#acacac" stroke-width="13" fill="none" stroke-linecap="round" filter="url(#blur1)"/>
<path d="M361.3 16.4 L361.83 17.65 L362.57 19.36 L363.44 21.39 L364.36 23.61 L365.24 25.86 L366 28 L366.66 30.03 L367.28 32.05 L367.86 34.11 L368.41 36.24 L368.92 38.49 L369.4 40.9 L369.84 43.51 L370.23 46.29 L370.59 49.19 L370.91 52.15 L371.22 55.11 L371.5 58 L371.77 61.04 L372.01 64.3 L372.23 67.57 L372.42 70.6 L372.58 73.15 L372.7 75" stroke="#2e2e2e" stroke-width="14.4" fill="none" stroke-linecap="round" filter="url(#blur1)" opacity="0.75"/>
<path d="M361.3 16.4 L361.83 17.65 L362.57 19.36 L363.44 21.39 L364.36 23.61 L365.24 25.86 L366 28 L366.66 30.03 L367.28 32.05 L367.86 34.11 L368.41 36.24 L368.92 38.49 L369.4 40.9 L369.84 43.51 L370.23 46.29 L370.59 49.19 L370.91 52.15 L371.22 55.11 L371.5 58 L371.77 61.04 L372.01 64.3 L372.23 67.57 L372.42 70.6 L372.58 73.15 L372.7 75" stroke="#b0b0b0" stroke-width="12" fill="none" stroke-linecap="round" filter="url(#blur1)"/>
<path d="M377.6 42.5 L379.46 41.87 L382.01 40.88 L385.04 39.76 L388.35 38.76 L391.74 38.09 L395 38 L398.36 38.58 L402.03 39.67 L405.77 41.11 L409.37 42.71 L412.59 44.33 L415.2 45.8 L417.16 47.24 L418.65 48.81 L419.76 50.39 L420.59 51.86 L421.24 53.1 L421.8 54" stroke="#2e2e2e" stroke-width="12.4" fill="none" stroke-linecap="round" filter="url(#blur1)" opacity="0.75"/>
<path d="M377.6 42.5 L379.46 41.87 L382.01 40.88 L385.04 39.76 L388.35 38.76 L391.74 38.09 L395 38 L398.36 38.58 L402.03 39.67 L405.77 41.11 L409.37 42.71 L412.59 44.33 L415.2 45.8 L417.16 47.24 L418.65 48.81 L419.76 50.39 L420.59 51.86 L421.24 53.1 L421.8 54" stroke="#9c9c9c" stroke-width="10" fill="none" stroke-linecap="round" filter="url(#blur1)"/>
<path d="M377.6 60.5 L381.01 60.87 L385.64 61.36 L391.18 61.96 L397.29 62.61 L403.67 63.31 L410 64 L416.93 64.77 L424.84 65.65 L433.02 66.57 L440.76 67.44 L447.32 68.17 L452 68.7" stroke="#2e2e2e" stroke-width="13.4" fill="none" stroke-linecap="round" filter="url(#blur1)" opacity="0.75"/>
<path d="M377.6 60.5 L381.01 60.87 L385.64 61.36 L391.18 61.96 L397.29 62.61 L403.67 63.31 L410 64 L416.93 64.77 L424.84 65.65 L433.02 66.57 L440.76 67.44 L447.32 68.17 L452 68.7" stroke="#a2a2a2" stroke-width="11" fill="none" stroke-linecap="round" filter="url(#blur1)"/>
<path d="M256.6 104.2 L259.17 104.13 L262.73 104.03 L266.95 103.91 L271.47 103.77 L275.93 103.64 L280 103.5 L283.95 103.35 L288.13 103.18 L292.26 103.01 L296.07 102.84 L299.27 102.7 L301.6 102.6" stroke="#2e2e2e" stroke-width="11.4" fill="none" stroke-linecap="round" filter="url(#blur1)" opacity="0.75"/>
<path d="M256.6 104.2 L259.17 104.13 L262.73 104.03 L266.95 103.91 L271.47 103.77 L275.93 103.64 L280 103.5 L283.95 103.35 L288.13 103.18 L292.26 103.01 L296.07 102.84 L299.27 102.7 L301.6 102.6" stroke="#b0b0b0" stroke-width="9" fill="none" stroke-linecap="round" filter="url(#blur1)"/>
<path d="M282 92 L301.6 95.3" stroke="#2e2e2e" stroke-width="10.4" fill="none" stroke-linecap="round" filter="url(#blur1)" opacity="0.75"/>
<path d="M282 92 L301.6 95.3" stroke="#a8a8a8" stroke-width="8" fill="none" stroke-linecap="round" filter="url(#blur1)"/>
<path d="M376 111.6 L374.3 136.1" stroke="#2e2e2e" stroke-width="15.4" fill="none" stroke-linecap="round" filter="url(#blur1)" opacity="0.75"/>
<path d="M376 111.6 L374.3 136.1" stroke="#b4b4b4" stroke-width="13" fill="none" stroke-linecap="round" filter="url(#blur1)"/>
<path d="M345 116.5 L346.5 134.5" stroke="#2e2e2e" stroke-width="12.4" fill="none" stroke-linecap="round" filter="url(#blur1)" opacity="0.75"/>
<path d="M345 116.5 L346.5 134.5" stroke="#a6a6a6" stroke-width="10" fill="none" stroke-linecap="round" filter="url(#blur1)"/>
<path d="M397.2 103.4 L398.06 104.21 L399.25 105.33 L400.66 106.65 L402.17 108.1 L403.66 109.58 L405 111 L406.29 112.5 L407.65 114.17 L408.99 115.88 L410.21 117.47 L411.25 118.83 L412 119.8" stroke="#2e2e2e" stroke-width="11.4" fill="none" stroke-linecap="round" filter="url(#blur1)" opacity="0.75"/>
<path d="M397.2 103.4 L398.06 104.21 L399.25 105.33 L400.66 106.65 L402.17 108.1 L403.66 109.58 L405 111 L406.29 112.5 L407.65 114.17 L408.99 115.88 L410.21 117.47 L411.25 118.83 L412 119.8" stroke="#a4a4a4" stroke-width="9" fill="none" stroke-linecap="round" filter="url(#blur1)"/>
<path d="M382.5 111.6 L408.7 113.2" stroke="#2e2e2e" stroke-width="11.4" fill="none" stroke-linecap="round" filter="url(#blur1)" opacity="0.75"/>
<path d="M382.5 111.6 L408.7 113.2" stroke="#9c9c9c" stroke-width="9" fill="none" stroke-linecap="round" filter="url(#blur1)"/>
<path d="M416.8 93.6 L418.5 113.2" stroke="#2e2e2e" stroke-width="12.4" fill="none" stroke-linecap="round" filter="url(#blur1)" opacity="0.75"/>
<path d="M416.8 93.6 L418.5 113.2" stroke="#a4a4a4" stroke-width="10" fill="none" stroke-linecap="round" filter="url(#blur1)"/>
<path d="M244.4 134.5 L246 140" stroke="#2e2e2e" stroke-width="16.4" fill="none" stroke-linecap="round" filter="url(#blur1)" opacity="0.75"/>
<path d="M244.4 134.5 L246 140" stroke="#8e8e8e" stroke-width="14" fill="none" stroke-linecap="round" filter="url(#blur1)"/>
<circle cx="358" cy="42.5" r="6" fill="#b8b8b8" filter="url(#blur1)"/>
<circle cx="351.4" cy="60.5" r="5" fill="#b0b0b0" filter="url(#blur1)"/>
<circle cx="349.8" cy="36" r="5" fill="#aaaaaa" filter="url(#blur1)"/>
<circle cx="239.4" cy="50.7" r="7" fill="#b0b0b0" filter="url(#blur1)"/>
<circle cx="397.2" cy="103.4" r="6" fill="#b0b0b0" filter="url(#blur1)"/>
<circle cx="290" cy="20" r="10" fill="#b0b0b0" filter="url(#blur1)"/>
<circle cx="288" cy="40" r="9" fill="#aaaaaa" filter="url(#blur1)"/>
<circle cx="305" cy="22" r="8" fill="#acacac" filter="url(#blur1)"/>
<ellipse cx="265.6" cy="16.4" rx="5" ry="4" fill="#2e2e2e" filter="url(#blur1)"/>
<ellipse cx="260.7" cy="54" rx="5" ry="4" fill="#2e2e2e" filter="url(#blur1)"/>
<ellipse cx="389" cy="49" rx="7" ry="4" fill="#2e2e2e" filter="url(#blur1)"/>
<ellipse cx="372.7" cy="24.5" rx="3" ry="5" fill="#2e2e2e" filter="url(#blur1)"/>
<ellipse cx="300" cy="130" rx="18" ry="4" fill="#2e2e2e" filter="url(#blur1)"/>
<ellipse cx="309.8" cy="113.2" rx="4" ry="4" fill="#2e2e2e" filter="url(#blur1)"/>
<ellipse cx="350" cy="84" rx="4" ry="3" fill="#2e2e2e" filter="url(#blur1)"/>
<ellipse cx="373" cy="90" rx="4" ry="3" fill="#2e2e2e" filter="url(#blur1)"/>
<ellipse cx="422" cy="102" rx="5" ry="4" fill="#2e2e2e" filter="url(#blur1)"/>
<ellipse cx="245" cy="68" rx="5" ry="3" fill="#2e2e2e" filter="url(#blur1)"/>
</g></svg>
<text transform="translate(237.6 28.4) scale(1.06 1)" font-size="28.5" font-weight="bold" fill="#fff" text-anchor="start" font-family='"Liberation Sans", sans-serif' >b</text>
<text x="388.9" y="131.3" font-size="15.2" font-weight="bold" fill="#fff" text-anchor="start" font-family='"Liberation Sans", sans-serif' textLength="52.3" lengthAdjust="spacingAndGlyphs">200 nm</text>
<rect x="392.2" y="136.6" width="43.8" height="1.9" fill="#fff"/>
<rect x="457.3" y="1" width="222.7" height="147" fill="url(#cbg)"/>
<rect x="457.3" y="0.6" width="222.7" height="1.1" fill="#555"/>
<rect x="477.2" y="131.35" width="5" height="1.3" fill="#e8eef8"/>
<rect x="479.2" y="125.04" width="3" height="1.2" fill="#dfe6f4" opacity="0.9"/>
<rect x="479.2" y="118.68" width="3" height="1.2" fill="#dfe6f4" opacity="0.9"/>
<rect x="479.2" y="112.32" width="3" height="1.2" fill="#dfe6f4" opacity="0.9"/>
<rect x="479.2" y="105.96" width="3" height="1.2" fill="#dfe6f4" opacity="0.9"/>
<rect x="479.2" y="99.6" width="3" height="1.2" fill="#dfe6f4" opacity="0.9"/>
<rect x="479.2" y="93.24" width="3" height="1.2" fill="#dfe6f4" opacity="0.9"/>
<rect x="479.2" y="86.88" width="3" height="1.2" fill="#dfe6f4" opacity="0.9"/>
<rect x="479.2" y="80.52" width="3" height="1.2" fill="#dfe6f4" opacity="0.9"/>
<rect x="479.2" y="74.16" width="3" height="1.2" fill="#dfe6f4" opacity="0.9"/>
<rect x="477.2" y="67.75" width="5" height="1.3" fill="#e8eef8"/>
<rect x="479.2" y="61.44" width="3" height="1.2" fill="#dfe6f4" opacity="0.9"/>
<rect x="479.2" y="55.08" width="3" height="1.2" fill="#dfe6f4" opacity="0.9"/>
<rect x="479.2" y="48.72" width="3" height="1.2" fill="#dfe6f4" opacity="0.9"/>
<rect x="479.2" y="42.36" width="3" height="1.2" fill="#dfe6f4" opacity="0.9"/>
<rect x="479.2" y="36" width="3" height="1.2" fill="#dfe6f4" opacity="0.9"/>
<rect x="479.2" y="29.64" width="3" height="1.2" fill="#dfe6f4" opacity="0.9"/>
<rect x="479.2" y="23.28" width="3" height="1.2" fill="#dfe6f4" opacity="0.9"/>
<rect x="479.2" y="16.92" width="3" height="1.2" fill="#dfe6f4" opacity="0.9"/>
<rect x="479.2" y="10.56" width="3" height="1.2" fill="#dfe6f4" opacity="0.9"/>
<rect x="477.2" y="4.15" width="5" height="1.3" fill="#e8eef8"/>
<text x="475.8" y="70.9" font-size="7.5" font-weight="normal" fill="#c8d4ec" text-anchor="end" font-family='"Liberation Sans", sans-serif' >50</text>
<text x="475.8" y="134.5" font-size="7.5" font-weight="normal" fill="#c8d4ec" text-anchor="end" font-family='"Liberation Sans", sans-serif' >0</text>
<text x="462.5" y="66" font-size="5.5" font-weight="normal" fill="#c0cce6" text-anchor="middle" font-family='"Liberation Sans", sans-serif' transform="rotate(-90 462.5 66)">cps/eV</text>
<rect x="486.2" y="133.3" width="1.4" height="5" fill="#e8eef8"/>
<text x="486.9" y="146.8" font-size="7.5" font-weight="normal" fill="#c8d4ec" text-anchor="middle" font-family='"Liberation Sans", sans-serif' >0</text>
<rect x="494.78" y="133.3" width="1.2" height="2.8" fill="#dfe6f4"/>
<rect x="503.16" y="133.3" width="1.4" height="5" fill="#e8eef8"/>
<rect x="511.74" y="133.3" width="1.2" height="2.8" fill="#dfe6f4"/>
<rect x="520.12" y="133.3" width="1.4" height="5" fill="#e8eef8"/>
<text x="520.82" y="146.8" font-size="7.5" font-weight="normal" fill="#c8d4ec" text-anchor="middle" font-family='"Liberation Sans", sans-serif' >2</text>
<rect x="528.7" y="133.3" width="1.2" height="2.8" fill="#dfe6f4"/>
<rect x="537.08" y="133.3" width="1.4" height="5" fill="#e8eef8"/>
<rect x="545.66" y="133.3" width="1.2" height="2.8" fill="#dfe6f4"/>
<rect x="554.04" y="133.3" width="1.4" height="5" fill="#e8eef8"/>
<text x="554.74" y="146.8" font-size="7.5" font-weight="normal" fill="#c8d4ec" text-anchor="middle" font-family='"Liberation Sans", sans-serif' >4</text>
<rect x="562.62" y="133.3" width="1.2" height="2.8" fill="#dfe6f4"/>
<rect x="571" y="133.3" width="1.4" height="5" fill="#e8eef8"/>
<rect x="579.58" y="133.3" width="1.2" height="2.8" fill="#dfe6f4"/>
<rect x="587.96" y="133.3" width="1.4" height="5" fill="#e8eef8"/>
<text x="588.66" y="146.8" font-size="7.5" font-weight="normal" fill="#c8d4ec" text-anchor="middle" font-family='"Liberation Sans", sans-serif' >6</text>
<rect x="596.54" y="133.3" width="1.2" height="2.8" fill="#dfe6f4"/>
<rect x="604.92" y="133.3" width="1.4" height="5" fill="#e8eef8"/>
<rect x="613.5" y="133.3" width="1.2" height="2.8" fill="#dfe6f4"/>
<rect x="621.88" y="133.3" width="1.4" height="5" fill="#e8eef8"/>
<text x="622.58" y="146.8" font-size="7.5" font-weight="normal" fill="#c8d4ec" text-anchor="middle" font-family='"Liberation Sans", sans-serif' >8</text>
<rect x="630.46" y="133.3" width="1.2" height="2.8" fill="#dfe6f4"/>
<rect x="638.84" y="133.3" width="1.4" height="5" fill="#e8eef8"/>
<rect x="647.42" y="133.3" width="1.2" height="2.8" fill="#dfe6f4"/>
<rect x="655.8" y="133.3" width="1.4" height="5" fill="#e8eef8"/>
<text x="656.5" y="146.8" font-size="7.5" font-weight="normal" fill="#c8d4ec" text-anchor="middle" font-family='"Liberation Sans", sans-serif' >10</text>
<rect x="664.38" y="133.3" width="1.2" height="2.8" fill="#dfe6f4"/>
<rect x="672.76" y="133.3" width="1.4" height="5" fill="#e8eef8"/>
<path d="M488.94 132.0 L488.94 129.29 L489.1 129.28 L489.27 129.24 L489.44 129.1 L489.61 128.72 L489.78 127.8 L489.95 125.8 L490.12 121.84 L490.29 114.67 L490.46 102.92 L490.63 85.49 L490.8 62.28 L490.97 34.84 L491.14 6.62 L491.31 2.5 L491.48 2.5 L491.65 2.5 L491.82 2.5 L491.99 2.5 L492.16 23.46 L492.33 51.74 L492.5 76.95 L492.67 96.77 L492.84 110.71 L493.01 119.56 L493.18 124.64 L493.34 127.29 L493.51 128.53 L493.68 129 L493.85 129.04 L494.02 128.76 L494.19 128.05 L494.36 126.69 L494.53 124.33 L494.7 120.59 L494.87 115.21 L495.04 108.22 L495.21 100.17 L495.38 92.11 L495.55 85.42 L495.72 81.43 L495.89 80.97 L496.06 84.06 L496.23 89.88 L496.4 97.13 L496.57 104.44 L496.74 110.77 L496.91 115.6 L497.08 118.85 L497.25 120.78 L497.42 121.68 L497.58 121.82 L497.75 121.33 L497.92 120.26 L498.09 118.65 L498.26 116.61 L498.43 114.43 L498.6 112.51 L498.77 111.31 L498.94 111.19 L499.11 112.27 L499.28 114.41 L499.45 117.21 L499.62 120.22 L499.79 122.99 L499.96 125.26 L500.13 126.95 L500.3 128.1 L500.47 128.83 L500.64 129.27 L500.81 129.52 L500.98 129.67 L501.15 129.77 L501.32 129.83 L501.49 129.87 L501.66 129.9 L501.82 129.92 L501.99 129.94 L502.16 129.96 L502.33 129.97 L502.5 129.98 L502.67 129.99 L502.84 130 L503.01 130 L503.18 130.01 L503.35 130.02 L503.52 130.03 L503.69 130.03 L503.86 130.04 L504.03 130.05 L504.2 130.05 L504.37 130.06 L504.54 130.07 L504.71 130.07 L504.88 130.08 L505.05 130.09 L505.22 130.09 L505.39 130.1 L505.56 130.11 L505.73 130.11 L505.9 130.12 L506.06 130.13 L506.23 130.13 L506.4 130.14 L506.57 130.15 L506.74 130.15 L506.91 130.16 L507.08 130.17 L507.25 130.17 L507.42 130.18 L507.59 130.18 L507.76 130.19 L507.93 130.19 L508.1 130.2 L508.27 130.2 L508.44 130.19 L508.61 130.18 L508.78 130.17 L508.95 130.14 L509.12 130.11 L509.29 130.05 L509.46 129.98 L509.63 129.88 L509.8 129.76 L509.97 129.61 L510.14 129.44 L510.3 129.25 L510.47 129.05 L510.64 128.85 L510.81 128.67 L510.98 128.51 L511.15 128.38 L511.32 128.31 L511.49 128.29 L511.66 128.32 L511.83 128.41 L512 128.54 L512.17 128.71 L512.34 128.91 L512.51 129.12 L512.68 129.33 L512.85 129.53 L513.02 129.71 L513.19 129.87 L513.36 130 L513.53 130.11 L513.7 130.19 L513.87 130.26 L514.04 130.31 L514.21 130.34 L514.38 130.37 L514.54 130.39 L514.71 130.4 L514.88 130.41 L515.05 130.41 L515.22 130.41 L515.39 130.41 L515.56 130.4 L515.73 130.4 L515.9 130.39 L516.07 130.38 L516.24 130.36 L516.41 130.34 L516.58 130.31 L516.75 130.28 L516.92 130.24 L517.09 130.19 L517.26 130.13 L517.43 130.07 L517.6 129.99 L517.77 129.9 L517.94 129.8 L518.11 129.69 L518.28 129.56 L518.45 129.41 L518.62 129.23 L518.78 128.98 L518.95 128.62 L519.12 128.08 L519.29 127.22 L519.46 125.91 L519.63 123.94 L519.8 121.18 L519.97 117.55 L520.14 113.14 L520.31 108.24 L520.48 103.36 L520.65 99.16 L520.82 96.27 L520.99 95.19 L521.16 96.08 L521.33 98.78 L521.5 102.8 L521.67 107.51 L521.84 112.26 L522.01 116.54 L522.18 120.05 L522.35 122.72 L522.52 124.61 L522.69 125.88 L522.86 126.7 L523.02 127.24 L523.19 127.61 L523.36 127.89 L523.53 128.13 L523.7 128.34 L523.87 128.54 L524.04 128.74 L524.21 128.93 L524.38 129.11 L524.55 129.29 L524.72 129.45 L524.89 129.6 L525.06 129.75 L525.23 129.88 L525.4 129.99 L525.57 130.1 L525.74 130.2 L525.91 130.28 L526.08 130.35 L526.25 130.42 L526.42 130.48 L526.59 130.53 L526.76 130.57 L526.93 130.6 L527.1 130.63 L527.26 130.66 L527.43 130.68 L527.6 130.7 L527.77 130.71 L527.94 130.73 L528.11 130.74 L528.28 130.75 L528.45 130.76 L528.62 130.76 L528.79 130.77 L528.96 130.78 L529.13 130.78 L529.3 130.79 L529.47 130.79 L529.98 130.8 L530.49 130.81 L531 130.82 L531.5 130.83 L532.01 130.84 L532.52 130.85 L533.03 130.86 L533.54 130.87 L534.05 130.88 L534.56 130.89 L535.07 130.9 L535.58 130.91 L536.08 130.92 L536.59 130.92 L537.1 130.93 L537.61 130.94 L538.12 130.95 L538.63 130.96 L539.14 130.97 L539.65 130.97 L540.15 130.98 L540.66 130.99 L541.17 131 L541.68 131.01 L542.19 131.01 L542.7 131.02 L543.21 131.03 L543.72 131.03 L544.22 131.04 L544.73 131.05 L545.24 131.06 L545.75 131.06 L546.26 131.07 L546.77 131.08 L547.28 131.08 L547.79 131.09 L548.3 131.09 L548.8 131.1 L549.31 131.11 L549.82 131.11 L550.33 131.12 L550.84 131.12 L551.35 131.13 L551.86 131.14 L552.37 131.14 L552.87 131.15 L553.38 131.15 L553.89 131.16 L554.4 131.16 L554.91 131.17 L555.42 131.17 L555.93 131.18 L556.44 131.18 L556.94 131.19 L557.45 131.19 L557.96 131.2 L558.47 131.2 L558.98 131.21 L559.49 131.21 L560 131.22 L560.51 131.22 L561.02 131.23 L561.52 131.23 L562.03 131.24 L562.54 131.24 L563.05 131.24 L563.56 131.25 L564.07 131.25 L564.58 131.26 L565.09 131.26 L565.59 131.27 L566.1 131.27 L566.61 131.27 L567.12 131.28 L567.63 131.28 L568.14 131.28 L568.65 131.29 L569.16 131.29 L569.66 131.3 L570.17 131.3 L570.68 131.3 L571.19 131.31 L571.7 131.31 L572.21 131.31 L572.72 131.32 L573.23 131.32 L573.74 131.32 L574.24 131.33 L574.75 131.33 L575.26 131.33 L575.77 131.33 L576.28 131.34 L576.79 131.34 L577.3 131.34 L577.81 131.35 L578.31 131.35 L578.82 131.35 L579.33 131.35 L579.84 131.36 L580.35 131.36 L580.86 131.36 L581.37 131.37 L581.88 131.37 L582.38 131.37 L582.89 131.37 L583.4 131.38 L583.91 131.38 L584.42 131.38 L584.93 131.38 L585.44 131.38 L585.95 131.39 L586.46 131.39 L586.96 131.39 L587.47 131.39 L587.98 131.4 L588.49 131.4 L589 131.4 L589.51 131.4 L590.02 131.4 L590.53 131.41 L591.03 131.41 L591.54 131.41 L592.05 131.39 L592.56 131.3 L593.07 131 L593.58 130.23 L594.09 128.81 L594.6 126.93 L595.1 125.41 L595.61 125.15 L596.12 126.33 L596.63 128.21 L597.14 129.84 L597.65 130.82 L598.16 131.25 L598.67 131.39 L599.18 131.43 L599.68 131.44 L600.19 131.44 L600.7 131.44 L601.21 131.44 L601.72 131.44 L602.23 131.45 L602.74 131.45 L603.25 131.44 L603.75 131.43 L604.26 131.37 L604.77 131.22 L605.28 130.93 L605.79 130.56 L606.3 130.25 L606.81 130.2 L607.32 130.44 L607.82 130.82 L608.33 131.15 L608.84 131.34 L609.35 131.43 L609.86 131.46 L610.37 131.47 L610.88 131.47 L611.39 131.47 L611.9 131.47 L612.4 131.47 L612.91 131.47 L613.42 131.47 L613.93 131.48 L614.44 131.48 L614.95 131.48 L615.46 131.48 L615.97 131.48 L616.47 131.48 L616.98 131.48 L617.49 131.48 L618 131.48 L618.51 131.48 L619.02 131.49 L619.53 131.49 L620.04 131.49 L620.54 131.49 L621.05 131.49 L621.56 131.49 L622.07 131.49 L622.58 131.49 L623.09 131.49 L623.6 131.49 L624.11 131.49 L624.62 131.5 L625.12 131.5 L625.63 131.5 L626.14 131.5 L626.65 131.5 L627.16 131.5 L627.67 131.5 L628.18 131.5 L628.69 131.5 L629.19 131.5 L629.7 131.5 L630.21 131.5 L630.72 131.5 L631.23 131.5 L631.74 131.51 L632.25 131.51 L632.76 131.51 L633.26 131.51 L633.77 131.51 L634.28 131.51 L634.79 131.51 L635.3 131.51 L635.81 131.51 L636.32 131.51 L636.83 131.51 L637.34 131.51 L637.84 131.51 L638.35 131.51 L638.86 131.51 L639.37 131.51 L639.88 131.52 L640.39 131.52 L640.9 131.52 L641.41 131.52 L641.91 131.52 L642.42 131.52 L642.93 131.52 L643.44 131.52 L643.95 131.52 L644.46 131.52 L644.97 131.52 L645.48 131.52 L645.98 131.52 L646.49 131.52 L647 131.52 L647.51 131.52 L648.02 131.52 L648.53 131.52 L649.04 131.52 L649.55 131.52 L650.06 131.52 L650.56 131.53 L651.07 131.53 L651.58 131.53 L652.09 131.53 L652.6 131.53 L653.11 131.53 L653.62 131.53 L654.13 131.53 L654.63 131.53 L655.14 131.53 L655.65 131.53 L656.16 131.53 L656.67 131.53 L657.18 131.53 L657.69 131.53 L658.2 131.53 L658.7 131.53 L659.21 131.53 L659.72 131.53 L660.23 131.53 L660.74 131.53 L661.25 131.53 L661.76 131.53 L662.27 131.53 L662.78 131.53 L663.28 131.53 L663.79 131.53 L664.3 131.53 L664.81 131.53 L665.32 131.53 L665.83 131.54 L666.34 131.54 L666.85 131.54 L667.35 131.54 L667.86 131.54 L668.37 131.54 L668.88 131.54 L669.39 131.54 L669.9 131.54 L670.41 131.54 L670.92 131.54 L671.42 131.54 L671.93 131.54 L672.44 131.54 L672.95 131.54 L673.46 131.54 L673.97 131.54 L674.48 131.54 L674.99 131.54 L675.5 131.54 L676 131.54 L676.51 131.54 L677.02 131.54 L677.53 131.54 L678.04 131.54 L678.55 131.54 L679.06 131.54 L679.57 131.54 L680.07 131.54 L680.58 131.54 L681.09 131.54 L681.6 131.54 L681.94 132.0 Z" fill="#eef20c" stroke="#eef20c" stroke-width="0.4"/>
<path d="M487.3 2.2 h8.2 v9.5 h-2.5 l-1.6 1.8 l-1.6 -1.8 h-2.5 Z" fill="#203f78" stroke="#7f96c0" stroke-width="0.6"/>
<text x="491.4" y="9.5" font-size="6.8" font-weight="normal" fill="#e8e820" text-anchor="middle" font-family='"Liberation Sans", sans-serif' >C</text>
<path d="M491.9 75.1 h8.5 v11.2 h-2.65 l-1.6 1.8 l-1.6 -1.8 h-2.65 Z" fill="#203f78" stroke="#7f96c0" stroke-width="0.6"/>
<text x="496.15" y="84.1" font-size="6.8" font-weight="normal" fill="#e8e820" text-anchor="middle" font-family='"Liberation Sans", sans-serif' >O</text>
<path d="M494 105.1 h10 v11.2 h-3.4 l-1.6 1.8 l-1.6 -1.8 h-3.4 Z" fill="#203f78" stroke="#7f96c0" stroke-width="0.6"/>
<text x="499" y="114.1" font-size="6.8" font-weight="normal" fill="#e8e820" text-anchor="middle" font-family='"Liberation Sans", sans-serif' >Fe</text>
<path d="M517.5 87.6 h7.3 v9.8 h-2.05 l-1.6 1.8 l-1.6 -1.8 h-2.05 Z" fill="#203f78" stroke="#7f96c0" stroke-width="0.6"/>
<text x="521.15" y="95.2" font-size="6.8" font-weight="normal" fill="#e8e820" text-anchor="middle" font-family='"Liberation Sans", sans-serif' >P</text>
<path d="M590.2 113.2 h10 v9.5 h-3.4 l-1.6 1.8 l-1.6 -1.8 h-3.4 Z" fill="#203f78" stroke="#7f96c0" stroke-width="0.6"/>
<text x="595.2" y="120.5" font-size="6.8" font-weight="normal" fill="#e8e820" text-anchor="middle" font-family='"Liberation Sans", sans-serif' >Fe</text>
<path d="M601.5 118.5 h10 v9.5 h-3.4 l-1.6 1.8 l-1.6 -1.8 h-3.4 Z" fill="#203f78" stroke="#7f96c0" stroke-width="0.6"/>
<text x="606.5" y="125.8" font-size="6.8" font-weight="normal" fill="#e8e820" text-anchor="middle" font-family='"Liberation Sans", sans-serif' >Fe</text>
<rect x="539.4" y="6.7" width="130" height="1.6" fill="#f4f6fa"/>
<rect x="539.4" y="101.1" width="130" height="1.6" fill="#f4f6fa"/>
<rect x="540.2" y="25.85" width="128.4" height="1.5" fill="#e8edf6"/>
<rect x="540.2" y="44.65" width="128.4" height="1.5" fill="#e8edf6"/>
<rect x="540.2" y="63.65" width="128.4" height="1.5" fill="#e8edf6"/>
<rect x="540.2" y="82.45" width="128.4" height="1.5" fill="#e8edf6"/>
<rect x="539.4" y="6.7" width="1.6" height="96" fill="#f4f6fa"/>
<rect x="603.9" y="6.7" width="1.6" height="96" fill="#f4f6fa"/>
<rect x="667.8" y="6.7" width="1.6" height="96" fill="#f4f6fa"/>
<text x="572.45" y="20.95" font-size="10.6" font-weight="bold" fill="#fff" text-anchor="middle" font-family='"Liberation Sans", sans-serif' >Element</text>
<text x="636.65" y="20.95" font-size="10.6" font-weight="bold" fill="#fff" text-anchor="middle" font-family='"Liberation Sans", sans-serif' >Wt%</text>
<text x="572.45" y="39.9" font-size="10.6" font-weight="bold" fill="#fff" text-anchor="middle" font-family='"Liberation Sans", sans-serif' >C</text>
<text x="636.65" y="39.9" font-size="10.6" font-weight="bold" fill="#fff" text-anchor="middle" font-family='"Liberation Sans", sans-serif' >61.23</text>
<text x="572.45" y="58.8" font-size="10.6" font-weight="bold" fill="#fff" text-anchor="middle" font-family='"Liberation Sans", sans-serif' >O</text>
<text x="636.65" y="58.8" font-size="10.6" font-weight="bold" fill="#fff" text-anchor="middle" font-family='"Liberation Sans", sans-serif' >25.38</text>
<text x="572.45" y="77.7" font-size="10.6" font-weight="bold" fill="#fff" text-anchor="middle" font-family='"Liberation Sans", sans-serif' >P</text>
<text x="636.65" y="77.7" font-size="10.6" font-weight="bold" fill="#fff" text-anchor="middle" font-family='"Liberation Sans", sans-serif' >5.09</text>
<text x="572.45" y="96.45" font-size="10.6" font-weight="bold" fill="#fff" text-anchor="middle" font-family='"Liberation Sans", sans-serif' >Fe</text>
<text x="636.65" y="96.45" font-size="10.6" font-weight="bold" fill="#fff" text-anchor="middle" font-family='"Liberation Sans", sans-serif' >8.30</text>
<text transform="translate(460.4 28.5) scale(1.12 1)" font-size="28.5" font-weight="bold" fill="#fff" text-anchor="start" font-family='"Liberation Sans", sans-serif' >c</text>
<svg x="6.8" y="154.3" width="220" height="146.4" viewBox="6.8 154.3 220 146.4" overflow="hidden"><g filter="url(#semD)">
<rect x="6.8" y="154.3" width="220" height="147" fill="#7e7e7e"/>
<g filter="url(#blur2)">
<path d="M0 150 L232 150 L232 214 C120 220 60 212 0 208 Z" fill="#6c6c6c"/>
<rect x="0" y="150" width="232" height="9" fill="#5e5e5e"/>
<path d="M0 199 C60 201 120 210 232 209 L232 216 C120 220 60 213 0 210 Z" fill="#848484"/>
<ellipse cx="212" cy="185" rx="14" ry="14" fill="#7c7c7c"/>
<ellipse cx="30" cy="192" rx="25" ry="8" fill="#747474"/>
</g>
<g filter="url(#blur1)" opacity="0.9">
<line x1="20.58" y1="195.25" x2="37.9" y2="193.35" stroke="#909090" stroke-width="2.39" stroke-linecap="round"/>
<line x1="96.76" y1="210.01" x2="106.05" y2="209.47" stroke="#8a8a8a" stroke-width="1.41" stroke-linecap="round"/>
<line x1="209.46" y1="181.12" x2="217.94" y2="182.63" stroke="#909090" stroke-width="2.09" stroke-linecap="round"/>
<line x1="87.47" y1="211.75" x2="107" y2="208.1" stroke="#585858" stroke-width="1.43" stroke-linecap="round"/>
<line x1="60.92" y1="184.87" x2="68.41" y2="187.91" stroke="#808080" stroke-width="1.42" stroke-linecap="round"/>
<line x1="162.29" y1="162.78" x2="179.37" y2="151.33" stroke="#909090" stroke-width="1.95" stroke-linecap="round"/>
<line x1="64.36" y1="184.17" x2="72.23" y2="179.11" stroke="#909090" stroke-width="1.47" stroke-linecap="round"/>
<line x1="28.55" y1="194.38" x2="48.94" y2="195.98" stroke="#959595" stroke-width="2.39" stroke-linecap="round"/>
<line x1="-2.55" y1="188.25" x2="13.17" y2="184.98" stroke="#808080" stroke-width="2.32" stroke-linecap="round"/>
<line x1="198.34" y1="180.12" x2="210.79" y2="178.39" stroke="#585858" stroke-width="1.72" stroke-linecap="round"/>
<line x1="99.18" y1="172.35" x2="118.15" y2="163.31" stroke="#585858" stroke-width="1.4" stroke-linecap="round"/>
<line x1="-2.75" y1="190.37" x2="12.65" y2="190.18" stroke="#808080" stroke-width="1.96" stroke-linecap="round"/>
<line x1="133.17" y1="167.76" x2="141.95" y2="165.55" stroke="#808080" stroke-width="1.75" stroke-linecap="round"/>
<line x1="126.92" y1="174.56" x2="133.65" y2="170.5" stroke="#909090" stroke-width="2.18" stroke-linecap="round"/>
<line x1="72.22" y1="194.9" x2="89.4" y2="200.79" stroke="#909090" stroke-width="1.81" stroke-linecap="round"/>
<line x1="223.32" y1="209.92" x2="239.14" y2="215.05" stroke="#585858" stroke-width="1.91" stroke-linecap="round"/>
<line x1="144.07" y1="208.56" x2="154.49" y2="208.32" stroke="#585858" stroke-width="2.21" stroke-linecap="round"/>
<line x1="170.38" y1="184.09" x2="188.27" y2="172.97" stroke="#808080" stroke-width="2.06" stroke-linecap="round"/>
<line x1="-11.45" y1="171.42" x2="1.07" y2="175.3" stroke="#909090" stroke-width="2.38" stroke-linecap="round"/>
<line x1="163.48" y1="183.86" x2="173.21" y2="187.9" stroke="#959595" stroke-width="2.31" stroke-linecap="round"/>
<line x1="97.85" y1="209.45" x2="119.47" y2="204.44" stroke="#909090" stroke-width="2.28" stroke-linecap="round"/>
<line x1="127.93" y1="181.01" x2="143.76" y2="185.53" stroke="#808080" stroke-width="1.54" stroke-linecap="round"/>
<line x1="124.75" y1="165.52" x2="143.3" y2="161.56" stroke="#909090" stroke-width="2.35" stroke-linecap="round"/>
<line x1="-14.22" y1="190.06" x2="2.68" y2="194.94" stroke="#959595" stroke-width="1.82" stroke-linecap="round"/>
<line x1="148.05" y1="198.59" x2="166.48" y2="189.33" stroke="#909090" stroke-width="1.49" stroke-linecap="round"/>
<line x1="3.11" y1="159.37" x2="15.67" y2="153.09" stroke="#8a8a8a" stroke-width="2.06" stroke-linecap="round"/>
<line x1="11.13" y1="187.09" x2="22.91" y2="185.98" stroke="#909090" stroke-width="2.02" stroke-linecap="round"/>
<line x1="24.67" y1="204.3" x2="34.16" y2="205.92" stroke="#8a8a8a" stroke-width="2" stroke-linecap="round"/>
<line x1="104.2" y1="198.26" x2="110.77" y2="200.75" stroke="#585858" stroke-width="1.86" stroke-linecap="round"/>
<line x1="-4.38" y1="199.25" x2="4.69" y2="200.48" stroke="#808080" stroke-width="2.36" stroke-linecap="round"/>
<line x1="128.88" y1="198.27" x2="138.26" y2="193.77" stroke="#808080" stroke-width="2.22" stroke-linecap="round"/>
<line x1="177.56" y1="184.46" x2="193.86" y2="183.82" stroke="#8a8a8a" stroke-width="1.91" stroke-linecap="round"/>
<line x1="160.7" y1="210.22" x2="172.2" y2="211.63" stroke="#959595" stroke-width="2.16" stroke-linecap="round"/>
<line x1="26.63" y1="191.29" x2="37.56" y2="186.67" stroke="#8a8a8a" stroke-width="1.72" stroke-linecap="round"/>
<line x1="224.33" y1="163.81" x2="230.68" y2="160.06" stroke="#585858" stroke-width="1.91" stroke-linecap="round"/>
<line x1="212.97" y1="194.71" x2="231.55" y2="192.52" stroke="#959595" stroke-width="1.79" stroke-linecap="round"/>
<line x1="78.77" y1="170.18" x2="85.57" y2="169.1" stroke="#909090" stroke-width="1.68" stroke-linecap="round"/>
<line x1="124.99" y1="179.85" x2="138.34" y2="182.89" stroke="#585858" stroke-width="1.79" stroke-linecap="round"/>
<line x1="99.75" y1="192.12" x2="119.98" y2="180.49" stroke="#585858" stroke-width="1.57" stroke-linecap="round"/>
<line x1="71.76" y1="190.65" x2="81.55" y2="189.27" stroke="#959595" stroke-width="2.07" stroke-linecap="round"/>
<line x1="191.29" y1="195.75" x2="208.45" y2="189.41" stroke="#585858" stroke-width="1.79" stroke-linecap="round"/>
<line x1="131.22" y1="202.54" x2="152.49" y2="212.17" stroke="#8a8a8a" stroke-width="1.56" stroke-linecap="round"/>
<line x1="29.7" y1="205.29" x2="46.14" y2="195.96" stroke="#909090" stroke-width="1.48" stroke-linecap="round"/>
<line x1="54.44" y1="208.95" x2="73.65" y2="206.5" stroke="#8a8a8a" stroke-width="2.39" stroke-linecap="round"/>
<line x1="20.94" y1="181.4" x2="38.72" y2="177.4" stroke="#959595" stroke-width="2.08" stroke-linecap="round"/>
<line x1="44.17" y1="209.37" x2="55.28" y2="205.38" stroke="#909090" stroke-width="2.3" stroke-linecap="round"/>
<line x1="104.73" y1="170.87" x2="122.94" y2="173.42" stroke="#909090" stroke-width="2.34" stroke-linecap="round"/>
<line x1="94.87" y1="181.59" x2="111.13" y2="176.26" stroke="#909090" stroke-width="2.07" stroke-linecap="round"/>
<line x1="132.94" y1="163.34" x2="154.77" y2="154.49" stroke="#808080" stroke-width="2.21" stroke-linecap="round"/>
<line x1="209.95" y1="196.05" x2="216.27" y2="195.5" stroke="#8a8a8a" stroke-width="1.8" stroke-linecap="round"/>
<line x1="88.54" y1="182.28" x2="110.72" y2="191.01" stroke="#909090" stroke-width="1.49" stroke-linecap="round"/>
<line x1="56" y1="182.52" x2="77.56" y2="177.63" stroke="#909090" stroke-width="1.97" stroke-linecap="round"/>
<line x1="204.35" y1="181.34" x2="224.62" y2="175.34" stroke="#585858" stroke-width="1.8" stroke-linecap="round"/>
<line x1="115.77" y1="170.16" x2="135.46" y2="175.66" stroke="#585858" stroke-width="2.28" stroke-linecap="round"/>
<line x1="-15.67" y1="189.43" x2="-8.63" y2="191.85" stroke="#909090" stroke-width="1.55" stroke-linecap="round"/>
<line x1="102.35" y1="186.43" x2="117.92" y2="184.93" stroke="#808080" stroke-width="1.55" stroke-linecap="round"/>
<line x1="17.75" y1="173.55" x2="32.2" y2="163.64" stroke="#8a8a8a" stroke-width="2.07" stroke-linecap="round"/>
<line x1="25.84" y1="163.3" x2="46.18" y2="158.46" stroke="#808080" stroke-width="1.46" stroke-linecap="round"/>
<line x1="-10.86" y1="184.73" x2="7.34" y2="186.07" stroke="#909090" stroke-width="1.43" stroke-linecap="round"/>
<line x1="37.24" y1="177.36" x2="46.91" y2="173.25" stroke="#909090" stroke-width="2.13" stroke-linecap="round"/>
<line x1="109.05" y1="162.23" x2="128.39" y2="154.34" stroke="#8a8a8a" stroke-width="2.13" stroke-linecap="round"/>
<line x1="129.24" y1="192.18" x2="143.85" y2="182.43" stroke="#808080" stroke-width="1.89" stroke-linecap="round"/>
<line x1="19.85" y1="203.95" x2="39.21" y2="210.76" stroke="#8a8a8a" stroke-width="1.62" stroke-linecap="round"/>
<line x1="171.31" y1="206.75" x2="186.01" y2="211.96" stroke="#808080" stroke-width="1.79" stroke-linecap="round"/>
<line x1="211.69" y1="208.59" x2="228.45" y2="197.14" stroke="#808080" stroke-width="1.57" stroke-linecap="round"/>
<line x1="45.23" y1="159.35" x2="57.81" y2="161.55" stroke="#909090" stroke-width="2.33" stroke-linecap="round"/>
<line x1="111.91" y1="205.61" x2="120.73" y2="209.7" stroke="#959595" stroke-width="1.69" stroke-linecap="round"/>
<line x1="90.7" y1="199.42" x2="112.54" y2="207.21" stroke="#909090" stroke-width="1.81" stroke-linecap="round"/>
<line x1="23.85" y1="187.15" x2="43.97" y2="182.41" stroke="#909090" stroke-width="2.39" stroke-linecap="round"/>
<line x1="204.27" y1="209.55" x2="222.17" y2="217.54" stroke="#909090" stroke-width="2.14" stroke-linecap="round"/>
<line x1="32.32" y1="186.76" x2="43.85" y2="192" stroke="#808080" stroke-width="1.52" stroke-linecap="round"/>
<line x1="39.05" y1="180.91" x2="56.25" y2="184.33" stroke="#909090" stroke-width="2.05" stroke-linecap="round"/>
<line x1="42.23" y1="181.23" x2="54.97" y2="179.97" stroke="#808080" stroke-width="1.44" stroke-linecap="round"/>
<line x1="191.25" y1="169.11" x2="210.78" y2="163.94" stroke="#585858" stroke-width="2.2" stroke-linecap="round"/>
<line x1="161.19" y1="197.47" x2="184.52" y2="192.34" stroke="#585858" stroke-width="1.43" stroke-linecap="round"/>
<line x1="171.28" y1="204.8" x2="182.24" y2="207.72" stroke="#585858" stroke-width="1.6" stroke-linecap="round"/>
<line x1="35.91" y1="197.64" x2="56.42" y2="195.48" stroke="#8a8a8a" stroke-width="1.43" stroke-linecap="round"/>
<line x1="205.43" y1="165.14" x2="217.1" y2="162.29" stroke="#959595" stroke-width="2.03" stroke-linecap="round"/>
<line x1="127.23" y1="195.42" x2="148.47" y2="199.2" stroke="#808080" stroke-width="2.06" stroke-linecap="round"/>
<line x1="160.63" y1="182.77" x2="168.44" y2="185.41" stroke="#959595" stroke-width="2.25" stroke-linecap="round"/>
<line x1="199.09" y1="162.17" x2="210.61" y2="162.78" stroke="#909090" stroke-width="2.15" stroke-linecap="round"/>
<line x1="210.06" y1="163.63" x2="227.13" y2="164.75" stroke="#959595" stroke-width="1.61" stroke-linecap="round"/>
<line x1="102.4" y1="196.5" x2="112.27" y2="197.57" stroke="#808080" stroke-width="2.32" stroke-linecap="round"/>
<line x1="108.56" y1="158.5" x2="128.69" y2="151.96" stroke="#808080" stroke-width="2.1" stroke-linecap="round"/>
<line x1="81.76" y1="164.66" x2="103.55" y2="166.29" stroke="#8a8a8a" stroke-width="2.4" stroke-linecap="round"/>
<line x1="37.19" y1="196.04" x2="51.96" y2="195.33" stroke="#959595" stroke-width="1.77" stroke-linecap="round"/>
<line x1="136.51" y1="192.33" x2="148.71" y2="189.24" stroke="#585858" stroke-width="2.04" stroke-linecap="round"/>
<line x1="92.4" y1="185.74" x2="102.19" y2="187.89" stroke="#8a8a8a" stroke-width="2.25" stroke-linecap="round"/>
<line x1="200.82" y1="203.55" x2="219.67" y2="210.09" stroke="#8a8a8a" stroke-width="1.74" stroke-linecap="round"/>
<line x1="17.98" y1="158.73" x2="28.79" y2="159.97" stroke="#808080" stroke-width="1.62" stroke-linecap="round"/>
<line x1="-8.16" y1="168.08" x2="0.56" y2="168.45" stroke="#909090" stroke-width="1.62" stroke-linecap="round"/>
<line x1="7.49" y1="186.86" x2="15.43" y2="185.36" stroke="#8a8a8a" stroke-width="1.6" stroke-linecap="round"/>
<line x1="152.11" y1="187.09" x2="159.17" y2="184.46" stroke="#959595" stroke-width="1.97" stroke-linecap="round"/>
<line x1="40.21" y1="181.32" x2="59.1" y2="188.46" stroke="#8a8a8a" stroke-width="1.8" stroke-linecap="round"/>
<line x1="216.05" y1="201.55" x2="233.51" y2="207.25" stroke="#585858" stroke-width="1.43" stroke-linecap="round"/>
<line x1="102.61" y1="206.14" x2="122.5" y2="206.06" stroke="#909090" stroke-width="1.44" stroke-linecap="round"/>
<line x1="137.58" y1="200.07" x2="148.13" y2="198.83" stroke="#808080" stroke-width="1.93" stroke-linecap="round"/>
<line x1="20.34" y1="176.41" x2="38.24" y2="177.77" stroke="#585858" stroke-width="2.32" stroke-linecap="round"/>
<line x1="52.08" y1="164.23" x2="68.53" y2="162.56" stroke="#909090" stroke-width="2.15" stroke-linecap="round"/>
<line x1="16.75" y1="174.65" x2="24.74" y2="175.31" stroke="#585858" stroke-width="2.31" stroke-linecap="round"/>
<line x1="-7.93" y1="198.27" x2="12.91" y2="196.73" stroke="#8a8a8a" stroke-width="2.03" stroke-linecap="round"/>
<line x1="96.51" y1="188.05" x2="108.05" y2="183.12" stroke="#585858" stroke-width="2.03" stroke-linecap="round"/>
<line x1="129.63" y1="181.48" x2="146.12" y2="170.41" stroke="#959595" stroke-width="1.6" stroke-linecap="round"/>
<line x1="-12.2" y1="169.57" x2="8.72" y2="164.05" stroke="#909090" stroke-width="2.25" stroke-linecap="round"/>
<line x1="217.15" y1="171.43" x2="229.07" y2="174.79" stroke="#909090" stroke-width="1.68" stroke-linecap="round"/>
<line x1="126.19" y1="202.92" x2="144.53" y2="200.93" stroke="#808080" stroke-width="1.77" stroke-linecap="round"/>
<line x1="202.05" y1="193.2" x2="213.06" y2="195.14" stroke="#8a8a8a" stroke-width="2.28" stroke-linecap="round"/>
<line x1="40.53" y1="211.82" x2="52.16" y2="209.31" stroke="#909090" stroke-width="2.12" stroke-linecap="round"/>
<line x1="-13.16" y1="189.21" x2="7.65" y2="180.68" stroke="#959595" stroke-width="2.17" stroke-linecap="round"/>
<line x1="36.71" y1="164.55" x2="42.67" y2="162.09" stroke="#585858" stroke-width="2.38" stroke-linecap="round"/>
<line x1="102.83" y1="195.89" x2="116.85" y2="201.88" stroke="#585858" stroke-width="1.78" stroke-linecap="round"/>
<line x1="208.43" y1="199.58" x2="221.43" y2="191.42" stroke="#8a8a8a" stroke-width="2.15" stroke-linecap="round"/>
<line x1="20.82" y1="163.99" x2="33.33" y2="156.62" stroke="#808080" stroke-width="1.51" stroke-linecap="round"/>
<line x1="105.55" y1="173.97" x2="119.45" y2="175.86" stroke="#585858" stroke-width="2.17" stroke-linecap="round"/>
<line x1="213.94" y1="187.92" x2="223.01" y2="181.65" stroke="#585858" stroke-width="2.23" stroke-linecap="round"/>
<line x1="220.94" y1="171.89" x2="237.5" y2="167.06" stroke="#808080" stroke-width="2.25" stroke-linecap="round"/>
<line x1="13.23" y1="176.63" x2="35.42" y2="171.16" stroke="#909090" stroke-width="2.22" stroke-linecap="round"/>
<line x1="48.56" y1="200.31" x2="54.43" y2="198.78" stroke="#909090" stroke-width="2.19" stroke-linecap="round"/>
<line x1="150.55" y1="185.25" x2="156.21" y2="181.54" stroke="#808080" stroke-width="1.97" stroke-linecap="round"/>
<line x1="116.33" y1="203.87" x2="137.56" y2="204.72" stroke="#909090" stroke-width="2.01" stroke-linecap="round"/>
<line x1="28.85" y1="167.39" x2="47.72" y2="163.97" stroke="#808080" stroke-width="1.62" stroke-linecap="round"/>
<line x1="77.45" y1="200.74" x2="98.52" y2="204.37" stroke="#8a8a8a" stroke-width="1.64" stroke-linecap="round"/>
<line x1="59.01" y1="174.43" x2="72.18" y2="178.57" stroke="#8a8a8a" stroke-width="2.02" stroke-linecap="round"/>
<line x1="201.36" y1="183.06" x2="218.92" y2="189.81" stroke="#909090" stroke-width="1.59" stroke-linecap="round"/>
<line x1="131.5" y1="211.01" x2="152.07" y2="218.37" stroke="#8a8a8a" stroke-width="2.3" stroke-linecap="round"/>
<line x1="116.65" y1="206.84" x2="138.76" y2="212.37" stroke="#8a8a8a" stroke-width="2.02" stroke-linecap="round"/>
<line x1="-17.81" y1="199.39" x2="5.92" y2="197.84" stroke="#8a8a8a" stroke-width="2.03" stroke-linecap="round"/>
<line x1="-4.59" y1="209.35" x2="18.53" y2="205.87" stroke="#959595" stroke-width="1.81" stroke-linecap="round"/>
<line x1="221.99" y1="204.63" x2="242.07" y2="202.63" stroke="#808080" stroke-width="1.59" stroke-linecap="round"/>
<line x1="53.38" y1="199.24" x2="62" y2="194.08" stroke="#909090" stroke-width="1.56" stroke-linecap="round"/>
<line x1="81.12" y1="174.93" x2="91.52" y2="172.36" stroke="#959595" stroke-width="2.14" stroke-linecap="round"/>
<line x1="70.57" y1="185.58" x2="92.93" y2="186.94" stroke="#909090" stroke-width="1.86" stroke-linecap="round"/>
<line x1="96.27" y1="185.84" x2="106.62" y2="185.5" stroke="#808080" stroke-width="2.17" stroke-linecap="round"/>
<line x1="148.73" y1="175.03" x2="165.57" y2="177.92" stroke="#959595" stroke-width="1.82" stroke-linecap="round"/>
<line x1="36.5" y1="206.48" x2="56.47" y2="198.1" stroke="#909090" stroke-width="2.38" stroke-linecap="round"/>
<line x1="109.91" y1="206.88" x2="117.53" y2="208.01" stroke="#808080" stroke-width="2.23" stroke-linecap="round"/>
<line x1="98.34" y1="190.22" x2="109.17" y2="189.3" stroke="#8a8a8a" stroke-width="2.27" stroke-linecap="round"/>
<line x1="138.26" y1="191.95" x2="145.97" y2="189.53" stroke="#8a8a8a" stroke-width="1.6" stroke-linecap="round"/>
<line x1="112.3" y1="195.61" x2="127.48" y2="195.15" stroke="#909090" stroke-width="2.04" stroke-linecap="round"/>
<line x1="151.84" y1="211.81" x2="172.69" y2="207.69" stroke="#959595" stroke-width="2.09" stroke-linecap="round"/>
<line x1="86.09" y1="158.82" x2="97.08" y2="156.41" stroke="#909090" stroke-width="2.29" stroke-linecap="round"/>
<line x1="141.59" y1="172.08" x2="160.5" y2="173.7" stroke="#585858" stroke-width="1.89" stroke-linecap="round"/>
<line x1="124.31" y1="206.26" x2="131.19" y2="204.64" stroke="#808080" stroke-width="2.36" stroke-linecap="round"/>
<line x1="110.28" y1="185.73" x2="120" y2="181.13" stroke="#909090" stroke-width="2.26" stroke-linecap="round"/>
<line x1="5.41" y1="193.38" x2="25.69" y2="184.04" stroke="#959595" stroke-width="1.57" stroke-linecap="round"/>
<line x1="126.38" y1="196.94" x2="142.09" y2="187.9" stroke="#8a8a8a" stroke-width="2.25" stroke-linecap="round"/>
<line x1="98.32" y1="204.41" x2="113.58" y2="197.33" stroke="#585858" stroke-width="1.78" stroke-linecap="round"/>
<line x1="54.45" y1="200.42" x2="75.68" y2="189.96" stroke="#959595" stroke-width="1.78" stroke-linecap="round"/>
<line x1="133.97" y1="166.86" x2="153.96" y2="162.61" stroke="#8a8a8a" stroke-width="2.07" stroke-linecap="round"/>
<line x1="30.32" y1="185.76" x2="38.46" y2="181.4" stroke="#808080" stroke-width="1.44" stroke-linecap="round"/>
<circle cx="212" cy="172" r="5" fill="#868686" stroke="#909090" stroke-width="1.2"/>
<circle cx="217" cy="190" r="6" fill="#868686" stroke="#909090" stroke-width="1.2"/>
<circle cx="207" cy="196" r="5" fill="#868686" stroke="#909090" stroke-width="1.2"/>
<circle cx="128" cy="172" r="4" fill="#868686" stroke="#909090" stroke-width="1.2"/>
<circle cx="100" cy="170" r="3" fill="#868686" stroke="#909090" stroke-width="1.2"/>
<circle cx="190" cy="200" r="4" fill="#868686" stroke="#909090" stroke-width="1.2"/>
</g>
<ellipse cx="222.22" cy="286.05" rx="4.69" ry="4.77" fill="#808080" filter="url(#blur1)"/>
<ellipse cx="109.78" cy="221.57" rx="6.64" ry="4.79" fill="#808080" filter="url(#blur1)"/>
<ellipse cx="176.19" cy="296.26" rx="5.88" ry="4.96" fill="#909090" filter="url(#blur1)"/>
<ellipse cx="114.66" cy="242.72" rx="3.51" ry="3.03" fill="#808080" filter="url(#blur1)"/>
<ellipse cx="103.86" cy="257.11" rx="4.41" ry="4.5" fill="#6e6e6e" filter="url(#blur1)"/>
<ellipse cx="94.62" cy="271.99" rx="3.27" ry="3.22" fill="#6a6a6a" filter="url(#blur1)"/>
<ellipse cx="61.02" cy="256.5" rx="4.36" ry="3.8" fill="#6e6e6e" filter="url(#blur1)"/>
<ellipse cx="179.61" cy="297.15" rx="6.89" ry="7.28" fill="#808080" filter="url(#blur1)"/>
<ellipse cx="204.8" cy="293" rx="7.04" ry="5.94" fill="#969696" filter="url(#blur1)"/>
<ellipse cx="181.27" cy="282.08" rx="4.42" ry="3.14" fill="#808080" filter="url(#blur1)"/>
<ellipse cx="145.04" cy="302.33" rx="3.35" ry="3.56" fill="#8a8a8a" filter="url(#blur1)"/>
<ellipse cx="217.78" cy="256.25" rx="6.95" ry="5.78" fill="#808080" filter="url(#blur1)"/>
<ellipse cx="52.32" cy="237.36" rx="6.91" ry="5.33" fill="#909090" filter="url(#blur1)"/>
<ellipse cx="172.48" cy="220.95" rx="4.86" ry="4.43" fill="#808080" filter="url(#blur1)"/>
<ellipse cx="222.25" cy="260.21" rx="5.45" ry="5.46" fill="#6e6e6e" filter="url(#blur1)"/>
<ellipse cx="33.39" cy="286.34" rx="5" ry="5.42" fill="#6a6a6a" filter="url(#blur1)"/>
<ellipse cx="113.44" cy="251.45" rx="4.14" ry="4.25" fill="#969696" filter="url(#blur1)"/>
<ellipse cx="4.29" cy="272.36" rx="4.01" ry="3.77" fill="#969696" filter="url(#blur1)"/>
<ellipse cx="137.5" cy="280.2" rx="5.84" ry="4.74" fill="#808080" filter="url(#blur1)"/>
<ellipse cx="21.42" cy="266.43" rx="4.35" ry="4.24" fill="#8a8a8a" filter="url(#blur1)"/>
<ellipse cx="191.74" cy="236" rx="5.42" ry="4.72" fill="#808080" filter="url(#blur1)"/>
<ellipse cx="14.17" cy="302.43" rx="6.71" ry="4.77" fill="#969696" filter="url(#blur1)"/>
<ellipse cx="124.04" cy="225.51" rx="7.84" ry="8.48" fill="#6e6e6e" filter="url(#blur1)"/>
<ellipse cx="89.1" cy="299.08" rx="5.32" ry="4.96" fill="#8a8a8a" filter="url(#blur1)"/>
<ellipse cx="62.05" cy="270.57" rx="3.25" ry="2.69" fill="#6a6a6a" filter="url(#blur1)"/>
<ellipse cx="42.35" cy="217.77" rx="7.8" ry="7.23" fill="#909090" filter="url(#blur1)"/>
<ellipse cx="190.43" cy="260.05" rx="3.81" ry="3.46" fill="#6e6e6e" filter="url(#blur1)"/>
<ellipse cx="181.78" cy="302.05" rx="4.3" ry="4.1" fill="#6a6a6a" filter="url(#blur1)"/>
<ellipse cx="20.05" cy="261.18" rx="4.9" ry="4.97" fill="#808080" filter="url(#blur1)"/>
<ellipse cx="57.69" cy="257.72" rx="6.17" ry="4.92" fill="#969696" filter="url(#blur1)"/>
<ellipse cx="153.03" cy="233.54" rx="3.78" ry="3.72" fill="#808080" filter="url(#blur1)"/>
<ellipse cx="146.01" cy="249.55" rx="5.9" ry="5.38" fill="#8a8a8a" filter="url(#blur1)"/>
<ellipse cx="110.41" cy="237.3" rx="7.59" ry="5.86" fill="#909090" filter="url(#blur1)"/>
<ellipse cx="190.82" cy="226.51" rx="7.56" ry="5.97" fill="#6e6e6e" filter="url(#blur1)"/>
<ellipse cx="212.02" cy="271.14" rx="4.01" ry="4.17" fill="#969696" filter="url(#blur1)"/>
<ellipse cx="72.18" cy="291.84" rx="3.65" ry="2.97" fill="#969696" filter="url(#blur1)"/>
<ellipse cx="154.41" cy="239.19" rx="4.8" ry="3.76" fill="#969696" filter="url(#blur1)"/>
<ellipse cx="188.47" cy="230.52" rx="7.24" ry="7.59" fill="#969696" filter="url(#blur1)"/>
<ellipse cx="7.56" cy="284.61" rx="4.23" ry="4.04" fill="#969696" filter="url(#blur1)"/>
<ellipse cx="132.87" cy="250.66" rx="6.23" ry="5.21" fill="#969696" filter="url(#blur1)"/>
<ellipse cx="126.74" cy="280.87" rx="3.24" ry="3.31" fill="#8a8a8a" filter="url(#blur1)"/>
<ellipse cx="36.06" cy="274.56" rx="5.27" ry="4.01" fill="#6e6e6e" filter="url(#blur1)"/>
<ellipse cx="221.96" cy="253.27" rx="6.42" ry="4.88" fill="#909090" filter="url(#blur1)"/>
<ellipse cx="200.74" cy="260.57" rx="3.21" ry="2.4" fill="#808080" filter="url(#blur1)"/>
<ellipse cx="128.47" cy="259.34" rx="4.6" ry="4.94" fill="#808080" filter="url(#blur1)"/>
<ellipse cx="65.41" cy="215.61" rx="4.24" ry="4.36" fill="#808080" filter="url(#blur1)"/>
<ellipse cx="42.82" cy="243.58" rx="5.31" ry="4.45" fill="#6a6a6a" filter="url(#blur1)"/>
<ellipse cx="40.4" cy="278" rx="5.18" ry="5.33" fill="#6a6a6a" filter="url(#blur1)"/>
<ellipse cx="51.13" cy="272.64" rx="3.94" ry="4.04" fill="#6e6e6e" filter="url(#blur1)"/>
<ellipse cx="165.98" cy="258.13" rx="6.05" ry="4.65" fill="#808080" filter="url(#blur1)"/>
<ellipse cx="81.29" cy="227.53" rx="5.23" ry="5.46" fill="#6e6e6e" filter="url(#blur1)"/>
<ellipse cx="126.7" cy="303.51" rx="5.37" ry="3.93" fill="#969696" filter="url(#blur1)"/>
<ellipse cx="87.03" cy="265.4" rx="7.09" ry="5.13" fill="#6e6e6e" filter="url(#blur1)"/>
<ellipse cx="74.5" cy="240.94" rx="5.68" ry="5.34" fill="#969696" filter="url(#blur1)"/>
<ellipse cx="4.79" cy="273.13" rx="3" ry="2.64" fill="#969696" filter="url(#blur1)"/>
<ellipse cx="182.67" cy="289.02" rx="6.43" ry="4.68" fill="#6a6a6a" filter="url(#blur1)"/>
<ellipse cx="47.6" cy="276.56" rx="7.62" ry="8.3" fill="#8a8a8a" filter="url(#blur1)"/>
<ellipse cx="156.67" cy="228.28" rx="4.02" ry="2.84" fill="#808080" filter="url(#blur1)"/>
<ellipse cx="18.1" cy="294.2" rx="5.45" ry="3.89" fill="#6e6e6e" filter="url(#blur1)"/>
<ellipse cx="111.04" cy="252.75" rx="5.95" ry="6.02" fill="#909090" filter="url(#blur1)"/>
<ellipse cx="195.15" cy="303.3" rx="5.83" ry="5.79" fill="#6a6a6a" filter="url(#blur1)"/>
<ellipse cx="29.63" cy="231.73" rx="6.89" ry="6.91" fill="#6a6a6a" filter="url(#blur1)"/>
<ellipse cx="198.6" cy="260.28" rx="4.49" ry="3.78" fill="#808080" filter="url(#blur1)"/>
<ellipse cx="91.15" cy="278.51" rx="4.3" ry="3.94" fill="#6e6e6e" filter="url(#blur1)"/>
<ellipse cx="97.01" cy="298.67" rx="3.2" ry="3.5" fill="#909090" filter="url(#blur1)"/>
<ellipse cx="29.73" cy="294.9" rx="6.19" ry="6.43" fill="#808080" filter="url(#blur1)"/>
<ellipse cx="66.76" cy="278.67" rx="5.68" ry="5.59" fill="#808080" filter="url(#blur1)"/>
<ellipse cx="122.29" cy="222.12" rx="7.3" ry="5.77" fill="#969696" filter="url(#blur1)"/>
<ellipse cx="60.6" cy="252.21" rx="3.48" ry="2.45" fill="#969696" filter="url(#blur1)"/>
<ellipse cx="227.63" cy="244.51" rx="7.83" ry="8.19" fill="#8a8a8a" filter="url(#blur1)"/>
<ellipse cx="166.12" cy="273.31" rx="7.05" ry="5.29" fill="#969696" filter="url(#blur1)"/>
<ellipse cx="90.27" cy="226.97" rx="3.3" ry="3.28" fill="#909090" filter="url(#blur1)"/>
<ellipse cx="29.77" cy="296.35" rx="6" ry="5.42" fill="#808080" filter="url(#blur1)"/>
<ellipse cx="59.65" cy="264.82" rx="3.8" ry="4.14" fill="#8a8a8a" filter="url(#blur1)"/>
<ellipse cx="83" cy="253.11" rx="4.43" ry="4.24" fill="#969696" filter="url(#blur1)"/>
<ellipse cx="206.42" cy="285.53" rx="4.07" ry="3.82" fill="#909090" filter="url(#blur1)"/>
<ellipse cx="110.28" cy="243.19" rx="5.42" ry="5.63" fill="#8a8a8a" filter="url(#blur1)"/>
<ellipse cx="41.45" cy="293.37" rx="3.76" ry="3.25" fill="#6e6e6e" filter="url(#blur1)"/>
<ellipse cx="150.44" cy="238.9" rx="5.75" ry="4.92" fill="#909090" filter="url(#blur1)"/>
<ellipse cx="88.45" cy="253.41" rx="3.79" ry="3.86" fill="#6a6a6a" filter="url(#blur1)"/>
<ellipse cx="227.36" cy="235" rx="7.77" ry="6.84" fill="#808080" filter="url(#blur1)"/>
<ellipse cx="165.94" cy="225.18" rx="5.83" ry="5.52" fill="#969696" filter="url(#blur1)"/>
<ellipse cx="61.83" cy="231.41" rx="6.22" ry="4.52" fill="#8a8a8a" filter="url(#blur1)"/>
<ellipse cx="0.83" cy="303.56" rx="4.69" ry="4.99" fill="#8a8a8a" filter="url(#blur1)"/>
<ellipse cx="174.24" cy="263.6" rx="4.65" ry="4.4" fill="#6e6e6e" filter="url(#blur1)"/>
<ellipse cx="213.24" cy="225.23" rx="4.08" ry="4.15" fill="#6e6e6e" filter="url(#blur1)"/>
<ellipse cx="0.87" cy="279.22" rx="6.14" ry="6.55" fill="#808080" filter="url(#blur1)"/>
<ellipse cx="225.05" cy="225.85" rx="3.14" ry="2.85" fill="#909090" filter="url(#blur1)"/>
<ellipse cx="200.27" cy="286.53" rx="3.98" ry="3.22" fill="#909090" filter="url(#blur1)"/>
<ellipse cx="210.08" cy="226.58" rx="4.23" ry="4.6" fill="#909090" filter="url(#blur1)"/>
<ellipse cx="85.51" cy="279.46" rx="5.82" ry="5.22" fill="#6e6e6e" filter="url(#blur1)"/>
<ellipse cx="6.81" cy="264.19" rx="7.26" ry="6.73" fill="#808080" filter="url(#blur1)"/>
<ellipse cx="19.18" cy="223.69" rx="3.81" ry="3.02" fill="#808080" filter="url(#blur1)"/>
<ellipse cx="115.15" cy="300.34" rx="5.95" ry="4.59" fill="#808080" filter="url(#blur1)"/>
<ellipse cx="85" cy="266.22" rx="4.92" ry="4.49" fill="#8a8a8a" filter="url(#blur1)"/>
<ellipse cx="211.44" cy="214.81" rx="6.97" ry="5.69" fill="#909090" filter="url(#blur1)"/>
<ellipse cx="62.03" cy="243.82" rx="5.71" ry="5.6" fill="#909090" filter="url(#blur1)"/>
<ellipse cx="185.12" cy="262.59" rx="4.59" ry="4.54" fill="#808080" filter="url(#blur1)"/>
<ellipse cx="0.11" cy="216.46" rx="6.8" ry="5.88" fill="#6a6a6a" filter="url(#blur1)"/>
<ellipse cx="85.45" cy="268.1" rx="4.48" ry="3.71" fill="#969696" filter="url(#blur1)"/>
<ellipse cx="210.03" cy="254.79" rx="6.52" ry="5.14" fill="#808080" filter="url(#blur1)"/>
<ellipse cx="15.22" cy="216.51" rx="3.63" ry="2.59" fill="#8a8a8a" filter="url(#blur1)"/>
<ellipse cx="164.77" cy="255.04" rx="5.94" ry="6.33" fill="#969696" filter="url(#blur1)"/>
<ellipse cx="91.79" cy="251.47" rx="7.13" ry="7.61" fill="#6a6a6a" filter="url(#blur1)"/>
<ellipse cx="35.96" cy="292.66" rx="6.1" ry="4.75" fill="#6e6e6e" filter="url(#blur1)"/>
<ellipse cx="215" cy="289.82" rx="6.09" ry="5.13" fill="#808080" filter="url(#blur1)"/>
<ellipse cx="50.91" cy="221.71" rx="6.56" ry="5.18" fill="#808080" filter="url(#blur1)"/>
<ellipse cx="86.4" cy="215.75" rx="7.28" ry="6.59" fill="#969696" filter="url(#blur1)"/>
<ellipse cx="97.27" cy="285.2" rx="3.65" ry="2.66" fill="#6e6e6e" filter="url(#blur1)"/>
<ellipse cx="99.89" cy="302.93" rx="3.05" ry="3.34" fill="#909090" filter="url(#blur1)"/>
<ellipse cx="23.66" cy="301.45" rx="7.83" ry="5.77" fill="#808080" filter="url(#blur1)"/>
<ellipse cx="138.09" cy="218.28" rx="5.24" ry="5.24" fill="#969696" filter="url(#blur1)"/>
<ellipse cx="179.37" cy="224.4" rx="6.01" ry="6.41" fill="#909090" filter="url(#blur1)"/>
<ellipse cx="169.03" cy="290.46" rx="4.51" ry="4.11" fill="#6a6a6a" filter="url(#blur1)"/>
<ellipse cx="52.77" cy="296.79" rx="3.03" ry="2.46" fill="#808080" filter="url(#blur1)"/>
<ellipse cx="206.81" cy="268.65" rx="5.29" ry="5.14" fill="#909090" filter="url(#blur1)"/>
<ellipse cx="149.73" cy="268.72" rx="5.86" ry="6.27" fill="#969696" filter="url(#blur1)"/>
<ellipse cx="205.8" cy="273.99" rx="4.69" ry="4.17" fill="#6e6e6e" filter="url(#blur1)"/>
<ellipse cx="145.46" cy="264.8" rx="5.47" ry="5.78" fill="#8a8a8a" filter="url(#blur1)"/>
<ellipse cx="173.54" cy="232.28" rx="4.68" ry="4.82" fill="#8a8a8a" filter="url(#blur1)"/>
<ellipse cx="70.57" cy="250.41" rx="5.6" ry="4.19" fill="#6e6e6e" filter="url(#blur1)"/>
<ellipse cx="211.08" cy="296.96" rx="6.86" ry="6.54" fill="#909090" filter="url(#blur1)"/>
<ellipse cx="113.74" cy="247.65" rx="7.04" ry="4.98" fill="#6e6e6e" filter="url(#blur1)"/>
<ellipse cx="19.81" cy="288" rx="3.11" ry="2.41" fill="#808080" filter="url(#blur1)"/>
<ellipse cx="224.55" cy="256.38" rx="6.03" ry="6.21" fill="#6e6e6e" filter="url(#blur1)"/>
<ellipse cx="95.38" cy="255.42" rx="6.94" ry="6.33" fill="#969696" filter="url(#blur1)"/>
<ellipse cx="20.7" cy="302.44" rx="4.99" ry="4.18" fill="#909090" filter="url(#blur1)"/>
<ellipse cx="78.85" cy="223.39" rx="7.16" ry="7.39" fill="#8a8a8a" filter="url(#blur1)"/>
<ellipse cx="12.39" cy="231.23" rx="6.08" ry="4.43" fill="#969696" filter="url(#blur1)"/>
<ellipse cx="57.98" cy="238.14" rx="6.51" ry="4.75" fill="#969696" filter="url(#blur1)"/>
<ellipse cx="45" cy="262" rx="12" ry="10" fill="#989898" filter="url(#blur1)"/>
<ellipse cx="81" cy="272" rx="10" ry="9" fill="#9a9a9a" filter="url(#blur1)"/>
<ellipse cx="137" cy="254" rx="10" ry="8" fill="#969696" filter="url(#blur1)"/>
<ellipse cx="196" cy="229" rx="7" ry="7" fill="#959595" filter="url(#blur1)"/>
<ellipse cx="125" cy="275" rx="10" ry="8" fill="#8e8e8e" filter="url(#blur1)"/>
<ellipse cx="165" cy="232" rx="8" ry="6" fill="#8c8c8c" filter="url(#blur1)"/>
<ellipse cx="30" cy="300" rx="24" ry="8" fill="#565656" filter="url(#blur1)"/>
<ellipse cx="109" cy="245" rx="7" ry="6" fill="#5a5a5a" filter="url(#blur1)"/>
<ellipse cx="60" cy="235" rx="8" ry="6" fill="#8a8a8a" filter="url(#blur1)"/>
<ellipse cx="215" cy="270" rx="8" ry="10" fill="#8a8a8a" filter="url(#blur1)"/>
</g></svg>
<text transform="translate(13.2 183) scale(1.1 1)" font-size="28.5" font-weight="bold" fill="#fff" text-anchor="start" font-family='"Liberation Sans", sans-serif' >d</text>
<g filter="url(#fedots)">
<rect x="232.5" y="154.3" width="220.3" height="146.4" fill="#6f6f6f"/>
<g filter="url(#blur4)">
<rect x="232.5" y="154.3" width="220.3" height="26" fill="#666"/>
<path d="M232.5 211.8 C270 213 300 220 342.6 221.3 C380 222 420 219 452.8 217 L452.8 300.7 L232.5 300.7 Z" fill="#7d7d7d"/>
</g></g>
<text transform="translate(417.1 178.4) scale(1.12 1)" font-size="19.5" font-weight="bold" fill="#fff" text-anchor="middle" font-family='"Liberation Sans", sans-serif' >Fe</text>
<g filter="url(#pnoise)">
<rect x="458.2" y="154.3" width="219.8" height="146.4" fill="#626262"/>
<path d="M458.2 211.8 C500 213 540 220 581.6 221.3 C620 222 650 219 678 217 L678 300.7 L458.2 300.7 Z" fill="#828282" filter="url(#blur4)"/>
</g>
<text transform="translate(651.4 177.4) scale(1.08 1)" font-size="21.5" font-weight="bold" fill="#fff" text-anchor="middle" font-family='"Liberation Sans", sans-serif' >P</text>
<rect x="3" y="151.9" width="676.2" height="151.7" fill="none" stroke="#7430b8" stroke-width="1.8"/>
<path d="M6.8 209.8 L9.65 209.89 L13.56 210.01 L18.21 210.15 L23.26 210.33 L28.37 210.54 L33.2 210.8 L37.79 211.1 L42.41 211.44 L47.09 211.82 L51.86 212.24 L56.75 212.7 L61.8 213.2 L67.12 213.77 L72.72 214.43 L78.44 215.12 L84.13 215.81 L89.63 216.45 L94.8 217 L99.48 217.46 L103.76 217.86 L107.86 218.21 L111.99 218.52 L116.37 218.78 L121.2 219 L126.61 219.17 L132.44 219.29 L138.53 219.36 L144.67 219.4 L150.69 219.41 L156.4 219.4 L161.86 219.36 L167.24 219.29 L172.49 219.18 L177.59 219.06 L182.5 218.93 L187.2 218.8 L191.78 218.67 L196.29 218.53 L200.61 218.38 L204.64 218.23 L208.27 218.07 L211.4 217.9 L213.93 217.74 L215.92 217.6 L217.52 217.45 L218.86 217.28 L220.07 217.07 L221.3 216.8 L222.53 216.44 L223.66 215.98 L224.67 215.48 L225.54 215 L226.25 214.59 L226.8 214.3" fill="none" stroke="#f0cc2a" stroke-width="2.3" stroke-dasharray="5.5 2.8"/>
<path d="M232.5 209.8 L235.35 209.89 L239.27 210.01 L243.93 210.15 L248.98 210.33 L254.1 210.54 L258.94 210.8 L263.53 211.1 L268.16 211.44 L272.84 211.82 L277.62 212.24 L282.52 212.7 L287.58 213.2 L292.9 213.77 L298.51 214.43 L304.24 215.12 L309.93 215.81 L315.44 216.45 L320.62 217 L325.31 217.46 L329.6 217.86 L333.7 218.21 L337.84 218.52 L342.22 218.78 L347.06 219 L352.47 219.17 L358.32 219.29 L364.4 219.36 L370.55 219.4 L376.58 219.41 L382.3 219.4 L387.78 219.36 L393.16 219.29 L398.41 219.18 L403.52 219.06 L408.44 218.93 L413.15 218.8 L417.73 218.67 L422.24 218.53 L426.57 218.38 L430.61 218.23 L434.25 218.07 L437.38 217.9 L439.91 217.74 L441.91 217.6 L443.51 217.45 L444.84 217.28 L446.06 217.07 L447.29 216.8 L448.53 216.44 L449.66 215.98 L450.67 215.48 L451.54 215 L452.25 214.59 L452.8 214.3" fill="none" stroke="#f0cc2a" stroke-width="2.3" stroke-dasharray="5.5 2.8"/>
<path d="M458.2 209.8 L461.04 209.89 L464.96 210.01 L469.6 210.15 L474.64 210.33 L479.75 210.54 L484.58 210.8 L489.16 211.1 L493.78 211.44 L498.45 211.82 L503.22 212.24 L508.11 212.7 L513.15 213.2 L518.47 213.77 L524.06 214.43 L529.77 215.12 L535.46 215.81 L540.96 216.45 L546.12 217 L550.8 217.46 L555.07 217.86 L559.17 218.21 L563.3 218.52 L567.67 218.78 L572.5 219 L577.9 219.17 L583.73 219.29 L589.81 219.36 L595.94 219.4 L601.96 219.41 L607.66 219.4 L613.12 219.36 L618.49 219.29 L623.74 219.18 L628.83 219.06 L633.74 218.93 L638.44 218.8 L643.01 218.67 L647.51 218.53 L651.83 218.38 L655.86 218.23 L659.49 218.07 L662.61 217.9 L665.14 217.74 L667.13 217.6 L668.73 217.45 L670.06 217.28 L671.28 217.07 L672.5 216.8 L673.74 216.44 L674.87 215.98 L675.87 215.48 L676.74 215 L677.45 214.59 L678 214.3" fill="none" stroke="#f0cc2a" stroke-width="2.3" stroke-dasharray="5.5 2.8"/>
<text x="171" y="280.6" font-size="13.3" font-weight="bold" fill="#fff" text-anchor="start" font-family='"Liberation Sans", sans-serif' textLength="34.8" lengthAdjust="spacingAndGlyphs">1 &#181;m</text>
<rect x="149.3" y="287.4" width="72.6" height="1.9" fill="#fff"/>
<text x="389.3" y="280.2" font-size="13.3" font-weight="bold" fill="#fff" text-anchor="start" font-family='"Liberation Sans", sans-serif' textLength="34.8" lengthAdjust="spacingAndGlyphs">1 &#181;m</text>
<rect x="372.9" y="287.4" width="72.9" height="1.9" fill="#fff"/>
<text x="615.6" y="280.4" font-size="13.3" font-weight="bold" fill="#fff" text-anchor="start" font-family='"Liberation Sans", sans-serif' textLength="34.8" lengthAdjust="spacingAndGlyphs">1 &#181;m</text>
<rect x="596.8" y="287.4" width="73.1" height="1.9" fill="#fff"/>
<path d="M36.1 385.4 L49.4 380.9 L84 387.9 L130 390 L160 390.1 L180 389.3 L197 384.6 L211 373.6 L222 343.2" fill="none" stroke="#6e3a3c" stroke-width="1.9" stroke-linejoin="round" stroke-linecap="round" />
<path d="M36.1 418.7 L49.4 426.6 L100 428 L140 429.4 L171.5 435 L183.8 441.2 L197.8 454.3 L211 481.5 L221 514.4" fill="none" stroke="#6e3a3c" stroke-width="1.9" stroke-linejoin="round" stroke-linecap="round" />
<path d="M36.1 387.6 L46.8 383.7 L60 386.8 L84 390.8 L130 392.9 L165 392.7 L185 391.2 L206.3 385.4 L219.4 380.1 L226 365.7 L232.5 343.2" fill="none" stroke="#5fe2d0" stroke-width="1.9" stroke-linejoin="round" stroke-linecap="round" />
<path d="M36.1 416.2 L48.5 423.8 L130 424.7 L160 426.8 L183.8 430.7 L197.8 437.7 L208.3 450.8 L218.8 471.8 L232 514.4" fill="none" stroke="#5fe2d0" stroke-width="1.9" stroke-linejoin="round" stroke-linecap="round" />
<path d="M36.1 388.4 L44.3 385.8 L60 390.2 L84 394.4 L130 395.9 L180 395.8 L200 394.2 L214.2 392 L223 389.2 L229.9 385.4 L234.6 379.2 L237.8 370.9 L242 357 L245.7 343.2" fill="none" stroke="#c8a12f" stroke-width="1.9" stroke-linejoin="round" stroke-linecap="round" />
<path d="M36.1 414 L45.1 420.9 L130 421.7 L165 423.8 L197.8 428 L213.6 436 L222.3 447.3 L231.1 466.6 L245.1 514.4" fill="none" stroke="#c8a12f" stroke-width="1.9" stroke-linejoin="round" stroke-linecap="round" />
<path d="M36.2 398 L36.37 397.73 L36.6 397.36 L36.87 396.91 L37.18 396.43 L37.5 395.92 L37.84 395.43 L38.17 394.98 L38.5 394.6 L38.72 394.25 L38.79 393.9 L38.81 393.55 L38.87 393.24 L39.06 392.97 L39.47 392.76 L40.19 392.63 L41.3 392.6 L42.84 392.69 L44.73 392.9 L46.92 393.19 L49.32 393.54 L51.9 393.92 L54.58 394.31 L57.3 394.68 L60 395 L62.6 395.29 L65.11 395.59 L67.65 395.88 L70.29 396.17 L73.16 396.45 L76.33 396.72 L79.91 396.97 L84 397.2 L88.67 397.42 L93.86 397.62 L99.46 397.82 L105.38 398 L111.49 398.16 L117.7 398.3 L123.91 398.42 L130 398.5 L136.16 398.55 L142.57 398.57 L149.12 398.57 L155.69 398.54 L162.17 398.49 L168.46 398.43 L174.44 398.37 L180 398.3 L185.21 398.23 L190.21 398.15 L194.99 398.06 L199.53 397.96 L203.82 397.84 L207.83 397.71 L211.56 397.57 L215 397.4 L218.07 397.22 L220.77 397.03 L223.15 396.82 L225.28 396.59 L227.22 396.35 L229.03 396.09 L230.77 395.81 L232.5 395.5 L234.17 395.18 L235.68 394.85 L237.06 394.5 L238.35 394.13 L239.56 393.73 L240.72 393.3 L241.86 392.82 L243 392.3 L244.13 391.73 L245.24 391.11 L246.3 390.45 L247.32 389.75 L248.29 389.02 L249.22 388.27 L250.09 387.49 L250.9 386.7 L251.64 385.89 L252.31 385.05 L252.92 384.18 L253.49 383.29 L254.02 382.37 L254.52 381.44 L255.01 380.48 L255.5 379.5 L255.98 378.52 L256.42 377.55 L256.85 376.57 L257.25 375.56 L257.64 374.5 L258.03 373.39 L258.41 372.19 L258.8 370.9 L259.19 369.51 L259.58 368.02 L259.96 366.46 L260.33 364.84 L260.7 363.17 L261.07 361.46 L261.44 359.73 L261.8 358 L262.18 356.14 L262.58 354.09 L262.99 351.94 L263.39 349.79 L263.76 347.75 L264.1 345.9 L264.39 344.35 L264.6 343.2" fill="none" stroke="#b066f2" stroke-width="1.9" stroke-linejoin="round" stroke-linecap="round" />
<path d="M36.2 411 L36.45 411.32 L36.78 411.75 L37.17 412.27 L37.61 412.84 L38.07 413.43 L38.56 414 L39.04 414.54 L39.5 415 L39.87 415.41 L40.14 415.8 L40.36 416.18 L40.62 416.54 L40.98 416.86 L41.52 417.15 L42.3 417.4 L43.4 417.6 L44.5 417.74 L45.41 417.82 L46.35 417.85 L47.57 417.85 L49.31 417.83 L51.8 417.81 L55.28 417.79 L60 417.8 L66.33 417.82 L74.21 417.82 L83.22 417.81 L92.91 417.81 L102.87 417.82 L112.65 417.85 L121.84 417.91 L130 418 L137.31 418.12 L144.25 418.26 L150.86 418.43 L157.17 418.61 L163.21 418.82 L169 419.05 L174.59 419.31 L180 419.6 L185.3 419.92 L190.48 420.28 L195.48 420.67 L200.23 421.08 L204.66 421.5 L208.69 421.93 L212.26 422.37 L215.3 422.8 L217.67 423.22 L219.38 423.64 L220.58 424.05 L221.41 424.48 L222.02 424.92 L222.56 425.39 L223.17 425.88 L224 426.4 L224.97 426.96 L225.92 427.55 L226.85 428.16 L227.74 428.79 L228.62 429.45 L229.47 430.12 L230.3 430.8 L231.1 431.5 L231.88 432.2 L232.62 432.91 L233.34 433.64 L234.04 434.38 L234.72 435.14 L235.38 435.93 L236.04 436.74 L236.7 437.6 L237.35 438.49 L237.98 439.4 L238.6 440.34 L239.21 441.31 L239.81 442.3 L240.41 443.34 L241 444.4 L241.6 445.5 L242.2 446.63 L242.8 447.79 L243.4 448.97 L244 450.19 L244.59 451.45 L245.17 452.75 L245.74 454.1 L246.3 455.5 L246.83 456.91 L247.33 458.29 L247.82 459.7 L248.29 461.17 L248.78 462.73 L249.28 464.41 L249.82 466.25 L250.4 468.3 L251.03 470.57 L251.7 473.04 L252.4 475.67 L253.12 478.43 L253.86 481.27 L254.59 484.18 L255.3 487.1 L256 490 L256.71 493.09 L257.47 496.48 L258.24 500.02 L259 503.56 L259.71 506.92 L260.35 509.95 L260.89 512.5 L261.3 514.4" fill="none" stroke="#b066f2" stroke-width="1.9" stroke-linejoin="round" stroke-linecap="round" />
<path d="M36.5 432 L36.58 430.22 L36.69 427.77 L36.81 424.83 L36.96 421.62 L37.11 418.34 L37.27 415.17 L37.44 412.33 L37.6 410 L37.76 408.12 L37.91 406.45 L38.07 404.99 L38.24 403.71 L38.42 402.59 L38.62 401.61 L38.84 400.76 L39.1 400 L39.29 399.4 L39.37 398.99 L39.42 398.74 L39.52 398.61 L39.75 398.57 L40.18 398.58 L40.91 398.6 L42 398.6 L43.38 398.61 L44.92 398.68 L46.68 398.79 L48.68 398.94 L50.98 399.1 L53.6 399.28 L56.59 399.45 L60 399.6 L63.88 399.75 L68.22 399.91 L72.95 400.07 L78 400.24 L83.3 400.41 L88.78 400.56 L94.37 400.69 L100 400.8 L105.77 400.88 L111.8 400.95 L118.02 401 L124.38 401.04 L130.81 401.07 L137.27 401.09 L143.68 401.1 L150 401.1 L156.32 401.1 L162.73 401.09 L169.19 401.07 L175.62 401.04 L181.98 401 L188.2 400.95 L194.23 400.88 L200 400.8 L205.62 400.7 L211.17 400.58 L216.61 400.45 L221.88 400.3 L226.9 400.14 L231.64 399.97 L236.03 399.79 L240 399.6 L243.53 399.4 L246.64 399.2 L249.4 398.99 L251.88 398.77 L254.11 398.53 L256.17 398.28 L258.12 398 L260 397.7 L261.76 397.38 L263.3 397.03 L264.66 396.66 L265.88 396.28 L266.98 395.88 L268.02 395.47 L269.01 395.04 L270 394.6 L270.96 394.15 L271.84 393.69 L272.65 393.21 L273.41 392.73 L274.11 392.22 L274.77 391.7 L275.4 391.16 L276 390.6 L276.56 390.05 L277.06 389.51 L277.52 388.96 L277.94 388.39 L278.33 387.78 L278.72 387.11 L279.1 386.36 L279.5 385.5 L279.9 384.57 L280.29 383.59 L280.66 382.55 L281.03 381.43 L281.4 380.23 L281.76 378.94 L282.13 377.53 L282.5 376 L282.88 374.32 L283.27 372.48 L283.66 370.51 L284.06 368.46 L284.44 366.34 L284.81 364.21 L285.17 362.08 L285.5 360 L285.82 357.82 L286.14 355.46 L286.45 353.02 L286.74 350.6 L287.01 348.3 L287.24 346.24 L287.44 344.5 L287.6 343.2" fill="none" stroke="#2c7042" stroke-width="1.9" stroke-linejoin="round" stroke-linecap="round" />
<path d="M36.3 402 L36.46 402.73 L36.66 403.75 L36.91 404.97 L37.18 406.3 L37.48 407.65 L37.81 408.95 L38.15 410.09 L38.5 411 L38.78 411.7 L38.94 412.27 L39.08 412.75 L39.26 413.14 L39.57 413.46 L40.08 413.73 L40.86 413.97 L42 414.2 L43.2 414.39 L44.26 414.5 L45.4 414.56 L46.84 414.59 L48.8 414.59 L51.5 414.58 L55.16 414.58 L60 414.6 L66.4 414.63 L74.31 414.65 L83.32 414.66 L93 414.68 L102.93 414.69 L112.69 414.71 L121.85 414.75 L130 414.8 L137.31 414.87 L144.26 414.94 L150.87 415.02 L157.19 415.11 L163.23 415.22 L169.02 415.33 L174.6 415.46 L180 415.6 L185.22 415.76 L190.23 415.94 L195.01 416.13 L199.56 416.34 L203.85 416.55 L207.87 416.77 L211.59 416.98 L215 417.2 L218.03 417.41 L220.66 417.62 L222.96 417.83 L225 418.04 L226.86 418.26 L228.59 418.5 L230.29 418.74 L232 419 L233.69 419.27 L235.27 419.56 L236.74 419.85 L238.12 420.16 L239.43 420.47 L240.67 420.8 L241.86 421.14 L243 421.5 L244.08 421.86 L245.08 422.24 L246.01 422.62 L246.88 423.01 L247.7 423.42 L248.48 423.86 L249.25 424.32 L250 424.8 L250.73 425.31 L251.43 425.83 L252.09 426.38 L252.72 426.95 L253.32 427.54 L253.9 428.17 L254.46 428.82 L255 429.5 L255.51 430.22 L255.98 430.96 L256.42 431.74 L256.84 432.54 L257.25 433.37 L257.66 434.23 L258.07 435.1 L258.5 436 L258.93 436.91 L259.36 437.82 L259.79 438.76 L260.22 439.72 L260.65 440.71 L261.09 441.75 L261.54 442.85 L262 444 L262.48 445.22 L262.96 446.5 L263.46 447.84 L263.97 449.22 L264.48 450.63 L264.99 452.07 L265.5 453.53 L266 455 L266.5 456.48 L267 458 L267.5 459.53 L268 461.09 L268.5 462.67 L269 464.27 L269.5 465.88 L270 467.5 L270.49 469.12 L270.98 470.73 L271.46 472.34 L271.94 473.98 L272.43 475.65 L272.93 477.37 L273.45 479.15 L274 481 L274.58 482.94 L275.18 484.97 L275.8 487.07 L276.44 489.21 L277.08 491.37 L277.73 493.54 L278.37 495.69 L279 497.8 L279.66 500 L280.37 502.35 L281.09 504.77 L281.81 507.15 L282.49 509.4 L283.1 511.42 L283.61 513.12 L284 514.4" fill="none" stroke="#2c7042" stroke-width="1.9" stroke-linejoin="round" stroke-linecap="round" />
<path d="M36.3 456 L36.39 453.51 L36.5 450.1 L36.64 446.03 L36.79 441.56 L36.96 436.96 L37.14 432.49 L37.32 428.42 L37.5 425 L37.68 422.13 L37.88 419.49 L38.07 417.09 L38.28 414.9 L38.5 412.91 L38.72 411.11 L38.96 409.47 L39.2 408 L39.44 406.74 L39.68 405.71 L39.92 404.9 L40.18 404.26 L40.45 403.74 L40.76 403.32 L41.1 402.95 L41.5 402.6 L41.62 402.31 L41.31 402.15 L40.85 402.07 L40.52 402.08 L40.59 402.12 L41.34 402.19 L43.05 402.26 L46 402.3 L50.41 402.33 L56.11 402.4 L62.8 402.48 L70.16 402.57 L77.87 402.66 L85.62 402.76 L93.1 402.84 L100 402.9 L106.3 402.95 L112.31 402.99 L118.16 403.04 L124 403.07 L129.96 403.09 L136.19 403.11 L142.82 403.11 L150 403.1 L158 403.07 L166.8 403.04 L176.1 402.99 L185.62 402.93 L195.07 402.85 L204.14 402.78 L212.55 402.69 L220 402.6 L226.57 402.5 L232.58 402.4 L238.08 402.3 L243.12 402.18 L247.78 402.06 L252.11 401.92 L256.16 401.77 L260 401.6 L263.53 401.42 L266.66 401.22 L269.45 401.01 L271.94 400.79 L274.18 400.56 L276.24 400.32 L278.16 400.06 L280 399.8 L281.69 399.52 L283.14 399.23 L284.4 398.93 L285.5 398.61 L286.47 398.29 L287.36 397.96 L288.19 397.63 L289 397.3 L289.75 396.98 L290.38 396.68 L290.91 396.39 L291.38 396.09 L291.79 395.76 L292.19 395.4 L292.58 394.98 L293 394.5 L293.42 393.99 L293.82 393.49 L294.2 392.96 L294.56 392.39 L294.92 391.73 L295.27 390.97 L295.63 390.06 L296 389 L296.38 387.78 L296.75 386.43 L297.12 384.97 L297.5 383.39 L297.88 381.7 L298.25 379.9 L298.62 378 L299 376 L299.38 373.81 L299.77 371.39 L300.17 368.81 L300.56 366.16 L300.95 363.5 L301.32 360.92 L301.67 358.49 L302 356.3 L302.31 354.26 L302.62 352.25 L302.91 350.33 L303.19 348.52 L303.44 346.86 L303.66 345.4 L303.85 344.17 L304 343.2" fill="none" stroke="#3a6ff2" stroke-width="1.9" stroke-linejoin="round" stroke-linecap="round" />
<path d="M36.3 396 L36.42 396.98 L36.57 398.33 L36.76 399.95 L36.96 401.71 L37.19 403.51 L37.44 405.24 L37.71 406.77 L38 408 L38.27 408.96 L38.52 409.77 L38.77 410.45 L39.04 411.02 L39.38 411.51 L39.8 411.92 L40.33 412.28 L41 412.6 L41.56 412.85 L41.87 413 L42.13 413.07 L42.56 413.08 L43.36 413.06 L44.73 413.02 L46.87 412.99 L50 413 L54.08 413.02 L58.91 413.03 L64.43 413.04 L70.56 413.04 L77.25 413.04 L84.43 413.05 L92.03 413.07 L100 413.1 L108.7 413.15 L118.36 413.21 L128.68 413.27 L139.38 413.34 L150.15 413.42 L160.7 413.51 L170.75 413.6 L180 413.7 L188.76 413.8 L197.46 413.91 L205.94 414.03 L214.06 414.16 L221.67 414.29 L228.63 414.42 L234.79 414.56 L240 414.7 L244.07 414.84 L247.05 414.98 L249.18 415.13 L250.69 415.27 L251.79 415.43 L252.73 415.6 L253.72 415.79 L255 416 L256.44 416.23 L257.75 416.47 L258.97 416.72 L260.09 416.99 L261.15 417.28 L262.14 417.57 L263.08 417.88 L264 418.2 L264.87 418.52 L265.66 418.85 L266.39 419.19 L267.07 419.54 L267.71 419.91 L268.32 420.3 L268.91 420.73 L269.5 421.2 L270.07 421.7 L270.61 422.21 L271.11 422.75 L271.6 423.32 L272.07 423.92 L272.52 424.57 L272.96 425.26 L273.4 426 L273.83 426.81 L274.25 427.69 L274.65 428.61 L275.04 429.58 L275.42 430.57 L275.79 431.56 L276.15 432.54 L276.5 433.5 L276.83 434.42 L277.13 435.32 L277.42 436.2 L277.7 437.09 L277.98 438 L278.27 438.95 L278.57 439.94 L278.9 441 L279.24 442.1 L279.59 443.23 L279.95 444.39 L280.32 445.59 L280.7 446.85 L281.11 448.16 L281.54 449.54 L282 451 L282.5 452.55 L283.03 454.2 L283.58 455.91 L284.16 457.69 L284.75 459.5 L285.34 461.34 L285.93 463.17 L286.5 465 L287.06 466.82 L287.61 468.64 L288.17 470.49 L288.72 472.34 L289.28 474.22 L289.84 476.12 L290.41 478.05 L291 480 L291.6 481.98 L292.2 483.99 L292.81 486.02 L293.43 488.07 L294.06 490.14 L294.7 492.24 L295.34 494.36 L296 496.5 L296.71 498.79 L297.49 501.3 L298.3 503.9 L299.11 506.48 L299.88 508.94 L300.58 511.15 L301.16 513.01 L301.6 514.4" fill="none" stroke="#3a6ff2" stroke-width="1.9" stroke-linejoin="round" stroke-linecap="round" />
<path d="M36.4 486 L36.54 484.15 L36.72 481.69 L36.93 478.76 L37.17 475.5 L37.42 472.05 L37.69 468.56 L37.95 465.16 L38.2 462 L38.45 459 L38.71 456 L38.98 453 L39.25 450 L39.52 447 L39.79 444 L40.05 441 L40.3 438 L40.54 434.89 L40.76 431.62 L40.97 428.3 L41.18 425 L41.39 421.83 L41.61 418.88 L41.85 416.23 L42.1 414 L42.36 412.19 L42.63 410.73 L42.91 409.55 L43.19 408.61 L43.49 407.84 L43.81 407.18 L44.14 406.59 L44.5 406 L44.55 405.47 L44.16 405.09 L43.6 404.82 L43.15 404.64 L43.09 404.53 L43.69 404.45 L45.23 404.38 L48 404.3 L51.85 404.23 L56.46 404.2 L61.84 404.21 L67.97 404.25 L74.85 404.3 L82.49 404.35 L90.87 404.38 L100 404.4 L110.34 404.4 L122.09 404.4 L134.86 404.39 L148.25 404.38 L161.86 404.37 L175.28 404.35 L188.13 404.33 L200 404.3 L211.37 404.27 L222.81 404.23 L234.1 404.19 L245 404.14 L255.27 404.09 L264.69 404.03 L273.01 403.97 L280 403.9 L285.47 403.83 L289.55 403.76 L292.51 403.68 L294.62 403.6 L296.16 403.51 L297.39 403.42 L298.58 403.31 L300 403.2 L301.43 403.08 L302.53 402.96 L303.36 402.83 L304 402.69 L304.51 402.55 L304.97 402.38 L305.44 402.2 L306 402 L306.61 401.78 L307.18 401.56 L307.72 401.32 L308.23 401.06 L308.71 400.79 L309.17 400.49 L309.6 400.16 L310 399.8 L310.37 399.43 L310.71 399.06 L311.01 398.68 L311.29 398.26 L311.56 397.8 L311.81 397.28 L312.05 396.69 L312.3 396 L312.53 395.27 L312.73 394.54 L312.92 393.77 L313.09 392.93 L313.28 391.96 L313.48 390.84 L313.72 389.54 L314 388 L314.32 386.23 L314.68 384.27 L315.06 382.14 L315.46 379.84 L315.88 377.4 L316.32 374.83 L316.76 372.16 L317.2 369.4 L317.68 366.31 L318.22 362.77 L318.78 358.98 L319.35 355.14 L319.89 351.44 L320.38 348.09 L320.79 345.27 L321.1 343.2" fill="none" stroke="#f2591d" stroke-width="1.9" stroke-linejoin="round" stroke-linecap="round" />
<path d="M36.3 374 L36.37 375.42 L36.46 377.35 L36.57 379.65 L36.69 382.19 L36.83 384.83 L36.98 387.43 L37.13 389.87 L37.3 392 L37.47 393.91 L37.65 395.77 L37.83 397.56 L38.02 399.26 L38.24 400.87 L38.47 402.37 L38.72 403.75 L39 405 L39.29 406.11 L39.59 407.08 L39.9 407.93 L40.23 408.68 L40.6 409.32 L41.01 409.88 L41.47 410.37 L42 410.8 L42.29 411.13 L42.21 411.33 L42.01 411.43 L41.94 411.46 L42.25 411.44 L43.2 411.41 L45.03 411.38 L48 411.4 L52.11 411.43 L57.11 411.44 L62.9 411.44 L69.38 411.44 L76.43 411.43 L83.95 411.44 L91.85 411.46 L100 411.5 L108.8 411.57 L118.5 411.65 L128.83 411.74 L139.5 411.84 L150.23 411.95 L160.75 412.07 L170.77 412.19 L180 412.3 L188.7 412.41 L197.23 412.53 L205.5 412.66 L213.44 412.78 L220.94 412.91 L227.93 413.04 L234.31 413.17 L240 413.3 L244.87 413.43 L248.95 413.55 L252.38 413.68 L255.31 413.81 L257.9 413.94 L260.27 414.08 L262.59 414.23 L265 414.4 L267.41 414.58 L269.64 414.77 L271.71 414.97 L273.62 415.18 L275.4 415.4 L277.05 415.63 L278.58 415.86 L280 416.1 L281.28 416.35 L282.38 416.6 L283.34 416.86 L284.19 417.13 L284.95 417.4 L285.65 417.69 L286.32 417.99 L287 418.3 L287.65 418.62 L288.25 418.94 L288.79 419.27 L289.29 419.61 L289.75 419.97 L290.18 420.35 L290.6 420.76 L291 421.2 L291.38 421.66 L291.73 422.15 L292.05 422.65 L292.35 423.18 L292.63 423.74 L292.89 424.32 L293.15 424.94 L293.4 425.6 L293.64 426.29 L293.86 427.02 L294.06 427.78 L294.25 428.58 L294.44 429.39 L294.62 430.24 L294.81 431.11 L295 432 L295.19 432.91 L295.38 433.84 L295.56 434.79 L295.75 435.77 L295.94 436.78 L296.14 437.82 L296.36 438.89 L296.6 440 L296.85 441.11 L297.11 442.22 L297.37 443.34 L297.65 444.5 L297.95 445.72 L298.27 447.03 L298.62 448.45 L299 450 L299.42 451.72 L299.89 453.6 L300.38 455.6 L300.9 457.69 L301.43 459.81 L301.96 461.93 L302.49 464.01 L303 466 L303.49 467.91 L303.98 469.79 L304.46 471.63 L304.94 473.47 L305.43 475.31 L305.93 477.17 L306.45 479.06 L307 481 L307.58 482.99 L308.17 485.01 L308.79 487.06 L309.42 489.13 L310.06 491.22 L310.71 493.31 L311.35 495.41 L312 497.5 L312.68 499.71 L313.43 502.09 L314.2 504.55 L314.96 506.98 L315.69 509.28 L316.34 511.35 L316.89 513.09 L317.3 514.4" fill="none" stroke="#f2591d" stroke-width="1.9" stroke-linejoin="round" stroke-linecap="round" />
<path d="M36.6 432 L36.82 430.36 L37.12 428.06 L37.47 425.32 L37.86 422.34 L38.28 419.31 L38.7 416.44 L39.11 413.94 L39.5 412 L39.86 410.6 L40.21 409.52 L40.55 408.72 L40.9 408.12 L41.26 407.68 L41.64 407.31 L42.05 406.97 L42.5 406.6 L42.66 406.24 L42.38 405.97 L41.95 405.78 L41.62 405.65 L41.69 405.56 L42.43 405.5 L44.11 405.45 L47 405.4 L50.98 405.36 L55.74 405.36 L61.26 405.38 L67.53 405.42 L74.55 405.48 L82.31 405.53 L90.79 405.57 L100 405.6 L110.39 405.61 L122.16 405.62 L134.94 405.63 L148.31 405.64 L161.9 405.64 L175.3 405.63 L188.14 405.62 L200 405.6 L211.33 405.57 L222.7 405.53 L233.88 405.49 L244.69 405.44 L254.91 405.38 L264.34 405.32 L272.77 405.26 L280 405.2 L285.87 405.14 L290.49 405.07 L294.11 405.01 L296.94 404.94 L299.21 404.86 L301.16 404.78 L303.02 404.7 L305 404.6 L306.92 404.5 L308.48 404.4 L309.74 404.3 L310.78 404.19 L311.66 404.07 L312.44 403.93 L313.2 403.78 L314 403.6 L314.79 403.41 L315.49 403.2 L316.1 402.97 L316.66 402.73 L317.16 402.47 L317.62 402.2 L318.06 401.91 L318.5 401.6 L318.92 401.28 L319.29 400.96 L319.63 400.62 L319.94 400.27 L320.22 399.89 L320.49 399.47 L320.75 399.01 L321 398.5 L321.21 398.05 L321.36 397.72 L321.48 397.41 L321.59 397.03 L321.72 396.49 L321.9 395.7 L322.15 394.57 L322.5 393 L322.96 390.93 L323.51 388.43 L324.14 385.59 L324.81 382.49 L325.51 379.24 L326.22 375.91 L326.92 372.6 L327.6 369.4 L328.3 366.07 L329.06 362.42 L329.84 358.61 L330.62 354.82 L331.36 351.22 L332.02 347.97 L332.58 345.24 L333 343.2" fill="none" stroke="#444444" stroke-width="1.9" stroke-linejoin="round" stroke-linecap="round" />
<path d="M36.6 400 L36.77 400.66 L36.99 401.58 L37.25 402.68 L37.55 403.88 L37.88 405.09 L38.23 406.23 L38.61 407.23 L39 408 L39.2 408.55 L39.11 408.96 L38.93 409.26 L38.84 409.47 L39.01 409.63 L39.64 409.75 L40.91 409.87 L43 410 L45.75 410.13 L48.92 410.21 L52.57 410.26 L56.75 410.29 L61.53 410.31 L66.95 410.32 L73.09 410.35 L80 410.4 L87.94 410.46 L96.98 410.52 L106.85 410.58 L117.31 410.64 L128.11 410.71 L138.99 410.8 L149.71 410.89 L160 411 L170.27 411.13 L180.94 411.29 L191.76 411.45 L202.5 411.63 L212.93 411.81 L222.81 411.99 L231.91 412.15 L240 412.3 L247.1 412.43 L253.45 412.55 L259.12 412.66 L264.19 412.77 L268.74 412.87 L272.84 412.98 L276.57 413.09 L280 413.2 L282.96 413.32 L285.31 413.44 L287.16 413.56 L288.62 413.68 L289.82 413.81 L290.88 413.93 L291.89 414.06 L293 414.2 L294.1 414.34 L295.05 414.47 L295.88 414.61 L296.6 414.75 L297.25 414.9 L297.85 415.05 L298.42 415.22 L299 415.4 L299.56 415.59 L300.06 415.78 L300.52 415.99 L300.94 416.2 L301.33 416.43 L301.7 416.67 L302.05 416.92 L302.4 417.2 L302.73 417.48 L303.04 417.77 L303.33 418.06 L303.59 418.37 L303.85 418.71 L304.1 419.09 L304.35 419.51 L304.6 420 L304.85 420.54 L305.09 421.13 L305.33 421.75 L305.56 422.43 L305.79 423.14 L306.03 423.89 L306.26 424.67 L306.5 425.5 L306.74 426.36 L306.98 427.27 L307.22 428.21 L307.46 429.19 L307.7 430.21 L307.96 431.27 L308.22 432.36 L308.5 433.5 L308.79 434.65 L309.08 435.81 L309.37 436.99 L309.68 438.22 L310 439.51 L310.34 440.89 L310.71 442.38 L311.1 444 L311.52 445.76 L311.97 447.64 L312.45 449.63 L312.94 451.71 L313.44 453.86 L313.96 456.05 L314.48 458.27 L315 460.5 L315.53 462.77 L316.07 465.12 L316.63 467.52 L317.19 469.96 L317.75 472.41 L318.31 474.85 L318.86 477.25 L319.4 479.6 L319.93 481.9 L320.46 484.18 L320.98 486.44 L321.49 488.69 L322 490.91 L322.51 493.12 L323.01 495.32 L323.5 497.5 L324.01 499.78 L324.54 502.19 L325.08 504.65 L325.61 507.07 L326.1 509.34 L326.54 511.39 L326.92 513.1 L327.2 514.4" fill="none" stroke="#444444" stroke-width="1.9" stroke-linejoin="round" stroke-linecap="round" />
<line x1="35.9" y1="320.7" x2="359.6" y2="320.7" stroke="#1c1c1c" stroke-width="1.25" />
<line x1="359.6" y1="320.7" x2="359.6" y2="536.3" stroke="#1c1c1c" stroke-width="1.25" />
<line x1="35.9" y1="320.1" x2="35.9" y2="537.1" stroke="#1c1c1c" stroke-width="1.7" />
<line x1="35.1" y1="536.3" x2="360.2" y2="536.3" stroke="#1c1c1c" stroke-width="1.6" />
<line x1="34" y1="536.3" x2="35.9" y2="536.3" stroke="#1c1c1c" stroke-width="1.3" />
<line x1="34" y1="524.95" x2="35.9" y2="524.95" stroke="#1c1c1c" stroke-width="1.3" />
<line x1="32.7" y1="513.61" x2="35.9" y2="513.61" stroke="#1c1c1c" stroke-width="1.5" />
<text transform="translate(31 517.4) scale(1.13 1)" font-size="10.7" font-weight="bold" fill="#111" text-anchor="end" font-family='"Liberation Sans", sans-serif' >2.5</text>
<line x1="34" y1="502.26" x2="35.9" y2="502.26" stroke="#1c1c1c" stroke-width="1.3" />
<line x1="34" y1="490.91" x2="35.9" y2="490.91" stroke="#1c1c1c" stroke-width="1.3" />
<line x1="34" y1="479.56" x2="35.9" y2="479.56" stroke="#1c1c1c" stroke-width="1.3" />
<line x1="34" y1="468.22" x2="35.9" y2="468.22" stroke="#1c1c1c" stroke-width="1.3" />
<line x1="32.7" y1="456.87" x2="35.9" y2="456.87" stroke="#1c1c1c" stroke-width="1.5" />
<text transform="translate(31 460.67) scale(1.13 1)" font-size="10.7" font-weight="bold" fill="#111" text-anchor="end" font-family='"Liberation Sans", sans-serif' >3.0</text>
<line x1="34" y1="445.52" x2="35.9" y2="445.52" stroke="#1c1c1c" stroke-width="1.3" />
<line x1="34" y1="434.18" x2="35.9" y2="434.18" stroke="#1c1c1c" stroke-width="1.3" />
<line x1="34" y1="422.83" x2="35.9" y2="422.83" stroke="#1c1c1c" stroke-width="1.3" />
<line x1="34" y1="411.48" x2="35.9" y2="411.48" stroke="#1c1c1c" stroke-width="1.3" />
<line x1="32.7" y1="400.13" x2="35.9" y2="400.13" stroke="#1c1c1c" stroke-width="1.5" />
<text transform="translate(31 403.94) scale(1.13 1)" font-size="10.7" font-weight="bold" fill="#111" text-anchor="end" font-family='"Liberation Sans", sans-serif' >3.5</text>
<line x1="34" y1="388.79" x2="35.9" y2="388.79" stroke="#1c1c1c" stroke-width="1.3" />
<line x1="34" y1="377.44" x2="35.9" y2="377.44" stroke="#1c1c1c" stroke-width="1.3" />
<line x1="34" y1="366.09" x2="35.9" y2="366.09" stroke="#1c1c1c" stroke-width="1.3" />
<line x1="34" y1="354.75" x2="35.9" y2="354.75" stroke="#1c1c1c" stroke-width="1.3" />
<line x1="32.7" y1="343.4" x2="35.9" y2="343.4" stroke="#1c1c1c" stroke-width="1.5" />
<text transform="translate(31 347.2) scale(1.13 1)" font-size="10.7" font-weight="bold" fill="#111" text-anchor="end" font-family='"Liberation Sans", sans-serif' >4.0</text>
<line x1="34" y1="332.05" x2="35.9" y2="332.05" stroke="#1c1c1c" stroke-width="1.3" />
<line x1="35.9" y1="536.3" x2="35.9" y2="539.5" stroke="#1c1c1c" stroke-width="1.5" />
<text transform="translate(35.9 550.5) scale(1.13 1)" font-size="10.7" font-weight="bold" fill="#111" text-anchor="middle" font-family='"Liberation Sans", sans-serif' >0</text>
<line x1="43.5" y1="536.3" x2="43.5" y2="538.3" stroke="#1c1c1c" stroke-width="1.3" />
<line x1="51.1" y1="536.3" x2="51.1" y2="538.3" stroke="#1c1c1c" stroke-width="1.3" />
<line x1="58.7" y1="536.3" x2="58.7" y2="538.3" stroke="#1c1c1c" stroke-width="1.3" />
<line x1="66.3" y1="536.3" x2="66.3" y2="538.3" stroke="#1c1c1c" stroke-width="1.3" />
<line x1="73.9" y1="536.3" x2="73.9" y2="539.5" stroke="#1c1c1c" stroke-width="1.5" />
<text transform="translate(73.9 550.5) scale(1.13 1)" font-size="10.7" font-weight="bold" fill="#111" text-anchor="middle" font-family='"Liberation Sans", sans-serif' >20</text>
<line x1="81.5" y1="536.3" x2="81.5" y2="538.3" stroke="#1c1c1c" stroke-width="1.3" />
<line x1="89.1" y1="536.3" x2="89.1" y2="538.3" stroke="#1c1c1c" stroke-width="1.3" />
<line x1="96.7" y1="536.3" x2="96.7" y2="538.3" stroke="#1c1c1c" stroke-width="1.3" />
<line x1="104.3" y1="536.3" x2="104.3" y2="538.3" stroke="#1c1c1c" stroke-width="1.3" />
<line x1="111.9" y1="536.3" x2="111.9" y2="539.5" stroke="#1c1c1c" stroke-width="1.5" />
<text transform="translate(111.9 550.5) scale(1.13 1)" font-size="10.7" font-weight="bold" fill="#111" text-anchor="middle" font-family='"Liberation Sans", sans-serif' >40</text>
<line x1="119.5" y1="536.3" x2="119.5" y2="538.3" stroke="#1c1c1c" stroke-width="1.3" />
<line x1="127.1" y1="536.3" x2="127.1" y2="538.3" stroke="#1c1c1c" stroke-width="1.3" />
<line x1="134.7" y1="536.3" x2="134.7" y2="538.3" stroke="#1c1c1c" stroke-width="1.3" />
<line x1="142.3" y1="536.3" x2="142.3" y2="538.3" stroke="#1c1c1c" stroke-width="1.3" />
<line x1="149.9" y1="536.3" x2="149.9" y2="539.5" stroke="#1c1c1c" stroke-width="1.5" />
<text transform="translate(149.9 550.5) scale(1.13 1)" font-size="10.7" font-weight="bold" fill="#111" text-anchor="middle" font-family='"Liberation Sans", sans-serif' >60</text>
<line x1="157.5" y1="536.3" x2="157.5" y2="538.3" stroke="#1c1c1c" stroke-width="1.3" />
<line x1="165.1" y1="536.3" x2="165.1" y2="538.3" stroke="#1c1c1c" stroke-width="1.3" />
<line x1="172.7" y1="536.3" x2="172.7" y2="538.3" stroke="#1c1c1c" stroke-width="1.3" />
<line x1="180.3" y1="536.3" x2="180.3" y2="538.3" stroke="#1c1c1c" stroke-width="1.3" />
<line x1="187.9" y1="536.3" x2="187.9" y2="539.5" stroke="#1c1c1c" stroke-width="1.5" />
<text transform="translate(187.9 550.5) scale(1.13 1)" font-size="10.7" font-weight="bold" fill="#111" text-anchor="middle" font-family='"Liberation Sans", sans-serif' >80</text>
<line x1="195.5" y1="536.3" x2="195.5" y2="538.3" stroke="#1c1c1c" stroke-width="1.3" />
<line x1="203.1" y1="536.3" x2="203.1" y2="538.3" stroke="#1c1c1c" stroke-width="1.3" />
<line x1="210.7" y1="536.3" x2="210.7" y2="538.3" stroke="#1c1c1c" stroke-width="1.3" />
<line x1="218.3" y1="536.3" x2="218.3" y2="538.3" stroke="#1c1c1c" stroke-width="1.3" />
<line x1="225.9" y1="536.3" x2="225.9" y2="539.5" stroke="#1c1c1c" stroke-width="1.5" />
<text transform="translate(225.9 550.5) scale(1.13 1)" font-size="10.7" font-weight="bold" fill="#111" text-anchor="middle" font-family='"Liberation Sans", sans-serif' >100</text>
<line x1="233.5" y1="536.3" x2="233.5" y2="538.3" stroke="#1c1c1c" stroke-width="1.3" />
<line x1="241.1" y1="536.3" x2="241.1" y2="538.3" stroke="#1c1c1c" stroke-width="1.3" />
<line x1="248.7" y1="536.3" x2="248.7" y2="538.3" stroke="#1c1c1c" stroke-width="1.3" />
<line x1="256.3" y1="536.3" x2="256.3" y2="538.3" stroke="#1c1c1c" stroke-width="1.3" />
<line x1="263.9" y1="536.3" x2="263.9" y2="539.5" stroke="#1c1c1c" stroke-width="1.5" />
<text transform="translate(263.9 550.5) scale(1.13 1)" font-size="10.7" font-weight="bold" fill="#111" text-anchor="middle" font-family='"Liberation Sans", sans-serif' >120</text>
<line x1="271.5" y1="536.3" x2="271.5" y2="538.3" stroke="#1c1c1c" stroke-width="1.3" />
<line x1="279.1" y1="536.3" x2="279.1" y2="538.3" stroke="#1c1c1c" stroke-width="1.3" />
<line x1="286.7" y1="536.3" x2="286.7" y2="538.3" stroke="#1c1c1c" stroke-width="1.3" />
<line x1="294.3" y1="536.3" x2="294.3" y2="538.3" stroke="#1c1c1c" stroke-width="1.3" />
<line x1="301.9" y1="536.3" x2="301.9" y2="539.5" stroke="#1c1c1c" stroke-width="1.5" />
<text transform="translate(301.9 550.5) scale(1.13 1)" font-size="10.7" font-weight="bold" fill="#111" text-anchor="middle" font-family='"Liberation Sans", sans-serif' >140</text>
<line x1="309.5" y1="536.3" x2="309.5" y2="538.3" stroke="#1c1c1c" stroke-width="1.3" />
<line x1="317.1" y1="536.3" x2="317.1" y2="538.3" stroke="#1c1c1c" stroke-width="1.3" />
<line x1="324.7" y1="536.3" x2="324.7" y2="538.3" stroke="#1c1c1c" stroke-width="1.3" />
<line x1="332.3" y1="536.3" x2="332.3" y2="538.3" stroke="#1c1c1c" stroke-width="1.3" />
<line x1="339.9" y1="536.3" x2="339.9" y2="539.5" stroke="#1c1c1c" stroke-width="1.5" />
<text transform="translate(339.9 550.5) scale(1.13 1)" font-size="10.7" font-weight="bold" fill="#111" text-anchor="middle" font-family='"Liberation Sans", sans-serif' >160</text>
<line x1="347.5" y1="536.3" x2="347.5" y2="538.3" stroke="#1c1c1c" stroke-width="1.3" />
<line x1="355.1" y1="536.3" x2="355.1" y2="538.3" stroke="#1c1c1c" stroke-width="1.3" />
<text x="10.3" y="428.2" font-size="13.2" font-weight="bold" fill="#111" text-anchor="middle" font-family='"Liberation Sans", sans-serif' transform="rotate(-90 10.3 428.2)">Voltage (V)</text>
<text x="198" y="563.9" font-size="12.8" font-weight="bold" fill="#111" text-anchor="middle" font-family='"Liberation Sans", sans-serif' >Special capacity (mAh&#183;g<tspan dy="-4.5" font-size="8.5">-1</tspan><tspan dy="4.5">)</tspan></text>
<text transform="translate(4.2 330.4) scale(1.14 1)" font-size="28" font-weight="bold" fill="#000" text-anchor="start" font-family='"Liberation Sans", sans-serif' >e</text>
<text x="82.8" y="450.4" font-size="11.5" font-weight="bold" fill="#111" text-anchor="start" font-family='"Liberation Sans", sans-serif' >CCM-LFP||Li</text>
<line x1="50" y1="514.8" x2="350.2" y2="514.8" stroke="#2a2a2a" stroke-width="1.3" />
<path d="M42.8 514.8 L54.2 512.1 L50.6 514.8 L54.2 517.5 Z" fill="#111"/>
<text x="59.2" y="524.6" font-size="11.2" font-weight="bold" fill="#111" text-anchor="start" font-family='"Liberation Sans", sans-serif' >C-rate</text>
<text transform="translate(220.9 525.2) scale(1.1 1)" font-size="10.8" font-weight="bold" fill="#76464a" text-anchor="middle" font-family='"Liberation Sans", sans-serif' >5</text>
<text transform="translate(231.8 525.2) scale(1.1 1)" font-size="10.8" font-weight="bold" fill="#56d6c6" text-anchor="middle" font-family='"Liberation Sans", sans-serif' >4</text>
<text transform="translate(244.7 525.2) scale(1.1 1)" font-size="10.8" font-weight="bold" fill="#c49a2c" text-anchor="middle" font-family='"Liberation Sans", sans-serif' >3</text>
<text transform="translate(261.6 525.2) scale(1.1 1)" font-size="10.8" font-weight="bold" fill="#a85ef0" text-anchor="middle" font-family='"Liberation Sans", sans-serif' >2</text>
<text transform="translate(284.1 525.2) scale(1.1 1)" font-size="10.8" font-weight="bold" fill="#3d9a56" text-anchor="middle" font-family='"Liberation Sans", sans-serif' >1</text>
<text transform="translate(297.3 525.2) scale(1.1 1)" font-size="12.0" font-weight="bold" fill="#3764e8" text-anchor="middle" font-family='"Liberation Serif", serif' >0.5</text>
<text transform="translate(315.3 525.2) scale(1.1 1)" font-size="10.8" font-weight="bold" fill="#f05a20" text-anchor="middle" font-family='"Liberation Sans", sans-serif' >0.2</text>
<text transform="translate(334.6 525.2) scale(1.1 1)" font-size="10.8" font-weight="bold" fill="#3e3e3e" text-anchor="middle" font-family='"Liberation Sans", sans-serif' >0.1</text>
<path d="M36.1 628.9 L49.2 618.1 L89.2 622.1 L105 621.5 L128.6 616.3 L143 609.7 L160.9 594.5" fill="none" stroke="#6e3a3c" stroke-width="1.9" stroke-linejoin="round" stroke-linecap="round" />
<path d="M36.1 677 L49.1 693.4 L93 697 L110.5 701.3 L128 710 L141.1 718.8 L152 734.2 L158.6 758.3 L160.4 765.4" fill="none" stroke="#6e3a3c" stroke-width="1.9" stroke-linejoin="round" stroke-linecap="round" />
<path d="M36.1 630.5 L45.8 624.2 L60.3 626.8 L89.2 629.4 L112.8 628.8 L139.1 622.8 L162.7 612.3 L179.8 594.5" fill="none" stroke="#5fe2d0" stroke-width="1.9" stroke-linejoin="round" stroke-linecap="round" />
<path d="M36.1 675 L47 683.8 L100 687 L123.6 688.2 L149.9 701.3 L165.2 721 L174 745.1 L179.2 765.4" fill="none" stroke="#5fe2d0" stroke-width="1.9" stroke-linejoin="round" stroke-linecap="round" />
<path d="M36.1 634.7 L44 630 L60.3 633.4 L89.2 636 L126 635.4 L152.2 632.2 L173.3 622.8 L189 609.7 L202.2 594.5" fill="none" stroke="#c8a12f" stroke-width="1.9" stroke-linejoin="round" stroke-linecap="round" />
<path d="M36.1 670.7 L47 680.7 L100 684 L145.5 686 L171.8 694.8 L187.1 714.5 L195.9 740.7 L201.2 765.4" fill="none" stroke="#c8a12f" stroke-width="1.9" stroke-linejoin="round" stroke-linecap="round" />
<path d="M36.2 647 L36.37 646.59 L36.59 646.02 L36.85 645.34 L37.14 644.6 L37.46 643.85 L37.79 643.13 L38.14 642.5 L38.5 642 L38.77 641.61 L38.92 641.28 L39.04 641 L39.19 640.77 L39.48 640.59 L39.97 640.47 L40.75 640.41 L41.9 640.4 L43.25 640.47 L44.65 640.62 L46.2 640.84 L48.03 641.11 L50.24 641.4 L52.95 641.71 L56.27 642.02 L60.3 642.3 L65.23 642.6 L71.02 642.95 L77.49 643.33 L84.41 643.7 L91.61 644.04 L98.87 644.32 L106 644.52 L112.8 644.6 L119.55 644.57 L126.56 644.47 L133.68 644.29 L140.74 644.05 L147.6 643.74 L154.1 643.38 L160.09 642.96 L165.4 642.5 L170.05 641.95 L174.19 641.28 L177.88 640.53 L181.18 639.74 L184.14 638.94 L186.83 638.16 L189.3 637.44 L191.6 636.8 L193.61 636.26 L195.21 635.78 L196.49 635.35 L197.54 634.95 L198.46 634.55 L199.33 634.14 L200.25 633.7 L201.3 633.2 L202.45 632.66 L203.59 632.09 L204.73 631.51 L205.84 630.91 L206.94 630.28 L208 629.64 L209.02 628.98 L210 628.3 L210.93 627.61 L211.81 626.89 L212.66 626.17 L213.47 625.42 L214.27 624.65 L215.05 623.86 L215.82 623.04 L216.6 622.2 L217.38 621.33 L218.15 620.43 L218.91 619.51 L219.66 618.57 L220.39 617.6 L221.11 616.62 L221.82 615.62 L222.5 614.6 L223.16 613.58 L223.8 612.55 L224.42 611.5 L225.03 610.44 L225.63 609.34 L226.22 608.21 L226.81 607.03 L227.4 605.8 L228.02 604.42 L228.68 602.87 L229.35 601.21 L230.01 599.55 L230.63 597.95 L231.18 596.51 L231.65 595.3 L232 594.4" fill="none" stroke="#b066f2" stroke-width="1.9" stroke-linejoin="round" stroke-linecap="round" />
<path d="M36.3 662 L36.49 662.69 L36.73 663.65 L37.01 664.8 L37.34 666.06 L37.7 667.33 L38.1 668.56 L38.53 669.64 L39 670.5 L39.44 671.17 L39.83 671.74 L40.22 672.21 L40.67 672.61 L41.22 672.93 L41.92 673.2 L42.83 673.42 L44 673.6 L45.21 673.71 L46.31 673.71 L47.48 673.64 L48.88 673.52 L50.66 673.39 L53 673.27 L56.06 673.2 L60 673.2 L65.17 673.25 L71.55 673.3 L78.78 673.37 L86.5 673.47 L94.35 673.61 L101.95 673.8 L108.96 674.06 L115 674.4 L120.18 674.85 L124.89 675.41 L129.19 676.05 L133.16 676.74 L136.86 677.45 L140.35 678.13 L143.71 678.76 L147 679.3 L150.12 679.75 L152.98 680.14 L155.62 680.48 L158.1 680.8 L160.46 681.11 L162.77 681.44 L165.06 681.79 L167.4 682.2 L169.77 682.64 L172.1 683.09 L174.41 683.55 L176.66 684.04 L178.86 684.55 L180.99 685.09 L183.04 685.67 L185 686.3 L186.87 686.97 L188.66 687.67 L190.37 688.4 L192.01 689.17 L193.58 689.97 L195.1 690.81 L196.57 691.69 L198 692.6 L199.36 693.53 L200.65 694.48 L201.88 695.45 L203.06 696.46 L204.19 697.53 L205.31 698.67 L206.4 699.88 L207.5 701.2 L208.6 702.63 L209.68 704.15 L210.75 705.77 L211.79 707.45 L212.81 709.18 L213.78 710.95 L214.72 712.72 L215.6 714.5 L216.43 716.29 L217.21 718.12 L217.95 719.97 L218.66 721.86 L219.33 723.76 L219.97 725.67 L220.59 727.58 L221.2 729.5 L221.77 731.39 L222.29 733.25 L222.78 735.1 L223.24 736.97 L223.7 738.88 L224.17 740.86 L224.67 742.92 L225.2 745.1 L225.8 747.55 L226.48 750.32 L227.19 753.26 L227.9 756.23 L228.58 759.07 L229.2 761.64 L229.72 763.8 L230.1 765.4" fill="none" stroke="#b066f2" stroke-width="1.9" stroke-linejoin="round" stroke-linecap="round" />
<path d="M36.8 662 L36.82 661.44 L36.84 660.67 L36.87 659.76 L36.9 658.75 L36.94 657.71 L37.01 656.7 L37.09 655.78 L37.2 655 L37.33 654.33 L37.48 653.71 L37.64 653.13 L37.82 652.6 L38.03 652.12 L38.26 651.69 L38.52 651.32 L38.8 651 L39.02 650.75 L39.14 650.59 L39.23 650.48 L39.38 650.42 L39.65 650.4 L40.12 650.39 L40.88 650.4 L42 650.4 L43.29 650.41 L44.59 650.46 L46.04 650.53 L47.76 650.62 L49.89 650.71 L52.55 650.79 L55.88 650.86 L60 650.9 L65.1 650.92 L71.15 650.93 L77.92 650.94 L85.19 650.93 L92.75 650.92 L100.38 650.89 L107.87 650.85 L115 650.8 L122.05 650.74 L129.34 650.67 L136.72 650.59 L144.06 650.49 L151.21 650.39 L158.01 650.27 L164.32 650.14 L170 650 L175.01 649.85 L179.49 649.69 L183.52 649.53 L187.19 649.35 L190.58 649.15 L193.79 648.93 L196.9 648.68 L200 648.4 L203.03 648.07 L205.89 647.7 L208.58 647.3 L211.12 646.88 L213.53 646.44 L215.8 646.01 L217.95 645.59 L220 645.2 L221.9 644.85 L223.61 644.52 L225.17 644.22 L226.62 643.91 L228 643.59 L229.33 643.25 L230.65 642.85 L232 642.4 L233.36 641.89 L234.68 641.35 L235.97 640.77 L237.22 640.15 L238.46 639.5 L239.66 638.83 L240.84 638.13 L242 637.4 L243.14 636.64 L244.27 635.85 L245.37 635.03 L246.44 634.17 L247.49 633.3 L248.5 632.41 L249.47 631.51 L250.4 630.6 L251.28 629.68 L252.12 628.75 L252.92 627.81 L253.69 626.84 L254.42 625.86 L255.13 624.86 L255.82 623.84 L256.5 622.8 L257.15 621.73 L257.77 620.64 L258.37 619.53 L258.94 618.4 L259.49 617.25 L260.03 616.08 L260.57 614.9 L261.1 613.7 L261.63 612.47 L262.14 611.2 L262.65 609.91 L263.14 608.6 L263.63 607.29 L264.1 606 L264.56 604.73 L265 603.5 L265.45 602.25 L265.9 600.93 L266.36 599.61 L266.79 598.31 L267.2 597.1 L267.56 596.01 L267.87 595.09 L268.1 594.4" fill="none" stroke="#2c7042" stroke-width="1.9" stroke-linejoin="round" stroke-linecap="round" />
<path d="M37.1 653 L37.09 653.55 L37.06 654.29 L37.03 655.18 L37 656.16 L36.98 657.18 L36.96 658.19 L36.97 659.15 L37 660 L37.05 660.78 L37.1 661.56 L37.17 662.33 L37.26 663.06 L37.36 663.76 L37.48 664.41 L37.63 664.99 L37.8 665.5 L37.99 665.93 L38.19 666.29 L38.4 666.58 L38.64 666.82 L38.91 667.03 L39.22 667.2 L39.58 667.36 L40 667.5 L40.42 667.62 L40.82 667.7 L41.23 667.75 L41.7 667.77 L42.27 667.78 L42.98 667.79 L43.88 667.79 L45 667.8 L46.12 667.81 L47.11 667.82 L48.13 667.81 L49.38 667.81 L51.01 667.8 L53.2 667.79 L56.14 667.79 L60 667.8 L64.96 667.8 L70.94 667.77 L77.7 667.74 L85 667.71 L92.62 667.71 L100.31 667.75 L107.85 667.84 L115 668 L122.05 668.22 L129.34 668.49 L136.72 668.81 L144.06 669.17 L151.21 669.57 L158.01 670.01 L164.32 670.49 L170 671 L175.04 671.58 L179.57 672.26 L183.67 672.98 L187.4 673.74 L190.83 674.5 L194.03 675.24 L197.06 675.91 L200 676.5 L202.74 676.97 L205.17 677.33 L207.35 677.63 L209.34 677.91 L211.2 678.2 L212.99 678.55 L214.77 679 L216.6 679.6 L218.44 680.34 L220.21 681.18 L221.93 682.11 L223.61 683.1 L225.24 684.14 L226.84 685.22 L228.43 686.31 L230 687.4 L231.56 688.49 L233.11 689.6 L234.64 690.74 L236.14 691.9 L237.6 693.09 L239.02 694.32 L240.39 695.59 L241.7 696.9 L242.95 698.25 L244.16 699.62 L245.31 701.03 L246.42 702.48 L247.49 703.97 L248.52 705.5 L249.53 707.08 L250.5 708.7 L251.45 710.37 L252.36 712.08 L253.23 713.84 L254.08 715.64 L254.88 717.48 L255.66 719.37 L256.4 721.31 L257.1 723.3 L257.76 725.31 L258.39 727.33 L258.97 729.38 L259.53 731.48 L260.05 733.66 L260.55 735.94 L261.03 738.35 L261.5 740.9 L261.96 743.8 L262.42 747.11 L262.86 750.66 L263.27 754.25 L263.66 757.7 L263.99 760.84 L264.28 763.46 L264.5 765.4" fill="none" stroke="#2c7042" stroke-width="1.9" stroke-linejoin="round" stroke-linecap="round" />
<path d="M37.2 664 L37.21 663.52 L37.21 662.86 L37.21 662.08 L37.21 661.21 L37.23 660.32 L37.26 659.46 L37.32 658.67 L37.4 658 L37.51 657.43 L37.62 656.91 L37.76 656.42 L37.91 655.98 L38.09 655.57 L38.3 655.21 L38.53 654.88 L38.8 654.6 L39.12 654.37 L39.48 654.2 L39.88 654.07 L40.3 653.99 L40.74 653.93 L41.17 653.88 L41.6 653.84 L42 653.8 L41.93 653.76 L41.19 653.73 L40.2 653.72 L39.33 653.72 L38.98 653.74 L39.54 653.75 L41.42 653.78 L45 653.8 L50.44 653.84 L57.44 653.9 L65.68 653.97 L74.88 654.04 L84.71 654.11 L94.88 654.17 L105.07 654.2 L115 654.2 L125.21 654.17 L136.25 654.13 L147.75 654.08 L159.38 654 L170.76 653.91 L181.56 653.79 L191.43 653.66 L200 653.5 L207.27 653.33 L213.57 653.14 L219.06 652.93 L223.9 652.71 L228.25 652.45 L232.28 652.17 L236.14 651.85 L240 651.5 L243.75 651.1 L247.18 650.66 L250.33 650.18 L253.21 649.67 L255.86 649.14 L258.29 648.6 L260.53 648.05 L262.6 647.5 L264.41 646.97 L265.89 646.47 L267.11 645.97 L268.15 645.45 L269.08 644.89 L269.99 644.28 L270.93 643.59 L272 642.8 L273.17 641.9 L274.37 640.9 L275.58 639.83 L276.77 638.7 L277.94 637.53 L279.04 636.35 L280.07 635.16 L281 634 L281.82 632.88 L282.55 631.77 L283.2 630.68 L283.8 629.56 L284.36 628.41 L284.9 627.19 L285.44 625.9 L286 624.5 L286.57 623 L287.12 621.41 L287.66 619.75 L288.18 618.02 L288.7 616.25 L289.2 614.43 L289.7 612.57 L290.2 610.7 L290.71 608.67 L291.25 606.42 L291.79 604.05 L292.31 601.69 L292.81 599.43 L293.25 597.39 L293.62 595.67 L293.9 594.4" fill="none" stroke="#3a6ff2" stroke-width="1.9" stroke-linejoin="round" stroke-linecap="round" />
<path d="M37.6 656 L37.58 656.4 L37.55 656.95 L37.52 657.61 L37.48 658.32 L37.45 659.07 L37.44 659.79 L37.46 660.45 L37.5 661 L37.57 661.47 L37.66 661.9 L37.77 662.29 L37.89 662.66 L38.04 662.99 L38.21 663.29 L38.39 663.56 L38.6 663.8 L38.72 664.01 L38.72 664.18 L38.68 664.31 L38.68 664.42 L38.83 664.5 L39.2 664.58 L39.9 664.64 L41 664.7 L42.33 664.75 L43.74 664.78 L45.33 664.8 L47.21 664.8 L49.51 664.8 L52.33 664.79 L55.79 664.79 L60 664.8 L65.08 664.8 L70.98 664.79 L77.55 664.77 L84.62 664.76 L92.06 664.75 L99.7 664.77 L107.4 664.82 L115 664.9 L122.85 665.02 L131.25 665.18 L139.96 665.36 L148.75 665.56 L157.38 665.78 L165.62 666.02 L173.24 666.26 L180 666.5 L185.95 666.75 L191.33 667 L196.2 667.27 L200.62 667.55 L204.66 667.84 L208.36 668.15 L211.79 668.46 L215 668.8 L217.8 669.14 L220.06 669.49 L221.91 669.85 L223.49 670.22 L224.95 670.62 L226.43 671.05 L228.07 671.5 L230 672 L232.27 672.55 L234.75 673.16 L237.35 673.8 L239.99 674.48 L242.58 675.16 L245.02 675.83 L247.22 676.48 L249.1 677.1 L250.63 677.67 L251.89 678.2 L252.94 678.7 L253.82 679.21 L254.62 679.72 L255.37 680.26 L256.15 680.85 L257 681.5 L257.9 682.22 L258.79 682.99 L259.66 683.8 L260.51 684.64 L261.34 685.51 L262.15 686.38 L262.94 687.25 L263.7 688.1 L264.43 688.94 L265.13 689.78 L265.8 690.63 L266.46 691.48 L267.1 692.33 L267.73 693.2 L268.36 694.09 L269 695 L269.65 695.93 L270.29 696.87 L270.94 697.82 L271.58 698.79 L272.21 699.77 L272.83 700.77 L273.42 701.78 L274 702.8 L274.55 703.84 L275.09 704.91 L275.6 705.99 L276.11 707.08 L276.6 708.18 L277.07 709.29 L277.54 710.4 L278 711.5 L278.45 712.59 L278.88 713.66 L279.31 714.73 L279.72 715.8 L280.12 716.89 L280.52 718.02 L280.91 719.18 L281.3 720.4 L281.69 721.66 L282.07 722.96 L282.44 724.28 L282.81 725.64 L283.17 727.04 L283.53 728.48 L283.87 729.97 L284.2 731.5 L284.52 733.05 L284.82 734.61 L285.11 736.2 L285.39 737.84 L285.67 739.54 L285.95 741.34 L286.22 743.26 L286.5 745.3 L286.79 747.65 L287.11 750.35 L287.43 753.26 L287.74 756.21 L288.04 759.06 L288.31 761.64 L288.53 763.81 L288.7 765.4" fill="none" stroke="#3a6ff2" stroke-width="1.9" stroke-linejoin="round" stroke-linecap="round" />
<path d="M36.4 700 L36.45 697.72 L36.51 694.57 L36.58 690.8 L36.66 686.69 L36.75 682.49 L36.84 678.46 L36.92 674.88 L37 672 L37.07 669.76 L37.13 667.88 L37.19 666.3 L37.25 664.96 L37.32 663.82 L37.39 662.82 L37.49 661.9 L37.6 661 L37.73 660.19 L37.86 659.56 L38 659.06 L38.15 658.67 L38.32 658.36 L38.52 658.1 L38.74 657.85 L39 657.6 L39.3 657.36 L39.64 657.18 L40.01 657.04 L40.4 656.94 L40.8 656.87 L41.21 656.81 L41.61 656.76 L42 656.7 L41.92 656.65 L41.18 656.61 L40.18 656.6 L39.31 656.59 L38.97 656.59 L39.54 656.59 L41.42 656.6 L45 656.6 L50.44 656.61 L57.44 656.63 L65.68 656.67 L74.88 656.7 L84.71 656.73 L94.88 656.74 L105.07 656.73 L115 656.7 L125.08 656.64 L135.78 656.55 L146.88 656.45 L158.12 656.33 L169.3 656.2 L180.16 656.07 L190.47 655.93 L200 655.8 L208.97 655.66 L217.7 655.51 L226.09 655.35 L234.06 655.19 L241.53 655.03 L248.4 654.88 L254.58 654.73 L260 654.6 L264.49 654.48 L268.08 654.37 L270.93 654.28 L273.21 654.18 L275.09 654.09 L276.73 654 L278.31 653.9 L280 653.8 L281.65 653.71 L283.04 653.63 L284.22 653.56 L285.24 653.48 L286.15 653.39 L286.99 653.27 L287.83 653.11 L288.7 652.9 L289.57 652.64 L290.38 652.33 L291.13 651.99 L291.84 651.61 L292.52 651.22 L293.18 650.81 L293.84 650.4 L294.5 650 L295.16 649.61 L295.81 649.24 L296.44 648.86 L297.06 648.48 L297.66 648.06 L298.25 647.6 L298.83 647.09 L299.4 646.5 L299.95 645.85 L300.49 645.16 L301.02 644.41 L301.53 643.62 L302.03 642.79 L302.53 641.91 L303.02 640.98 L303.5 640 L303.98 638.98 L304.44 637.91 L304.9 636.79 L305.34 635.62 L305.79 634.41 L306.23 633.16 L306.66 631.85 L307.1 630.5 L307.54 629.07 L307.98 627.54 L308.42 625.94 L308.86 624.31 L309.29 622.67 L309.7 621.05 L310.11 619.48 L310.5 618 L310.87 616.58 L311.22 615.2 L311.56 613.85 L311.89 612.53 L312.21 611.24 L312.53 609.99 L312.86 608.78 L313.2 607.6 L313.54 606.46 L313.88 605.34 L314.22 604.26 L314.56 603.22 L314.91 602.22 L315.26 601.26 L315.63 600.35 L316 599.5 L316.41 598.68 L316.87 597.89 L317.35 597.14 L317.82 596.44 L318.28 595.81 L318.7 595.25 L319.04 594.77 L319.3 594.4" fill="none" stroke="#f2591d" stroke-width="1.9" stroke-linejoin="round" stroke-linecap="round" />
<path d="M36.4 640 L36.44 640.96 L36.5 642.29 L36.57 643.86 L36.65 645.59 L36.73 647.38 L36.82 649.11 L36.91 650.68 L37 652 L37.09 653.1 L37.18 654.09 L37.28 654.99 L37.38 655.81 L37.48 656.55 L37.58 657.24 L37.69 657.89 L37.8 658.5 L37.91 659.06 L38.01 659.56 L38.11 660 L38.21 660.39 L38.33 660.73 L38.46 661.05 L38.62 661.33 L38.8 661.6 L39.01 661.84 L39.22 662.04 L39.46 662.2 L39.71 662.34 L39.99 662.45 L40.3 662.54 L40.63 662.62 L41 662.7 L41.34 662.76 L41.62 662.8 L41.88 662.82 L42.2 662.82 L42.62 662.81 L43.18 662.81 L43.96 662.8 L45 662.8 L46.08 662.8 L47.04 662.8 L48.06 662.8 L49.31 662.8 L50.96 662.8 L53.18 662.8 L56.14 662.8 L60 662.8 L64.89 662.8 L70.7 662.81 L77.26 662.81 L84.38 662.81 L91.88 662.82 L99.61 662.84 L107.37 662.86 L115 662.9 L122.75 662.95 L130.9 663 L139.3 663.06 L147.81 663.13 L156.28 663.21 L164.57 663.3 L172.52 663.39 L180 663.5 L187.06 663.61 L193.87 663.72 L200.43 663.83 L206.77 663.96 L212.88 664.1 L218.79 664.27 L224.49 664.46 L230 664.7 L235.39 664.97 L240.7 665.27 L245.84 665.6 L250.74 665.95 L255.35 666.33 L259.59 666.73 L263.4 667.15 L266.7 667.6 L269.4 668.08 L271.53 668.59 L273.19 669.13 L274.49 669.69 L275.56 670.27 L276.49 670.85 L277.4 671.43 L278.4 672 L279.4 672.56 L280.25 673.11 L280.99 673.66 L281.64 674.22 L282.23 674.79 L282.81 675.37 L283.38 675.97 L284 676.6 L284.64 677.26 L285.27 677.94 L285.88 678.63 L286.48 679.35 L287.06 680.08 L287.63 680.81 L288.18 681.56 L288.7 682.3 L289.2 683.05 L289.67 683.8 L290.12 684.55 L290.56 685.32 L290.98 686.09 L291.39 686.88 L291.79 687.68 L292.2 688.5 L292.6 689.32 L292.98 690.14 L293.35 690.96 L293.71 691.79 L294.07 692.66 L294.44 693.56 L294.81 694.5 L295.2 695.5 L295.6 696.55 L296 697.63 L296.42 698.75 L296.83 699.91 L297.25 701.12 L297.67 702.36 L298.09 703.66 L298.5 705 L298.92 706.42 L299.35 707.91 L299.78 709.47 L300.21 711.07 L300.63 712.68 L301.04 714.29 L301.43 715.87 L301.8 717.4 L302.15 718.89 L302.47 720.35 L302.78 721.8 L303.08 723.23 L303.37 724.66 L303.65 726.1 L303.93 727.54 L304.2 729 L304.47 730.47 L304.74 731.95 L305 733.43 L305.25 734.92 L305.5 736.41 L305.74 737.9 L305.97 739.4 L306.2 740.9 L306.42 742.4 L306.63 743.9 L306.84 745.41 L307.04 746.92 L307.23 748.43 L307.42 749.95 L307.61 751.47 L307.8 753 L307.99 754.62 L308.2 756.37 L308.4 758.17 L308.6 759.96 L308.79 761.65 L308.95 763.16 L309.09 764.44 L309.2 765.4" fill="none" stroke="#f2591d" stroke-width="1.9" stroke-linejoin="round" stroke-linecap="round" />
<path d="M38.6 661 L38.67 660.82 L38.75 660.57 L38.84 660.27 L38.95 659.95 L39.08 659.62 L39.23 659.3 L39.4 659.02 L39.6 658.8 L39.83 658.63 L40.09 658.49 L40.37 658.37 L40.68 658.27 L40.99 658.19 L41.33 658.12 L41.66 658.06 L42 658 L41.89 657.95 L41.14 657.93 L40.14 657.91 L39.27 657.91 L38.94 657.91 L39.52 657.91 L41.41 657.91 L45 657.9 L50.44 657.89 L57.44 657.88 L65.68 657.88 L74.88 657.87 L84.71 657.87 L94.88 657.85 L105.07 657.83 L115 657.8 L124.94 657.76 L135.31 657.71 L146 657.66 L156.88 657.6 L167.83 657.53 L178.75 657.46 L189.51 657.38 L200 657.3 L210.65 657.21 L221.75 657.11 L232.99 657 L244.04 656.89 L254.58 656.78 L264.31 656.66 L272.89 656.53 L280 656.4 L285.49 656.27 L289.59 656.13 L292.58 655.98 L294.73 655.83 L296.31 655.68 L297.6 655.52 L298.87 655.36 L300.4 655.2 L301.99 655.04 L303.28 654.88 L304.34 654.72 L305.22 654.56 L305.97 654.39 L306.65 654.21 L307.3 654.01 L308 653.8 L308.69 653.58 L309.3 653.35 L309.85 653.12 L310.34 652.87 L310.8 652.6 L311.24 652.3 L311.67 651.97 L312.1 651.6 L312.52 651.19 L312.92 650.76 L313.29 650.31 L313.65 649.82 L313.99 649.3 L314.33 648.74 L314.66 648.14 L315 647.5 L315.33 646.83 L315.63 646.15 L315.93 645.44 L316.22 644.68 L316.51 643.87 L316.82 643 L317.15 642.04 L317.5 641 L317.88 639.87 L318.29 638.68 L318.72 637.42 L319.16 636.09 L319.61 634.69 L320.05 633.21 L320.48 631.65 L320.9 630 L321.3 628.21 L321.7 626.23 L322.09 624.15 L322.47 622 L322.86 619.85 L323.24 617.77 L323.62 615.79 L324 614 L324.38 612.37 L324.75 610.84 L325.13 609.4 L325.5 608.04 L325.87 606.73 L326.25 605.46 L326.62 604.23 L327 603 L327.4 601.75 L327.84 600.48 L328.29 599.22 L328.74 598.01 L329.16 596.89 L329.54 595.89 L329.86 595.05 L330.1 594.4" fill="none" stroke="#444444" stroke-width="1.9" stroke-linejoin="round" stroke-linecap="round" />
<path d="M40 659.5 L39.97 659.59 L39.92 659.7 L39.86 659.85 L39.79 660 L39.74 660.16 L39.72 660.32 L39.74 660.47 L39.8 660.6 L39.91 660.72 L40.05 660.84 L40.22 660.95 L40.42 661.06 L40.65 661.16 L40.9 661.26 L41.19 661.34 L41.5 661.4 L41.77 661.45 L41.98 661.48 L42.18 661.49 L42.42 661.5 L42.77 661.5 L43.27 661.5 L44 661.5 L45 661.5 L46.05 661.5 L47 661.51 L48.02 661.51 L49.28 661.51 L50.94 661.5 L53.17 661.5 L56.13 661.5 L60 661.5 L64.55 661.49 L69.53 661.45 L75.06 661.41 L81.25 661.38 L88.22 661.35 L96.09 661.36 L104.98 661.4 L115 661.5 L127.02 661.66 L141.29 661.89 L157.03 662.16 L173.44 662.46 L189.73 662.76 L205.12 663.04 L218.8 663.3 L230 663.5 L238.73 663.65 L245.77 663.77 L251.43 663.87 L256.02 663.94 L259.86 664.01 L263.26 664.07 L266.53 664.13 L270 664.2 L273.45 664.27 L276.5 664.33 L279.18 664.38 L281.55 664.42 L283.64 664.48 L285.5 664.54 L287.17 664.61 L288.7 664.7 L289.98 664.8 L290.91 664.92 L291.58 665.04 L292.06 665.17 L292.42 665.31 L292.73 665.46 L293.07 665.62 L293.5 665.8 L293.99 665.98 L294.45 666.17 L294.88 666.38 L295.29 666.59 L295.69 666.81 L296.07 667.06 L296.44 667.32 L296.8 667.6 L297.16 667.9 L297.5 668.21 L297.83 668.54 L298.14 668.89 L298.45 669.25 L298.74 669.64 L299.03 670.06 L299.3 670.5 L299.56 670.97 L299.79 671.45 L300 671.97 L300.21 672.5 L300.42 673.06 L300.63 673.65 L300.86 674.26 L301.1 674.9 L301.36 675.57 L301.64 676.28 L301.93 677.02 L302.23 677.78 L302.53 678.56 L302.83 679.36 L303.12 680.18 L303.4 681 L303.67 681.82 L303.93 682.64 L304.19 683.47 L304.45 684.31 L304.71 685.19 L304.97 686.1 L305.23 687.07 L305.5 688.1 L305.78 689.2 L306.07 690.36 L306.36 691.57 L306.65 692.83 L306.94 694.11 L307.23 695.4 L307.52 696.71 L307.8 698 L308.07 699.28 L308.34 700.55 L308.61 701.82 L308.87 703.11 L309.13 704.43 L309.39 705.79 L309.64 707.21 L309.9 708.7 L310.16 710.27 L310.41 711.89 L310.67 713.57 L310.92 715.3 L311.18 717.06 L311.42 718.86 L311.67 720.67 L311.9 722.5 L312.13 724.37 L312.35 726.29 L312.57 728.25 L312.79 730.24 L313 732.22 L313.2 734.19 L313.4 736.12 L313.6 738 L313.79 739.83 L313.98 741.62 L314.16 743.39 L314.33 745.13 L314.5 746.86 L314.67 748.58 L314.84 750.29 L315 752 L315.17 753.8 L315.34 755.71 L315.52 757.66 L315.69 759.58 L315.85 761.38 L315.99 763.01 L316.11 764.37 L316.2 765.4" fill="none" stroke="#444444" stroke-width="1.9" stroke-linejoin="round" stroke-linecap="round" />
<line x1="35.9" y1="572.2" x2="359.6" y2="572.2" stroke="#1c1c1c" stroke-width="1.25" />
<line x1="359.6" y1="572.2" x2="359.6" y2="787.8" stroke="#1c1c1c" stroke-width="1.25" />
<line x1="35.9" y1="571.6" x2="35.9" y2="788.6" stroke="#1c1c1c" stroke-width="1.7" />
<line x1="35.1" y1="787.8" x2="360.2" y2="787.8" stroke="#1c1c1c" stroke-width="1.6" />
<line x1="34" y1="787.8" x2="35.9" y2="787.8" stroke="#1c1c1c" stroke-width="1.3" />
<line x1="34" y1="776.45" x2="35.9" y2="776.45" stroke="#1c1c1c" stroke-width="1.3" />
<line x1="32.7" y1="765.11" x2="35.9" y2="765.11" stroke="#1c1c1c" stroke-width="1.5" />
<text transform="translate(31 768.9) scale(1.13 1)" font-size="10.7" font-weight="bold" fill="#111" text-anchor="end" font-family='"Liberation Sans", sans-serif' >2.5</text>
<line x1="34" y1="753.76" x2="35.9" y2="753.76" stroke="#1c1c1c" stroke-width="1.3" />
<line x1="34" y1="742.41" x2="35.9" y2="742.41" stroke="#1c1c1c" stroke-width="1.3" />
<line x1="34" y1="731.06" x2="35.9" y2="731.06" stroke="#1c1c1c" stroke-width="1.3" />
<line x1="34" y1="719.72" x2="35.9" y2="719.72" stroke="#1c1c1c" stroke-width="1.3" />
<line x1="32.7" y1="708.37" x2="35.9" y2="708.37" stroke="#1c1c1c" stroke-width="1.5" />
<text transform="translate(31 712.17) scale(1.13 1)" font-size="10.7" font-weight="bold" fill="#111" text-anchor="end" font-family='"Liberation Sans", sans-serif' >3.0</text>
<line x1="34" y1="697.02" x2="35.9" y2="697.02" stroke="#1c1c1c" stroke-width="1.3" />
<line x1="34" y1="685.68" x2="35.9" y2="685.68" stroke="#1c1c1c" stroke-width="1.3" />
<line x1="34" y1="674.33" x2="35.9" y2="674.33" stroke="#1c1c1c" stroke-width="1.3" />
<line x1="34" y1="662.98" x2="35.9" y2="662.98" stroke="#1c1c1c" stroke-width="1.3" />
<line x1="32.7" y1="651.63" x2="35.9" y2="651.63" stroke="#1c1c1c" stroke-width="1.5" />
<text transform="translate(31 655.43) scale(1.13 1)" font-size="10.7" font-weight="bold" fill="#111" text-anchor="end" font-family='"Liberation Sans", sans-serif' >3.5</text>
<line x1="34" y1="640.29" x2="35.9" y2="640.29" stroke="#1c1c1c" stroke-width="1.3" />
<line x1="34" y1="628.94" x2="35.9" y2="628.94" stroke="#1c1c1c" stroke-width="1.3" />
<line x1="34" y1="617.59" x2="35.9" y2="617.59" stroke="#1c1c1c" stroke-width="1.3" />
<line x1="34" y1="606.25" x2="35.9" y2="606.25" stroke="#1c1c1c" stroke-width="1.3" />
<line x1="32.7" y1="594.9" x2="35.9" y2="594.9" stroke="#1c1c1c" stroke-width="1.5" />
<text transform="translate(31 598.7) scale(1.13 1)" font-size="10.7" font-weight="bold" fill="#111" text-anchor="end" font-family='"Liberation Sans", sans-serif' >4.0</text>
<line x1="34" y1="583.55" x2="35.9" y2="583.55" stroke="#1c1c1c" stroke-width="1.3" />
<line x1="35.9" y1="787.8" x2="35.9" y2="791" stroke="#1c1c1c" stroke-width="1.5" />
<text transform="translate(35.9 802) scale(1.13 1)" font-size="10.7" font-weight="bold" fill="#111" text-anchor="middle" font-family='"Liberation Sans", sans-serif' >0</text>
<line x1="43.5" y1="787.8" x2="43.5" y2="789.8" stroke="#1c1c1c" stroke-width="1.3" />
<line x1="51.1" y1="787.8" x2="51.1" y2="789.8" stroke="#1c1c1c" stroke-width="1.3" />
<line x1="58.7" y1="787.8" x2="58.7" y2="789.8" stroke="#1c1c1c" stroke-width="1.3" />
<line x1="66.3" y1="787.8" x2="66.3" y2="789.8" stroke="#1c1c1c" stroke-width="1.3" />
<line x1="73.9" y1="787.8" x2="73.9" y2="791" stroke="#1c1c1c" stroke-width="1.5" />
<text transform="translate(73.9 802) scale(1.13 1)" font-size="10.7" font-weight="bold" fill="#111" text-anchor="middle" font-family='"Liberation Sans", sans-serif' >20</text>
<line x1="81.5" y1="787.8" x2="81.5" y2="789.8" stroke="#1c1c1c" stroke-width="1.3" />
<line x1="89.1" y1="787.8" x2="89.1" y2="789.8" stroke="#1c1c1c" stroke-width="1.3" />
<line x1="96.7" y1="787.8" x2="96.7" y2="789.8" stroke="#1c1c1c" stroke-width="1.3" />
<line x1="104.3" y1="787.8" x2="104.3" y2="789.8" stroke="#1c1c1c" stroke-width="1.3" />
<line x1="111.9" y1="787.8" x2="111.9" y2="791" stroke="#1c1c1c" stroke-width="1.5" />
<text transform="translate(111.9 802) scale(1.13 1)" font-size="10.7" font-weight="bold" fill="#111" text-anchor="middle" font-family='"Liberation Sans", sans-serif' >40</text>
<line x1="119.5" y1="787.8" x2="119.5" y2="789.8" stroke="#1c1c1c" stroke-width="1.3" />
<line x1="127.1" y1="787.8" x2="127.1" y2="789.8" stroke="#1c1c1c" stroke-width="1.3" />
<line x1="134.7" y1="787.8" x2="134.7" y2="789.8" stroke="#1c1c1c" stroke-width="1.3" />
<line x1="142.3" y1="787.8" x2="142.3" y2="789.8" stroke="#1c1c1c" stroke-width="1.3" />
<line x1="149.9" y1="787.8" x2="149.9" y2="791" stroke="#1c1c1c" stroke-width="1.5" />
<text transform="translate(149.9 802) scale(1.13 1)" font-size="10.7" font-weight="bold" fill="#111" text-anchor="middle" font-family='"Liberation Sans", sans-serif' >60</text>
<line x1="157.5" y1="787.8" x2="157.5" y2="789.8" stroke="#1c1c1c" stroke-width="1.3" />
<line x1="165.1" y1="787.8" x2="165.1" y2="789.8" stroke="#1c1c1c" stroke-width="1.3" />
<line x1="172.7" y1="787.8" x2="172.7" y2="789.8" stroke="#1c1c1c" stroke-width="1.3" />
<line x1="180.3" y1="787.8" x2="180.3" y2="789.8" stroke="#1c1c1c" stroke-width="1.3" />
<line x1="187.9" y1="787.8" x2="187.9" y2="791" stroke="#1c1c1c" stroke-width="1.5" />
<text transform="translate(187.9 802) scale(1.13 1)" font-size="10.7" font-weight="bold" fill="#111" text-anchor="middle" font-family='"Liberation Sans", sans-serif' >80</text>
<line x1="195.5" y1="787.8" x2="195.5" y2="789.8" stroke="#1c1c1c" stroke-width="1.3" />
<line x1="203.1" y1="787.8" x2="203.1" y2="789.8" stroke="#1c1c1c" stroke-width="1.3" />
<line x1="210.7" y1="787.8" x2="210.7" y2="789.8" stroke="#1c1c1c" stroke-width="1.3" />
<line x1="218.3" y1="787.8" x2="218.3" y2="789.8" stroke="#1c1c1c" stroke-width="1.3" />
<line x1="225.9" y1="787.8" x2="225.9" y2="791" stroke="#1c1c1c" stroke-width="1.5" />
<text transform="translate(225.9 802) scale(1.13 1)" font-size="10.7" font-weight="bold" fill="#111" text-anchor="middle" font-family='"Liberation Sans", sans-serif' >100</text>
<line x1="233.5" y1="787.8" x2="233.5" y2="789.8" stroke="#1c1c1c" stroke-width="1.3" />
<line x1="241.1" y1="787.8" x2="241.1" y2="789.8" stroke="#1c1c1c" stroke-width="1.3" />
<line x1="248.7" y1="787.8" x2="248.7" y2="789.8" stroke="#1c1c1c" stroke-width="1.3" />
<line x1="256.3" y1="787.8" x2="256.3" y2="789.8" stroke="#1c1c1c" stroke-width="1.3" />
<line x1="263.9" y1="787.8" x2="263.9" y2="791" stroke="#1c1c1c" stroke-width="1.5" />
<text transform="translate(263.9 802) scale(1.13 1)" font-size="10.7" font-weight="bold" fill="#111" text-anchor="middle" font-family='"Liberation Sans", sans-serif' >120</text>
<line x1="271.5" y1="787.8" x2="271.5" y2="789.8" stroke="#1c1c1c" stroke-width="1.3" />
<line x1="279.1" y1="787.8" x2="279.1" y2="789.8" stroke="#1c1c1c" stroke-width="1.3" />
<line x1="286.7" y1="787.8" x2="286.7" y2="789.8" stroke="#1c1c1c" stroke-width="1.3" />
<line x1="294.3" y1="787.8" x2="294.3" y2="789.8" stroke="#1c1c1c" stroke-width="1.3" />
<line x1="301.9" y1="787.8" x2="301.9" y2="791" stroke="#1c1c1c" stroke-width="1.5" />
<text transform="translate(301.9 802) scale(1.13 1)" font-size="10.7" font-weight="bold" fill="#111" text-anchor="middle" font-family='"Liberation Sans", sans-serif' >140</text>
<line x1="309.5" y1="787.8" x2="309.5" y2="789.8" stroke="#1c1c1c" stroke-width="1.3" />
<line x1="317.1" y1="787.8" x2="317.1" y2="789.8" stroke="#1c1c1c" stroke-width="1.3" />
<line x1="324.7" y1="787.8" x2="324.7" y2="789.8" stroke="#1c1c1c" stroke-width="1.3" />
<line x1="332.3" y1="787.8" x2="332.3" y2="789.8" stroke="#1c1c1c" stroke-width="1.3" />
<line x1="339.9" y1="787.8" x2="339.9" y2="791" stroke="#1c1c1c" stroke-width="1.5" />
<text transform="translate(339.9 802) scale(1.13 1)" font-size="10.7" font-weight="bold" fill="#111" text-anchor="middle" font-family='"Liberation Sans", sans-serif' >160</text>
<line x1="347.5" y1="787.8" x2="347.5" y2="789.8" stroke="#1c1c1c" stroke-width="1.3" />
<line x1="355.1" y1="787.8" x2="355.1" y2="789.8" stroke="#1c1c1c" stroke-width="1.3" />
<text x="10.3" y="679.7" font-size="13.2" font-weight="bold" fill="#111" text-anchor="middle" font-family='"Liberation Sans", sans-serif' transform="rotate(-90 10.3 679.7)">Voltage (V)</text>
<text x="198" y="815.4" font-size="12.8" font-weight="bold" fill="#111" text-anchor="middle" font-family='"Liberation Sans", sans-serif' >Special capacity (mAh&#183;g<tspan dy="-4.5" font-size="8.5">-1</tspan><tspan dy="4.5">)</tspan></text>
<text transform="translate(2.6 579) scale(1.14 1)" font-size="28" font-weight="bold" fill="#000" text-anchor="start" font-family='"Liberation Sans", sans-serif' >f</text>
<text x="78" y="728.2" font-size="11.8" font-weight="bold" fill="#111" text-anchor="start" font-family='"Liberation Sans", sans-serif' >Al-LFP||Li</text>
<line x1="50" y1="766.3" x2="350.2" y2="766.3" stroke="#2a2a2a" stroke-width="1.3" />
<path d="M42.8 766.3 L54.2 763.6 L50.6 766.3 L54.2 769 Z" fill="#111"/>
<text x="59.2" y="776.1" font-size="11.2" font-weight="bold" fill="#111" text-anchor="start" font-family='"Liberation Sans", sans-serif' >C-rate</text>
<text transform="translate(160.4 776.7) scale(1.1 1)" font-size="10.8" font-weight="bold" fill="#76464a" text-anchor="middle" font-family='"Liberation Sans", sans-serif' >5</text>
<text transform="translate(178.4 776.7) scale(1.1 1)" font-size="10.8" font-weight="bold" fill="#56d6c6" text-anchor="middle" font-family='"Liberation Sans", sans-serif' >4</text>
<text transform="translate(200.4 776.7) scale(1.1 1)" font-size="10.8" font-weight="bold" fill="#c49a2c" text-anchor="middle" font-family='"Liberation Sans", sans-serif' >3</text>
<text transform="translate(229.4 776.7) scale(1.1 1)" font-size="10.8" font-weight="bold" fill="#a85ef0" text-anchor="middle" font-family='"Liberation Sans", sans-serif' >2</text>
<text transform="translate(263.3 776.7) scale(1.1 1)" font-size="10.8" font-weight="bold" fill="#3d9a56" text-anchor="middle" font-family='"Liberation Sans", sans-serif' >1</text>
<text transform="translate(284 776.7) scale(1.1 1)" font-size="10.8" font-weight="bold" fill="#3764e8" text-anchor="middle" font-family='"Liberation Sans", sans-serif' >0.5</text>
<text transform="translate(303.3 776.7) scale(1.1 1)" font-size="10.8" font-weight="bold" fill="#f05a20" text-anchor="middle" font-family='"Liberation Sans", sans-serif' >0.2</text>
<text transform="translate(322.6 776.7) scale(1.1 1)" font-size="10.8" font-weight="bold" fill="#3e3e3e" text-anchor="middle" font-family='"Liberation Sans", sans-serif' >0.1</text>
<defs>
<radialGradient id="bp" cx="0.38" cy="0.33" r="0.7">
<stop offset="0" stop-color="#f0d0ff"/><stop offset="0.28" stop-color="#b040ff"/><stop offset="0.75" stop-color="#8200e8"/><stop offset="1" stop-color="#5a00a8"/></radialGradient>
<radialGradient id="bg" cx="0.38" cy="0.33" r="0.7">
<stop offset="0" stop-color="#d8d8d8"/><stop offset="0.28" stop-color="#6a6a6a"/><stop offset="0.75" stop-color="#484848"/><stop offset="1" stop-color="#2c2c2c"/></radialGradient>
</defs>
<path d="M419.9 524.52 L464.4 521.55 L523 516.52 L567.6 508.52 L612.3 495.5 L638.1 483.84 L656.6 471.96 L671 459.4" fill="none" stroke="#8c1af0" stroke-width="1.8" stroke-linejoin="round" stroke-linecap="round" />
<path d="M419.9 524.06 L464.4 521.2 L523 511.72 L567.6 501.44 L612.3 470.36 L638.1 436.32 L656.6 407.75 L671 378.74" fill="none" stroke="#444444" stroke-width="1.8" stroke-linejoin="round" stroke-linecap="round" />
<circle cx="419.9" cy="524.52" r="4.3" fill="url(#bp)"/>
<circle cx="464.4" cy="521.55" r="4.3" fill="url(#bp)"/>
<circle cx="523" cy="516.52" r="4.3" fill="url(#bp)"/>
<circle cx="567.6" cy="508.52" r="4.3" fill="url(#bp)"/>
<circle cx="612.3" cy="495.5" r="4.3" fill="url(#bp)"/>
<circle cx="638.1" cy="483.84" r="4.3" fill="url(#bp)"/>
<circle cx="656.6" cy="471.96" r="4.3" fill="url(#bp)"/>
<circle cx="671" cy="459.4" r="4.3" fill="url(#bp)"/>
<circle cx="419.9" cy="524.06" r="4.3" fill="url(#bg)"/>
<circle cx="464.4" cy="521.2" r="4.3" fill="url(#bg)"/>
<circle cx="523" cy="511.72" r="4.3" fill="url(#bg)"/>
<circle cx="567.6" cy="501.44" r="4.3" fill="url(#bg)"/>
<circle cx="612.3" cy="470.36" r="4.3" fill="url(#bg)"/>
<circle cx="638.1" cy="436.32" r="4.3" fill="url(#bg)"/>
<circle cx="656.6" cy="407.75" r="4.3" fill="url(#bg)"/>
<circle cx="671" cy="378.74" r="4.3" fill="url(#bg)"/>
<line x1="413.5" y1="320.7" x2="682.6" y2="320.7" stroke="#1c1c1c" stroke-width="1.25" />
<line x1="682.6" y1="320.7" x2="682.6" y2="536.4" stroke="#1c1c1c" stroke-width="1.4" />
<line x1="413.5" y1="320.1" x2="413.5" y2="537.2" stroke="#1c1c1c" stroke-width="1.6" />
<line x1="412.7" y1="536.4" x2="683.2" y2="536.4" stroke="#1c1c1c" stroke-width="1.6" />
<line x1="410.3" y1="536.4" x2="413.5" y2="536.4" stroke="#1c1c1c" stroke-width="1.5" />
<text transform="translate(407.8 540.2) scale(1.13 1)" font-size="10.7" font-weight="bold" fill="#111" text-anchor="end" font-family='"Liberation Sans", sans-serif' >0</text>
<line x1="411.6" y1="527.26" x2="413.5" y2="527.26" stroke="#1c1c1c" stroke-width="1.3" />
<line x1="411.6" y1="518.12" x2="413.5" y2="518.12" stroke="#1c1c1c" stroke-width="1.3" />
<line x1="411.6" y1="508.98" x2="413.5" y2="508.98" stroke="#1c1c1c" stroke-width="1.3" />
<line x1="411.6" y1="499.84" x2="413.5" y2="499.84" stroke="#1c1c1c" stroke-width="1.3" />
<line x1="410.3" y1="490.7" x2="413.5" y2="490.7" stroke="#1c1c1c" stroke-width="1.5" />
<text transform="translate(407.8 494.5) scale(1.13 1)" font-size="10.7" font-weight="bold" fill="#111" text-anchor="end" font-family='"Liberation Sans", sans-serif' >200</text>
<line x1="411.6" y1="481.56" x2="413.5" y2="481.56" stroke="#1c1c1c" stroke-width="1.3" />
<line x1="411.6" y1="472.42" x2="413.5" y2="472.42" stroke="#1c1c1c" stroke-width="1.3" />
<line x1="411.6" y1="463.28" x2="413.5" y2="463.28" stroke="#1c1c1c" stroke-width="1.3" />
<line x1="411.6" y1="454.14" x2="413.5" y2="454.14" stroke="#1c1c1c" stroke-width="1.3" />
<line x1="410.3" y1="445" x2="413.5" y2="445" stroke="#1c1c1c" stroke-width="1.5" />
<text transform="translate(407.8 448.8) scale(1.13 1)" font-size="10.7" font-weight="bold" fill="#111" text-anchor="end" font-family='"Liberation Sans", sans-serif' >400</text>
<line x1="411.6" y1="435.86" x2="413.5" y2="435.86" stroke="#1c1c1c" stroke-width="1.3" />
<line x1="411.6" y1="426.72" x2="413.5" y2="426.72" stroke="#1c1c1c" stroke-width="1.3" />
<line x1="411.6" y1="417.58" x2="413.5" y2="417.58" stroke="#1c1c1c" stroke-width="1.3" />
<line x1="411.6" y1="408.44" x2="413.5" y2="408.44" stroke="#1c1c1c" stroke-width="1.3" />
<line x1="410.3" y1="399.3" x2="413.5" y2="399.3" stroke="#1c1c1c" stroke-width="1.5" />
<text transform="translate(407.8 403.1) scale(1.13 1)" font-size="10.7" font-weight="bold" fill="#111" text-anchor="end" font-family='"Liberation Sans", sans-serif' >600</text>
<line x1="411.6" y1="390.16" x2="413.5" y2="390.16" stroke="#1c1c1c" stroke-width="1.3" />
<line x1="411.6" y1="381.02" x2="413.5" y2="381.02" stroke="#1c1c1c" stroke-width="1.3" />
<line x1="411.6" y1="371.88" x2="413.5" y2="371.88" stroke="#1c1c1c" stroke-width="1.3" />
<line x1="411.6" y1="362.74" x2="413.5" y2="362.74" stroke="#1c1c1c" stroke-width="1.3" />
<line x1="410.3" y1="353.6" x2="413.5" y2="353.6" stroke="#1c1c1c" stroke-width="1.5" />
<text transform="translate(407.8 357.4) scale(1.13 1)" font-size="10.7" font-weight="bold" fill="#111" text-anchor="end" font-family='"Liberation Sans", sans-serif' >800</text>
<line x1="411.6" y1="344.46" x2="413.5" y2="344.46" stroke="#1c1c1c" stroke-width="1.3" />
<line x1="411.6" y1="335.32" x2="413.5" y2="335.32" stroke="#1c1c1c" stroke-width="1.3" />
<line x1="411.6" y1="326.18" x2="413.5" y2="326.18" stroke="#1c1c1c" stroke-width="1.3" />
<line x1="419.9" y1="536.4" x2="419.9" y2="539.6" stroke="#1c1c1c" stroke-width="1.5" />
<line x1="567.6" y1="536.4" x2="567.6" y2="539.6" stroke="#1c1c1c" stroke-width="1.5" />
<line x1="413.6" y1="536.4" x2="413.6" y2="538.4" stroke="#1c1c1c" stroke-width="1.3" />
<line x1="461.2" y1="536.4" x2="461.2" y2="538.4" stroke="#1c1c1c" stroke-width="1.3" />
<line x1="486.3" y1="536.4" x2="486.3" y2="538.4" stroke="#1c1c1c" stroke-width="1.3" />
<line x1="503.9" y1="536.4" x2="503.9" y2="538.4" stroke="#1c1c1c" stroke-width="1.3" />
<line x1="518.2" y1="536.4" x2="518.2" y2="538.4" stroke="#1c1c1c" stroke-width="1.3" />
<line x1="529.5" y1="536.4" x2="529.5" y2="538.4" stroke="#1c1c1c" stroke-width="1.3" />
<line x1="539.1" y1="536.4" x2="539.1" y2="538.4" stroke="#1c1c1c" stroke-width="1.3" />
<line x1="547.6" y1="536.4" x2="547.6" y2="538.4" stroke="#1c1c1c" stroke-width="1.3" />
<line x1="555.1" y1="536.4" x2="555.1" y2="538.4" stroke="#1c1c1c" stroke-width="1.3" />
<line x1="561.8" y1="536.4" x2="561.8" y2="538.4" stroke="#1c1c1c" stroke-width="1.3" />
<line x1="608.9" y1="536.4" x2="608.9" y2="538.4" stroke="#1c1c1c" stroke-width="1.3" />
<line x1="633.8" y1="536.4" x2="633.8" y2="538.4" stroke="#1c1c1c" stroke-width="1.3" />
<line x1="651.7" y1="536.4" x2="651.7" y2="538.4" stroke="#1c1c1c" stroke-width="1.3" />
<line x1="665.9" y1="536.4" x2="665.9" y2="538.4" stroke="#1c1c1c" stroke-width="1.3" />
<line x1="677.6" y1="536.4" x2="677.6" y2="538.4" stroke="#1c1c1c" stroke-width="1.3" />
<text transform="translate(419.9 550.7) scale(1.13 1)" font-size="10.7" font-weight="bold" fill="#111" text-anchor="middle" font-family='"Liberation Sans", sans-serif' >0.1</text>
<text transform="translate(567.6 550.7) scale(1.13 1)" font-size="10.7" font-weight="bold" fill="#111" text-anchor="middle" font-family='"Liberation Sans", sans-serif' >1</text>
<text x="548.2" y="563.8" font-size="12.8" font-weight="bold" fill="#111" text-anchor="middle" font-family='"Liberation Sans", sans-serif' >Current rate (C)</text>
<text x="384.2" y="427.5" font-size="12.8" font-weight="bold" fill="#111" text-anchor="middle" font-family='"Liberation Sans", sans-serif' transform="rotate(-90 384.2 427.5)">Over potential (mV)</text>
<text transform="translate(382.6 329.4) scale(1.14 1)" font-size="28" font-weight="bold" fill="#000" text-anchor="start" font-family='"Liberation Sans", sans-serif' >g</text>
<line x1="581.8" y1="328.3" x2="608.6" y2="328.3" stroke="#8c1af0" stroke-width="1.9" />
<line x1="581.8" y1="342.6" x2="608.6" y2="342.6" stroke="#444444" stroke-width="1.9" />
<circle cx="595.5" cy="328.3" r="4.3" fill="url(#bp)"/>
<circle cx="595.5" cy="342.6" r="4.3" fill="url(#bg)"/>
<text x="611.4" y="332.4" font-size="11.55" font-weight="bold" fill="#111" text-anchor="start" font-family='"Liberation Sans", sans-serif' >CCM-LFP||Li</text>
<text x="611.4" y="346.7" font-size="11.55" font-weight="bold" fill="#111" text-anchor="start" font-family='"Liberation Sans", sans-serif' >Al-LFP||Li</text>
<path d="M419.9 601 L464.4 607.34 L523 616.67 L567.6 628.24 L612.3 642.8 L638.1 653.06 L656.6 662.02 L671 669.11" fill="none" stroke="#8c1af0" stroke-width="1.8" stroke-linejoin="round" stroke-linecap="round" />
<path d="M419.9 601 L464.4 605.48 L523 618.73 L567.6 635.52 L612.3 658.29 L638.1 677.32 L656.6 691.87 L671 704.94" fill="none" stroke="#444444" stroke-width="1.8" stroke-linejoin="round" stroke-linecap="round" />
<circle cx="419.9" cy="601" r="4.3" fill="url(#bp)"/>
<circle cx="464.4" cy="607.34" r="4.3" fill="url(#bp)"/>
<circle cx="523" cy="616.67" r="4.3" fill="url(#bp)"/>
<circle cx="567.6" cy="628.24" r="4.3" fill="url(#bp)"/>
<circle cx="612.3" cy="642.8" r="4.3" fill="url(#bp)"/>
<circle cx="638.1" cy="653.06" r="4.3" fill="url(#bp)"/>
<circle cx="656.6" cy="662.02" r="4.3" fill="url(#bp)"/>
<circle cx="671" cy="669.11" r="4.3" fill="url(#bp)"/>
<circle cx="419.9" cy="601" r="4.3" fill="url(#bg)"/>
<circle cx="464.4" cy="605.48" r="4.3" fill="url(#bg)"/>
<circle cx="523" cy="618.73" r="4.3" fill="url(#bg)"/>
<circle cx="567.6" cy="635.52" r="4.3" fill="url(#bg)"/>
<circle cx="612.3" cy="658.29" r="4.3" fill="url(#bg)"/>
<circle cx="638.1" cy="677.32" r="4.3" fill="url(#bg)"/>
<circle cx="656.6" cy="691.87" r="4.3" fill="url(#bg)"/>
<circle cx="671" cy="704.94" r="4.3" fill="url(#bg)"/>
<line x1="413.5" y1="572.3" x2="682.6" y2="572.3" stroke="#1c1c1c" stroke-width="1.25" />
<line x1="682.6" y1="572.3" x2="682.6" y2="787.6" stroke="#1c1c1c" stroke-width="1.4" />
<line x1="413.5" y1="571.7" x2="413.5" y2="788.4" stroke="#1c1c1c" stroke-width="1.6" />
<line x1="412.7" y1="787.6" x2="683.2" y2="787.6" stroke="#1c1c1c" stroke-width="1.6" />
<line x1="410.3" y1="787.6" x2="413.5" y2="787.6" stroke="#1c1c1c" stroke-width="1.5" />
<text transform="translate(407.8 791.4) scale(1.13 1)" font-size="10.7" font-weight="bold" fill="#111" text-anchor="end" font-family='"Liberation Sans", sans-serif' >0</text>
<line x1="411.6" y1="780.14" x2="413.5" y2="780.14" stroke="#1c1c1c" stroke-width="1.3" />
<line x1="411.6" y1="772.67" x2="413.5" y2="772.67" stroke="#1c1c1c" stroke-width="1.3" />
<line x1="411.6" y1="765.21" x2="413.5" y2="765.21" stroke="#1c1c1c" stroke-width="1.3" />
<line x1="411.6" y1="757.74" x2="413.5" y2="757.74" stroke="#1c1c1c" stroke-width="1.3" />
<line x1="410.3" y1="750.28" x2="413.5" y2="750.28" stroke="#1c1c1c" stroke-width="1.5" />
<text transform="translate(407.8 754.08) scale(1.13 1)" font-size="10.7" font-weight="bold" fill="#111" text-anchor="end" font-family='"Liberation Sans", sans-serif' >20</text>
<line x1="411.6" y1="742.82" x2="413.5" y2="742.82" stroke="#1c1c1c" stroke-width="1.3" />
<line x1="411.6" y1="735.35" x2="413.5" y2="735.35" stroke="#1c1c1c" stroke-width="1.3" />
<line x1="411.6" y1="727.89" x2="413.5" y2="727.89" stroke="#1c1c1c" stroke-width="1.3" />
<line x1="411.6" y1="720.42" x2="413.5" y2="720.42" stroke="#1c1c1c" stroke-width="1.3" />
<line x1="410.3" y1="712.96" x2="413.5" y2="712.96" stroke="#1c1c1c" stroke-width="1.5" />
<text transform="translate(407.8 716.76) scale(1.13 1)" font-size="10.7" font-weight="bold" fill="#111" text-anchor="end" font-family='"Liberation Sans", sans-serif' >40</text>
<line x1="411.6" y1="705.5" x2="413.5" y2="705.5" stroke="#1c1c1c" stroke-width="1.3" />
<line x1="411.6" y1="698.03" x2="413.5" y2="698.03" stroke="#1c1c1c" stroke-width="1.3" />
<line x1="411.6" y1="690.57" x2="413.5" y2="690.57" stroke="#1c1c1c" stroke-width="1.3" />
<line x1="411.6" y1="683.1" x2="413.5" y2="683.1" stroke="#1c1c1c" stroke-width="1.3" />
<line x1="410.3" y1="675.64" x2="413.5" y2="675.64" stroke="#1c1c1c" stroke-width="1.5" />
<text transform="translate(407.8 679.44) scale(1.13 1)" font-size="10.7" font-weight="bold" fill="#111" text-anchor="end" font-family='"Liberation Sans", sans-serif' >60</text>
<line x1="411.6" y1="668.18" x2="413.5" y2="668.18" stroke="#1c1c1c" stroke-width="1.3" />
<line x1="411.6" y1="660.71" x2="413.5" y2="660.71" stroke="#1c1c1c" stroke-width="1.3" />
<line x1="411.6" y1="653.25" x2="413.5" y2="653.25" stroke="#1c1c1c" stroke-width="1.3" />
<line x1="411.6" y1="645.78" x2="413.5" y2="645.78" stroke="#1c1c1c" stroke-width="1.3" />
<line x1="410.3" y1="638.32" x2="413.5" y2="638.32" stroke="#1c1c1c" stroke-width="1.5" />
<text transform="translate(407.8 642.12) scale(1.13 1)" font-size="10.7" font-weight="bold" fill="#111" text-anchor="end" font-family='"Liberation Sans", sans-serif' >80</text>
<line x1="411.6" y1="630.86" x2="413.5" y2="630.86" stroke="#1c1c1c" stroke-width="1.3" />
<line x1="411.6" y1="623.39" x2="413.5" y2="623.39" stroke="#1c1c1c" stroke-width="1.3" />
<line x1="411.6" y1="615.93" x2="413.5" y2="615.93" stroke="#1c1c1c" stroke-width="1.3" />
<line x1="411.6" y1="608.46" x2="413.5" y2="608.46" stroke="#1c1c1c" stroke-width="1.3" />
<line x1="410.3" y1="601" x2="413.5" y2="601" stroke="#1c1c1c" stroke-width="1.5" />
<text transform="translate(407.8 604.8) scale(1.13 1)" font-size="10.7" font-weight="bold" fill="#111" text-anchor="end" font-family='"Liberation Sans", sans-serif' >100</text>
<line x1="411.6" y1="593.54" x2="413.5" y2="593.54" stroke="#1c1c1c" stroke-width="1.3" />
<line x1="411.6" y1="586.07" x2="413.5" y2="586.07" stroke="#1c1c1c" stroke-width="1.3" />
<line x1="411.6" y1="578.61" x2="413.5" y2="578.61" stroke="#1c1c1c" stroke-width="1.3" />
<line x1="419.9" y1="787.6" x2="419.9" y2="790.8" stroke="#1c1c1c" stroke-width="1.5" />
<line x1="567.6" y1="787.6" x2="567.6" y2="790.8" stroke="#1c1c1c" stroke-width="1.5" />
<line x1="413.6" y1="787.6" x2="413.6" y2="789.6" stroke="#1c1c1c" stroke-width="1.3" />
<line x1="461.2" y1="787.6" x2="461.2" y2="789.6" stroke="#1c1c1c" stroke-width="1.3" />
<line x1="486.3" y1="787.6" x2="486.3" y2="789.6" stroke="#1c1c1c" stroke-width="1.3" />
<line x1="503.9" y1="787.6" x2="503.9" y2="789.6" stroke="#1c1c1c" stroke-width="1.3" />
<line x1="518.2" y1="787.6" x2="518.2" y2="789.6" stroke="#1c1c1c" stroke-width="1.3" />
<line x1="529.5" y1="787.6" x2="529.5" y2="789.6" stroke="#1c1c1c" stroke-width="1.3" />
<line x1="539.1" y1="787.6" x2="539.1" y2="789.6" stroke="#1c1c1c" stroke-width="1.3" />
<line x1="547.6" y1="787.6" x2="547.6" y2="789.6" stroke="#1c1c1c" stroke-width="1.3" />
<line x1="555.1" y1="787.6" x2="555.1" y2="789.6" stroke="#1c1c1c" stroke-width="1.3" />
<line x1="561.8" y1="787.6" x2="561.8" y2="789.6" stroke="#1c1c1c" stroke-width="1.3" />
<line x1="608.9" y1="787.6" x2="608.9" y2="789.6" stroke="#1c1c1c" stroke-width="1.3" />
<line x1="633.8" y1="787.6" x2="633.8" y2="789.6" stroke="#1c1c1c" stroke-width="1.3" />
<line x1="651.7" y1="787.6" x2="651.7" y2="789.6" stroke="#1c1c1c" stroke-width="1.3" />
<line x1="665.9" y1="787.6" x2="665.9" y2="789.6" stroke="#1c1c1c" stroke-width="1.3" />
<line x1="677.6" y1="787.6" x2="677.6" y2="789.6" stroke="#1c1c1c" stroke-width="1.3" />
<text transform="translate(419.9 801.9) scale(1.13 1)" font-size="10.7" font-weight="bold" fill="#111" text-anchor="middle" font-family='"Liberation Sans", sans-serif' >0.1</text>
<text transform="translate(567.6 801.9) scale(1.13 1)" font-size="10.7" font-weight="bold" fill="#111" text-anchor="middle" font-family='"Liberation Sans", sans-serif' >1</text>
<text x="548.2" y="815" font-size="12.8" font-weight="bold" fill="#111" text-anchor="middle" font-family='"Liberation Sans", sans-serif' >Current rate (C)</text>
<text x="385.3" y="678.8" font-size="12.8" font-weight="bold" fill="#111" text-anchor="middle" font-family='"Liberation Sans", sans-serif' transform="rotate(-90 385.3 678.8)">Capacity retention (%)</text>
<text transform="translate(382.6 579) scale(1.14 1)" font-size="28" font-weight="bold" fill="#000" text-anchor="start" font-family='"Liberation Sans", sans-serif' >h</text>
<line x1="581.8" y1="579.9" x2="608.6" y2="579.9" stroke="#8c1af0" stroke-width="1.9" />
<line x1="581.8" y1="594.2" x2="608.6" y2="594.2" stroke="#444444" stroke-width="1.9" />
<circle cx="595.5" cy="579.9" r="4.3" fill="url(#bp)"/>
<circle cx="595.5" cy="594.2" r="4.3" fill="url(#bg)"/>
<text x="611.4" y="584" font-size="11.55" font-weight="bold" fill="#111" text-anchor="start" font-family='"Liberation Sans", sans-serif' >CCM-LFP||Li</text>
<text x="611.4" y="598.3" font-size="11.55" font-weight="bold" fill="#111" text-anchor="start" font-family='"Liberation Sans", sans-serif' >Al-LFP||Li</text>
</svg></body></html>
